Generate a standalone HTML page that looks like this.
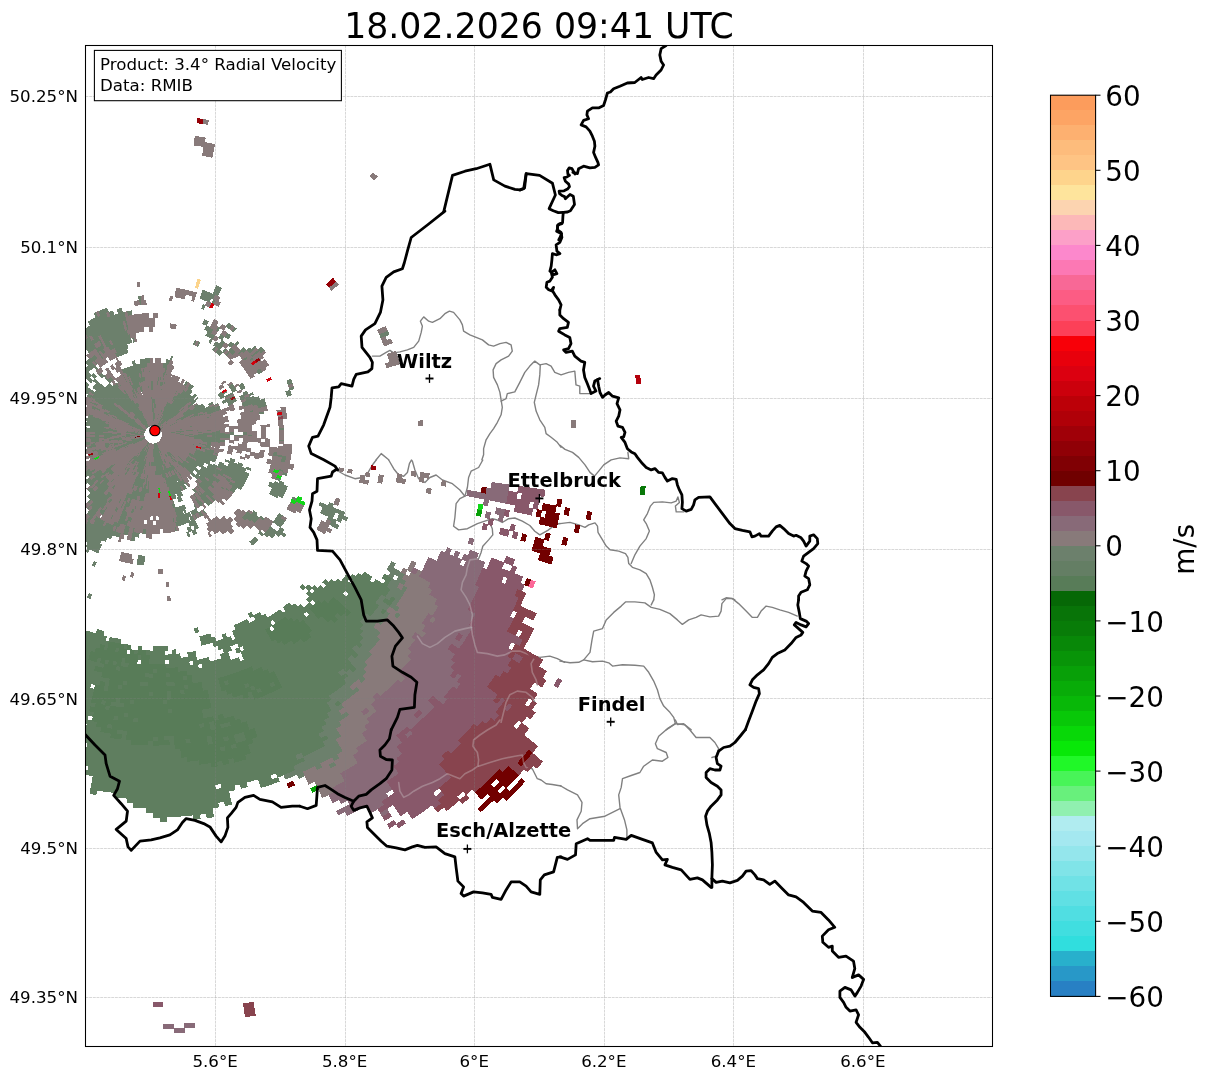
<!DOCTYPE html>
<html><head><meta charset="utf-8"><title>Radial Velocity</title>
<style>
html,body{margin:0;padding:0;background:#fff;}
svg{display:block;font-family:"DejaVu Sans","Liberation Sans",sans-serif;}
</style></head><body>
<svg width="1207" height="1081" viewBox="0 0 1207 1081">
<rect width="1207" height="1081" fill="#fff"/>
<defs><clipPath id="axclip"><rect x="85.5" y="45.5" width="907" height="1001"/></clipPath></defs>
<defs><clipPath id="blobclip"><path d="M81.5 632.7L81.5 772.2L86.2 772.4L92.5 777.9L91.6 788.7L97.5 789.6L105.2 788.4L113.1 791.0L133.1 804.8L153.0 811.0L160.7 814.9L161.4 819.3L174.6 815.9L184.7 814.7L194.8 815.9L202.1 813.4L209.3 813.4L214.2 808.6L221.9 804.8L228.8 803.6L230.7 797.6L226.0 790.5L226.8 788.5L252.0 781.0L262.4 783.4L282.0 777.2L299.9 773.4L305.7 778.7L313.1 782.4L328.3 793.8L331.0 798.5L341.4 799.4L345.7 801.5L346.2 803.2L344.1 806.1L348.3 809.7L353.7 811.2L358.8 807.0L365.4 804.0L370.6 805.2L373.3 809.3L377.9 808.8L384.6 815.6L387.6 813.2L387.1 808.3L391.2 805.1L392.7 805.1L399.9 817.0L399.6 818.4L395.8 822.2L399.8 827.6L404.0 825.1L399.7 815.7L403.4 809.7L404.8 809.7L408.6 812.6L411.8 816.4L414.8 814.6L417.3 809.6L422.3 807.7L427.8 808.5L433.4 805.8L437.0 807.3L441.1 804.0L446.7 808.1L448.8 811.6L451.0 810.0L453.3 806.1L452.9 799.7L457.4 796.6L462.5 798.1L468.0 790.3L476.4 789.2L490.2 774.5L496.3 775.2L503.8 771.6L512.8 773.3L522.1 767.0L526.7 769.2L528.8 766.4L533.4 763.6L536.2 759.4L531.1 753.9L534.2 748.6L530.6 746.4L522.0 735.7L524.4 729.6L521.8 724.0L524.9 717.7L529.0 712.7L526.6 706.8L532.8 701.8L536.2 696.7L537.2 689.3L543.2 681.6L540.7 677.8L543.2 673.3L537.1 666.4L538.5 661.1L530.2 656.8L525.1 651.6L525.5 649.9L528.2 648.5L523.2 642.3L529.3 632.6L519.5 620.5L520.2 619.2L526.1 616.3L530.2 617.6L531.1 614.8L525.5 612.4L521.3 606.5L526.4 596.2L523.2 593.7L526.1 587.4L527.4 586.6L532.7 587.3L533.1 584.3L525.6 583.7L516.1 576.1L515.8 570.5L513.6 569.4L508.5 571.9L507.0 571.7L503.1 566.7L502.9 565.3L509.9 563.6L511.3 561.2L504.6 559.2L499.1 562.7L489.9 560.1L485.6 562.8L478.5 559.8L471.7 553.9L470.7 555.2L464.3 557.2L459.5 553.6L453.9 554.4L450.8 551.5L446.7 550.1L443.6 555.7L438.5 561.6L433.8 563.7L429.8 560.2L428.8 560.4L429.8 563.8L424.3 569.2L419.5 567.6L414.5 571.1L409.4 569.5L405.2 572.9L394.2 565.0L392.3 566.4L393.6 571.3L387.9 573.6L382.6 584.0L374.1 578.3L367.3 575.8L345.2 581.4L337.6 582.0L330.3 583.9L318.0 588.8L311.4 592.7L305.1 589.4L311.2 595.5L313.8 602.2L313.0 603.8L306.5 604.0L300.1 607.7L293.7 607.0L286.7 608.8L280.5 612.6L273.1 615.0L266.4 620.2L254.9 616.5L250.8 617.5L246.8 623.8L240.5 622.8L233.3 634.9L219.1 640.1L212.2 636.5L206.9 637.6L201.6 634.9L197.0 631.0L193.5 631.7L193.9 635.8L196.0 641.1L217.8 644.7L225.2 649.6L232.5 648.4L240.4 649.8L243.8 657.0L242.7 658.9L234.6 658.9L227.2 655.2L220.6 656.3L215.2 661.4L209.7 659.0L202.2 660.9L179.6 655.1L165.8 652.6L159.8 649.1L152.6 651.4L144.7 651.4L137.1 647.7L129.4 647.6L116.7 641.2L111.8 637.5L104.7 635.2L97.0 634.4L91.1 631.1L85.8 632.7L81.5 632.7Z"/></clipPath></defs>
<g clip-path="url(#axclip)" fill="none" stroke-linejoin="round" stroke-linecap="round">
<g stroke="#808080" stroke-width="1.39">
<path d="M372.4 356.1 L379.9 356.1 L386.2 352.4 L389.9 350.4 L393.7 352.9 L399.9 351.9 L407.4 349.9 L413.7 347.4 L418.7 341.1 L421.2 332.4 L422.4 326.2 L420.4 321.2 L423.7 316.9 L428.7 321.2 L432.4 322.4 L439.9 318.7 L444.9 313.7 L449.4 311.2 L453.6 312.4 L459.9 319.9 L462.4 324.9 L463.6 331.2 L469.9 334.9 L474.9 336.9 L482.4 339.9 L488.6 344.9 L493.6 346.1 L499.9 343.6 L506.1 342.4 L511.1 344.9 L512.3 351.1 L508.6 356.1 L501.1 359.9 L496.1 363.6 L493.1 369.9 L493.6 377.4 L497.4 384.9 L499.9 392.4 L501.1 399.9 L502.3 407.3 L501.1 414.8 L497.4 422.3 L493.6 428.6 L489.9 433.6 L486.1 439.8 L483.6 448.6 L483.6 454.8 L481.9 459.8"/>
<path d="M501.1 401.1 L506.1 398.6 L507.3 393.6 L514.8 391.9 L519.8 382.4 L524.8 372.4 L529.8 366.1 L534.8 361.1 L539.8 364.9 L546.1 363.6 L551.1 366.1 L554.8 372.4 L561.1 374.9 L568.5 372.4 L574.8 371.1 L576.0 384.9 L579.8 386.1 L579.8 393.6 L589.8 393.6"/>
<path d="M540.3 364.9 L539.8 374.9 L538.6 384.9 L536.1 394.9 L534.3 402.3 L536.1 411.1 L539.8 419.8 L544.8 427.3 L546.1 433.6 L551.1 437.3 L557.3 442.3 L561.1 447.3"/>
<path d="M376.2 459.8 L381.2 453.6 L388.7 459.8"/>
<path d="M560.0 445.4 L565.0 449.4 L572.5 452.4 L578.7 457.4 L585.0 464.9 L590.0 472.4 L594.5 476.1 L598.7 471.1 L603.7 464.9 L611.2 459.9 L620.0 457.9 L628.7 458.7 L627.9 452.4"/>
<path d="M560.0 523.6 L570.0 522.4 L578.7 524.9 L585.0 527.4 L588.7 524.9 L595.0 522.9 L597.5 526.1 L598.0 532.3 L602.5 539.8 L606.2 546.1 L610.0 549.8 L618.7 551.1 L625.5 553.6 L627.9 557.3 L628.7 563.6 L632.4 567.3 L639.9 569.8 L646.2 573.6 L649.9 579.8 L652.4 587.3 L654.4 594.8 L653.7 599.8"/>
<path d="M631.2 563.6 L634.9 554.8 L639.9 546.1 L646.2 538.6 L649.4 531.1 L646.2 523.6 L643.7 519.9 L647.4 513.6 L650.4 506.1 L653.7 502.4 L662.4 501.9 L671.2 502.9 L676.2 501.1 L677.9 496.9 L679.4 502.4 L675.4 506.1 L676.2 511.9 L683.7 511.9"/>
<path d="M721.9 599.8 L726.1 597.8 L732.4 598.5 L734.9 599.8"/>
<path d="M336.2 470.0 L345.0 475.0 L354.9 478.7 L362.4 477.5 L367.4 473.7 L372.4 465.0 L376.2 460.0"/>
<path d="M388.7 460.0 L393.7 468.7 L398.7 475.0 L403.7 476.2 L407.4 472.5 L409.4 463.7 L411.4 460.0 L412.4 461.2 L414.9 470.0 L418.6 478.7 L424.9 482.5 L429.9 477.5 L436.1 475.0 L442.4 480.0 L452.4 483.7 L459.9 490.0 L464.9 496.2 L459.9 498.7 L456.1 503.7 L454.9 517.5 L453.6 526.2 L458.6 529.9 L467.4 528.7 L477.4 523.7 L484.8 521.2 L492.3 518.7 L497.3 520.0 L502.3 522.5 L508.6 518.7 L514.8 518.0 L522.3 521.2 L529.8 525.5 L534.8 531.2 L539.8 534.9 L547.8 530.4 L556.0 524.2 L560.0 523.5"/>
<path d="M464.9 496.2 L467.4 487.5 L468.6 477.5 L471.1 471.2 L478.6 467.5 L482.8 460.0"/>
<path d="M488.6 520.0 L492.3 528.7 L492.8 534.9 L488.6 539.9 L482.8 546.2 L481.1 552.4 L478.6 558.7 L469.9 559.9 L467.4 567.4 L466.1 574.9 L462.4 582.4 L461.1 589.9 L466.1 597.4 L469.9 604.9 L472.4 614.9 L471.1 624.9 L472.4 634.9 L474.9 644.9 L477.4 652.4 L487.3 653.6 L497.3 656.1 L504.8 654.9 L512.3 651.1 L519.8 651.1 L529.8 654.9 L539.8 657.4 L549.8 656.1 L557.3 658.6 L564.8 662.3"/>
<path d="M417.4 636.1 L422.4 643.6 L429.9 647.4 L437.4 643.6 L444.9 637.4 L454.9 631.1 L464.9 628.6 L471.1 627.4"/>
<path d="M501.1 722.3 L503.6 712.3 L506.1 702.3 L509.8 694.8 L517.3 691.1 L526.1 692.3 L532.3 697.3 L534.8 702.3"/>
<path d="M534.8 657.4 L531.1 663.6 L532.3 672.3 L536.1 679.8 L537.3 684.8"/>
<path d="M653.7 599.9 L651.2 604.9"/>
<path d="M560.0 661.1 L570.0 662.8 L578.7 662.3 L583.7 659.9 L590.0 652.4 L592.0 639.9 L593.7 631.1 L602.5 628.6 L606.2 619.9 L613.7 612.4 L621.2 606.1 L625.5 601.9 L634.9 601.9 L644.9 602.9 L651.2 607.4 L659.9 609.4 L669.9 613.6 L677.4 619.9 L682.4 624.4 L688.7 619.9 L696.1 617.4 L701.1 614.9 L709.9 616.9 L718.6 616.1 L721.1 611.1 L721.9 603.6 L726.1 598.6 L732.4 598.6 L738.6 603.6 L746.1 611.1 L752.4 617.4 L757.4 617.4 L761.1 611.1 L766.1 606.1 L772.3 607.4 L779.8 609.9 L788.6 612.4 L797.3 616.1"/>
<path d="M583.7 659.9 L592.5 661.8 L602.5 661.1 L608.7 662.8 L612.5 666.1 L622.5 664.8 L634.9 665.3 L643.7 666.1 L648.7 672.3 L653.7 681.1 L657.4 689.8 L659.9 698.6 L663.7 706.1 L669.9 712.3 L673.7 717.3 L675.4 723.6 L684.9 724.8 L691.2 729.8"/>
<path d="M675.4 723.6 L669.9 727.3 L666.2 729.8"/>
<path d="M675.4 720.0 L677.4 724.5 L683.7 723.7 L689.9 730.0 L696.1 737.5 L709.9 737.5 L714.9 742.5 L718.6 748.7 L716.1 756.2 L711.9 757.5"/>
<path d="M675.4 723.7 L667.4 728.7 L658.7 736.2 L655.4 743.7 L657.4 748.7 L666.2 752.5 L667.9 757.5 L662.4 761.2 L652.4 760.0 L643.7 766.2 L639.9 772.5 L631.2 775.5 L622.5 778.7 L621.2 787.4 L618.7 794.9 L620.0 807.4 L624.5 819.9 L626.9 829.9 L626.9 837.4"/>
<path d="M620.0 808.7 L605.0 816.2 L590.0 818.7 L582.5 823.7 L577.5 828.7 L577.0 819.9 L581.2 811.2 L582.0 802.4 L577.5 794.9 L567.5 789.9 L560.0 785.5"/>
<path d="M499.9 720.0 L496.1 725.0 L487.4 730.0 L479.9 735.0 L473.6 740.0 L472.9 746.2 L477.4 752.5 L478.6 760.0 L477.9 766.2 L472.4 770.0 L464.9 773.7 L459.9 778.7 L453.6 776.2 L447.4 773.7 L439.9 778.7 L432.4 782.5 L422.4 786.2 L413.7 791.2 L408.7 794.9 L403.7 797.4 L399.9 791.2 L398.7 782.5"/>
<path d="M478.6 766.2 L489.9 762.5 L502.3 758.7 L514.8 756.2 L522.3 755.0 L523.6 762.5 L526.1 767.5 L532.3 768.7 L534.8 773.7 L537.3 778.7 L541.1 780.0 L546.1 783.7 L552.3 784.5 L561.1 786.0"/>
</g></g>
<g clip-path="url(#axclip)" shape-rendering="crispEdges">
<path fill="#5F7E5F" d="M384.5 573.5L392.6 578.4L389.8 583.0L381.7 578.0ZM385.8 579.9L390.1 582.5L387.1 587.1L382.9 584.4ZM364.4 571.7L372.4 576.8L369.5 581.1L361.6 575.8ZM375.7 579.0L391.2 589.1L388.2 593.7L372.8 583.4ZM358.2 572.8L388.5 593.2L385.4 597.8L355.5 576.9ZM391.8 595.5L396.0 598.3L392.7 603.0L388.6 600.1ZM352.1 573.8L382.0 594.7L378.8 599.2L349.3 577.7ZM385.3 597.0L393.1 602.5L389.8 607.1L382.1 601.5ZM346.0 574.6L350.1 577.5L347.2 581.4L343.2 578.4ZM353.3 579.9L379.2 598.7L375.9 603.1L350.4 583.8ZM343.6 577.9L379.9 605.3L376.5 609.7L340.7 581.7ZM383.1 607.7L387.1 610.7L383.6 615.3L379.7 612.2ZM337.5 578.5L376.9 609.3L373.4 613.6L334.6 582.1ZM331.4 578.8L345.8 590.5L342.7 594.3L328.5 582.4ZM348.9 593.0L373.8 613.1L370.3 617.4L345.8 596.9ZM325.5 579.0L367.2 614.1L363.7 618.2L322.5 582.5ZM326.3 585.0L364.0 617.8L360.4 621.9L323.3 588.4ZM320.3 585.0L334.1 597.3L330.8 600.9L317.3 588.3ZM350.4 612.1L364.2 624.4L360.4 628.5L346.9 615.9ZM314.4 584.8L331.2 600.5L327.9 604.0L311.3 588.0ZM344.0 612.4L364.1 631.2L360.2 635.3L340.5 616.1ZM308.5 584.5L312.1 587.9L309.0 591.1L305.4 587.6ZM315.0 590.7L325.1 600.4L321.7 603.8L311.8 593.9ZM337.6 612.6L363.9 637.9L359.9 642.0L334.1 616.2ZM302.7 584.0L306.2 587.5L303.1 590.6L299.6 587.0ZM309.1 590.3L319.0 600.2L315.6 603.5L305.9 593.4ZM337.7 619.0L363.5 644.8L359.4 648.8L334.0 622.6ZM309.4 596.3L312.9 599.9L309.6 603.0L306.2 599.4ZM331.3 618.9L356.7 645.2L352.5 649.1L327.6 622.4ZM309.7 602.3L313.1 605.9L309.6 609.1L306.3 605.4ZM321.9 615.4L359.1 655.3L354.8 659.2L318.3 618.7ZM306.7 605.0L352.2 655.5L347.9 659.3L303.3 608.0ZM300.8 604.2L307.0 611.4L303.4 614.4L297.3 607.2ZM309.6 614.4L357.2 669.1L352.6 673.0L306.0 617.5ZM294.9 603.3L350.2 669.2L345.6 673.0L291.5 606.2ZM289.1 602.3L303.6 620.2L299.9 623.1L285.7 605.0ZM311.8 630.3L343.2 669.1L338.6 672.8L307.9 633.4ZM345.7 672.2L348.9 676.1L344.2 679.9L341.1 675.9ZM286.2 604.6L297.6 619.2L293.8 622.1L282.7 607.3ZM311.1 636.5L347.4 683.0L342.6 686.8L307.1 639.6ZM285.9 610.5L291.6 618.1L287.9 620.8L282.3 613.2ZM307.6 639.3L343.1 686.4L338.2 690.0L303.5 642.3ZM280.2 609.2L285.7 616.9L282.1 619.5L276.6 611.7ZM301.3 638.3L338.6 689.7L333.7 693.2L297.3 641.2ZM277.1 611.4L282.5 619.1L278.8 621.7L273.5 613.8ZM297.7 640.8L334.2 692.9L329.1 696.3L293.6 643.7ZM339.0 699.8L341.9 703.9L336.7 707.5L333.9 703.4ZM274.0 613.5L279.3 621.4L275.5 623.9L270.4 615.9ZM291.6 639.6L332.2 699.7L327.0 703.1L287.5 642.3ZM270.9 615.6L273.6 619.8L269.8 622.2L267.2 617.9ZM288.0 642.0L332.4 710.3L327.1 713.8L283.9 644.6ZM265.3 613.8L272.7 625.7L268.9 628.0L261.6 616.0ZM282.0 640.5L330.0 717.3L324.5 720.6L277.9 643.0ZM259.8 611.9L269.4 627.7L265.5 630.0L256.2 614.0ZM276.1 638.9L327.3 724.2L321.7 727.5L272.0 641.3ZM256.7 613.7L324.5 731.0L318.8 734.3L253.1 615.8ZM326.5 734.5L329.0 738.8L323.1 742.2L320.7 737.8ZM251.4 611.5L253.8 615.9L250.1 617.9L247.8 613.5ZM255.8 619.4L325.8 745.8L319.8 749.0L252.0 621.5ZM252.5 621.2L320.4 748.8L314.3 751.9L248.7 623.2ZM247.2 618.9L274.0 671.4L269.3 673.8L243.5 620.8ZM282.0 687.0L314.9 751.6L308.8 754.7L277.0 689.5ZM244.0 620.5L267.9 669.5L263.2 671.7L240.2 622.3ZM273.6 681.2L275.8 685.7L270.8 688.0L268.7 683.5ZM277.5 689.3L309.3 754.4L303.2 757.3L272.5 691.6ZM240.7 622.1L261.9 667.4L257.3 669.5L236.9 623.8ZM273.1 691.4L301.8 753.0L295.7 755.8L268.0 693.7ZM303.5 756.6L305.6 761.2L299.4 764.0L297.3 759.5ZM237.5 623.6L257.8 669.2L253.1 671.3L233.6 625.2ZM268.6 693.4L299.9 763.8L293.6 766.5L263.5 695.6ZM235.9 629.1L243.1 646.2L238.9 647.9L232.0 630.8ZM244.7 649.9L251.9 666.9L247.3 668.8L240.4 651.6ZM260.5 687.1L262.5 691.7L257.4 693.8L255.6 689.2ZM264.1 695.4L295.9 770.4L289.5 773.1L258.9 697.5ZM235.9 638.9L237.8 643.5L233.5 645.2L231.8 640.5ZM239.3 647.2L241.1 651.9L236.8 653.6L235.0 648.9ZM244.3 659.8L247.9 668.6L243.2 670.4L239.8 661.5ZM254.4 684.8L256.3 689.4L251.3 691.4L249.5 686.7ZM259.5 697.3L290.0 772.9L283.5 775.4L254.3 699.3ZM230.7 636.1L234.1 645.0L229.9 646.6L226.6 637.6ZM238.8 657.1L243.8 670.2L239.1 671.9L234.3 658.8ZM248.4 682.3L250.2 687.0L245.2 688.9L243.5 684.2ZM251.7 690.7L284.1 775.2L277.6 777.7L246.6 692.6ZM225.6 633.2L232.0 650.6L227.6 652.1L221.6 634.6ZM234.9 658.6L239.7 671.7L234.9 673.4L230.4 660.2ZM248.7 696.6L276.6 773.2L270.1 775.5L243.6 698.5ZM278.0 777.0L279.7 781.7L273.0 784.0L271.4 779.3ZM223.6 638.7L235.5 673.2L230.8 674.8L219.5 640.1ZM242.7 694.0L254.6 728.5L248.8 730.4L237.6 695.7ZM257.3 736.6L273.6 783.8L266.9 786.1L251.5 738.5ZM220.1 639.9L223.0 648.9L218.7 650.3L215.9 641.2ZM224.2 652.7L231.3 674.6L226.6 676.1L219.8 654.1ZM238.1 695.5L246.6 721.7L241.0 723.5L233.0 697.2ZM253.4 742.6L267.5 785.9L260.8 788.0L247.5 744.5ZM215.2 636.7L217.9 645.8L213.7 647.1L211.0 637.9ZM221.7 658.2L227.1 675.9L222.3 677.4L217.2 659.6ZM228.3 679.8L229.8 684.5L224.8 686.0L223.4 681.2ZM232.3 692.7L240.3 719.0L234.7 720.6L227.2 694.2ZM244.1 731.4L246.9 740.5L240.9 742.2L238.3 733.1ZM250.7 752.9L258.7 779.2L252.1 781.2L244.5 754.7ZM210.4 633.5L213.0 642.6L208.8 643.8L206.3 634.6ZM217.8 659.4L222.9 677.2L218.1 678.5L213.3 660.7ZM226.5 689.7L234.1 716.1L228.6 717.7L221.5 691.1ZM238.9 732.9L241.5 742.1L235.6 743.7L233.1 734.6ZM246.3 758.9L252.7 781.0L246.0 782.9L240.1 760.6ZM206.9 634.4L209.4 643.6L205.1 644.7L202.8 635.5ZM213.9 660.5L229.2 717.5L223.6 718.9L209.4 661.7ZM230.2 721.4L231.5 726.2L225.8 727.7L224.6 722.8ZM236.0 743.1L237.3 747.9L231.3 749.5L230.0 744.6ZM240.7 760.5L247.8 787.0L241.0 788.8L234.4 762.1ZM203.4 635.3L205.7 644.6L201.5 645.6L199.3 636.3ZM208.9 657.2L223.1 714.4L217.6 715.7L204.4 658.2ZM225.2 722.7L226.4 727.5L220.7 728.9L219.6 724.0ZM228.4 735.8L229.7 740.6L223.7 742.0L222.6 737.2ZM233.9 757.6L240.5 784.3L233.8 785.9L227.7 759.1ZM197.9 627.4L199.0 632.3L195.0 633.2L193.9 628.3ZM205.0 658.1L219.2 720.0L213.7 721.2L200.5 659.1ZM225.2 745.8L226.3 750.7L220.2 752.0L219.2 747.1ZM229.3 763.3L235.4 790.1L228.6 791.6L222.9 764.7ZM201.1 659.0L202.1 663.9L197.5 664.8L196.5 659.9ZM202.9 667.8L207.7 690.3L202.7 691.3L198.3 668.7ZM211.3 707.4L213.3 716.7L207.8 717.8L206.0 708.5ZM214.2 720.6L216.1 729.9L210.4 731.1L208.6 721.7ZM222.6 760.2L232.0 804.7L225.0 806.2L216.3 761.5ZM195.4 650.9L201.5 682.4L196.6 683.3L191.1 651.8ZM206.6 708.4L208.4 717.7L202.9 718.7L201.2 709.4ZM211.7 734.9L213.5 744.2L207.5 745.3L205.9 736.0ZM217.7 765.8L221.3 784.0L214.6 785.2L211.4 767.0ZM222.0 787.9L224.7 801.6L217.7 802.9L215.3 789.1ZM191.6 651.7L193.3 661.0L188.7 661.8L187.3 652.4ZM194.0 664.9L197.2 683.2L192.3 684.0L189.4 665.7ZM204.1 722.6L205.0 727.5L199.3 728.4L198.5 723.5ZM211.2 762.4L219.1 807.3L212.0 808.4L204.9 763.5ZM188.6 656.7L191.4 675.0L186.7 675.7L184.1 657.4ZM205.4 763.4L214.0 817.2L206.7 818.3L199.1 764.4ZM184.7 657.3L186.6 671.2L181.9 671.8L180.2 657.9ZM187.2 675.1L187.9 680.1L183.0 680.7L182.4 675.8ZM188.4 684.1L189.1 689.0L184.1 689.7L183.5 684.7ZM199.1 759.8L206.7 813.8L199.4 814.7L192.8 760.6ZM180.2 653.4L182.5 671.7L177.8 672.3L175.8 653.9ZM184.6 689.1L185.2 694.1L180.1 694.7L179.6 689.7ZM190.7 738.2L191.3 743.2L185.3 743.9L184.8 738.9ZM193.4 760.6L200.6 819.1L193.3 820.0L187.1 761.3ZM176.0 649.3L177.9 667.7L173.2 668.2L171.6 649.8ZM187.2 756.7L193.4 815.4L186.2 816.1L181.0 757.3ZM172.6 654.2L173.8 668.1L169.1 668.5L168.2 654.5ZM174.9 681.1L175.4 686.1L170.4 686.5L170.0 681.5ZM180.8 748.3L186.8 816.1L179.5 816.6L174.8 748.8ZM168.1 645.5L168.5 650.5L164.1 650.8L163.9 645.8ZM168.8 654.5L169.1 659.5L164.6 659.8L164.3 654.8ZM169.4 663.5L169.7 668.5L165.1 668.7L164.8 663.8ZM170.0 672.4L170.4 677.4L165.5 677.7L165.3 672.7ZM170.6 681.4L171.0 686.4L166.0 686.7L165.7 681.7ZM171.3 690.4L171.9 699.9L166.7 700.2L166.2 690.7ZM172.5 708.4L172.9 713.3L167.4 713.7L167.2 708.7ZM174.4 735.3L180.1 816.6L172.8 817.0L168.6 735.7ZM164.5 645.7L165.4 664.2L160.8 664.4L160.2 645.9ZM167.3 699.7L167.5 704.7L162.2 704.9L162.1 699.9ZM169.2 735.6L169.4 740.6L163.5 740.9L163.3 735.9ZM169.6 744.6L173.4 817.0L166.2 817.3L163.6 744.9ZM160.8 645.9L161.4 664.4L156.8 664.5L156.5 646.0ZM164.2 744.9L166.9 821.8L159.6 822.0L158.2 745.0ZM157.1 646.0L157.4 664.5L152.8 664.5L152.8 646.0ZM157.5 668.5L157.6 673.5L152.8 673.5L152.8 668.5ZM158.7 736.0L158.7 741.0L152.8 741.0L152.8 736.0ZM158.8 745.0L160.1 817.5L152.8 817.5L152.8 745.0ZM153.4 650.5L153.4 664.5L148.8 664.5L149.0 650.5ZM153.4 673.0L153.4 678.0L148.6 678.0L148.6 673.0ZM153.4 691.0L153.4 696.0L148.2 696.0L148.3 691.0ZM153.4 740.5L153.4 813.0L146.2 813.0L147.5 740.5ZM149.6 650.5L149.5 655.5L145.1 655.4L145.3 650.4ZM149.2 673.0L149.2 678.0L144.3 677.9L144.5 672.9ZM149.1 682.0L149.0 687.0L144.0 686.9L144.2 681.9ZM148.0 745.0L146.9 808.5L139.8 808.3L142.0 744.9ZM144.8 681.9L144.6 686.9L139.6 686.7L139.9 681.7ZM142.6 744.9L140.4 808.3L133.2 808.0L136.6 744.6ZM141.9 654.8L141.6 659.8L137.1 659.5L137.4 654.5ZM138.6 717.7L138.3 722.7L132.7 722.3L133.0 717.3ZM137.2 744.6L134.1 803.6L127.0 803.1L131.2 744.3ZM138.3 650.0L138.0 655.0L133.6 654.7L134.0 649.7ZM134.9 699.4L134.5 704.4L129.2 704.0L129.7 699.0ZM132.1 739.8L128.0 798.7L121.0 798.1L126.2 739.4ZM129.1 712.5L128.7 717.5L123.1 717.0L123.7 712.0ZM127.5 730.4L121.6 798.2L114.7 797.5L121.8 729.9ZM129.4 662.8L128.9 667.8L124.3 667.3L124.9 662.3ZM127.6 680.7L127.0 685.7L122.1 685.1L122.7 680.2ZM125.2 703.1L124.7 708.1L119.3 707.5L119.9 702.5ZM122.4 730.0L121.9 734.9L116.0 734.3L116.6 729.3ZM121.4 738.9L115.7 793.1L108.9 792.3L115.5 738.2ZM127.7 644.5L127.0 649.5L122.7 648.9L123.4 644.0ZM126.0 657.9L124.9 667.3L120.2 666.7L121.5 657.3ZM122.7 684.7L122.1 689.7L117.1 689.0L117.8 684.1ZM121.1 698.1L119.9 707.5L114.6 706.8L115.9 697.4ZM118.9 716.0L118.3 720.9L112.7 720.2L113.4 715.3ZM116.1 738.3L109.5 792.4L102.7 791.5L110.3 737.5ZM120.9 666.3L120.2 671.3L115.5 670.6L116.2 665.6ZM115.9 702.0L115.2 706.9L109.8 706.1L110.6 701.2ZM112.7 724.2L112.0 729.2L106.3 728.3L107.1 723.4ZM111.5 733.2L103.3 791.6L96.4 790.6L105.7 732.3ZM121.1 639.1L120.3 644.0L116.0 643.3L116.9 638.4ZM119.6 647.9L118.9 652.9L114.5 652.1L115.3 647.2ZM117.5 661.3L116.8 666.2L112.1 665.4L113.0 660.5ZM110.5 705.7L109.7 710.7L104.3 709.8L105.2 704.8ZM106.3 732.4L96.3 795.1L89.5 794.0L100.5 731.4ZM117.5 638.5L116.6 643.4L112.4 642.6L113.4 637.7ZM110.5 678.3L108.0 692.1L103.0 691.2L105.6 677.4ZM106.6 700.5L105.7 705.4L100.4 704.4L101.3 699.5ZM101.9 727.1L93.2 776.3L86.6 775.1L96.2 726.0ZM113.9 637.8L113.0 642.7L108.8 641.9L109.8 637.0ZM109.7 659.9L108.7 664.8L104.1 663.9L105.1 659.0ZM106.2 677.6L105.3 682.5L100.4 681.5L101.4 676.6ZM97.6 721.7L88.9 766.4L82.6 765.1L92.0 720.6ZM88.2 770.3L87.2 775.2L80.7 773.9L81.8 769.0ZM109.5 641.5L107.5 650.8L103.1 649.8L105.3 640.6ZM104.8 663.5L103.8 668.4L99.1 667.4L100.2 662.5ZM102.9 672.3L100.0 686.0L95.1 684.9L98.2 671.3ZM96.4 703.1L95.3 708.0L90.0 706.8L91.1 702.0ZM94.5 711.9L93.5 716.8L88.0 715.6L89.1 710.7ZM92.6 720.7L87.8 743.2L81.9 741.9L87.1 719.5ZM87.0 747.1L83.2 765.2L76.8 763.8L81.0 745.8ZM106.9 636.3L104.7 645.6L100.5 644.6L102.8 635.3ZM101.8 658.2L99.7 667.5L95.0 666.4L97.3 657.2ZM98.8 671.4L95.6 685.0L90.7 683.9L94.1 670.3ZM94.7 688.9L86.5 724.5L80.9 723.1L89.7 687.7ZM85.6 728.4L83.5 737.7L77.6 736.2L79.9 727.0ZM104.5 631.1L100.0 649.1L95.7 648.0L100.5 630.1ZM96.8 661.7L85.8 705.8L80.5 704.5L92.3 660.5ZM84.9 709.7L83.7 714.6L78.2 713.2L79.5 708.3ZM101.0 630.2L95.1 652.5L90.7 651.2L97.1 629.1ZM92.9 660.7L85.8 687.2L80.8 685.8L88.4 659.4ZM83.6 695.4L82.3 700.3L77.1 698.8L78.5 694.0ZM96.4 633.6L86.3 668.7L81.7 667.3L92.4 632.4ZM85.2 672.6L83.9 677.4L79.1 675.9L80.5 671.2ZM82.8 681.2L81.4 686.0L76.4 684.5L77.9 679.8ZM92.9 632.6L83.6 663.2L79.0 661.8L88.9 631.3ZM89.5 631.5L83.8 649.1L79.5 647.7L85.5 630.2ZM86.1 630.4L81.5 643.6L77.3 642.1L82.1 629.0Z"/>
<path fill="#587C58" d="M333.7 597.0L350.8 612.4L347.3 616.3L330.4 600.6ZM330.8 600.1L344.4 612.8L340.8 616.5L327.5 603.6ZM324.7 600.1L338.0 612.9L334.4 616.6L321.4 603.5ZM318.6 599.9L338.0 619.3L334.4 622.9L315.3 603.2ZM315.7 602.7L331.7 619.3L328.0 622.8L312.3 606.0ZM312.7 605.5L322.3 615.8L318.7 619.1L309.3 608.7ZM303.3 619.8L312.1 630.6L308.2 633.8L299.5 622.7ZM297.2 618.8L311.4 636.9L307.4 640.0L293.5 621.7ZM291.3 617.7L307.9 639.7L303.8 642.7L287.6 620.4ZM285.4 616.5L301.6 638.7L297.5 641.6L281.8 619.1ZM282.3 618.7L298.0 641.3L293.9 644.1L278.5 621.3ZM279.0 621.0L291.9 640.0L287.8 642.7L275.3 623.5ZM275.8 623.1L288.3 642.4L284.1 645.1L271.9 625.6ZM274.8 629.1L282.3 640.9L278.1 643.5L270.9 631.5ZM269.1 627.3L276.3 639.3L272.2 641.7L265.2 629.6ZM273.8 671.0L282.2 687.5L277.2 690.0L269.1 673.3ZM267.7 669.0L273.8 681.6L268.9 683.9L263.0 671.2ZM275.6 685.2L277.8 689.7L272.7 692.1L270.6 687.6ZM261.7 666.9L273.3 691.8L268.2 694.1L257.1 669.0ZM257.6 668.8L268.8 693.9L263.7 696.1L252.9 670.8ZM251.7 666.4L260.7 687.6L255.7 689.7L247.1 668.3ZM262.3 691.3L264.2 695.9L259.1 698.0L257.2 693.4ZM247.7 668.1L254.6 685.3L249.7 687.2L243.0 669.9ZM256.1 689.0L259.7 697.8L254.5 699.8L251.1 690.9ZM243.6 669.7L248.6 682.8L243.7 684.6L238.9 671.5ZM250.0 686.5L251.8 691.2L246.8 693.1L245.1 688.4ZM239.5 671.3L248.9 697.1L243.7 698.9L234.8 672.9ZM235.3 672.7L242.8 694.5L237.7 696.2L230.6 674.3ZM254.4 728.0L257.5 737.0L251.6 739.0L248.7 730.0ZM231.2 674.1L238.3 696.0L233.1 697.6L226.4 675.6ZM246.5 721.2L253.6 743.1L247.6 745.0L240.9 723.0ZM227.0 675.5L228.5 680.2L223.6 681.7L222.2 676.9ZM229.6 684.1L232.4 693.2L227.3 694.7L224.7 685.5ZM240.1 718.5L244.2 731.9L238.5 733.6L234.6 720.1ZM246.7 740.0L250.8 753.4L244.7 755.2L240.8 741.8ZM222.8 676.7L226.6 690.2L221.6 691.6L218.0 678.0ZM233.9 715.6L239.0 733.4L233.2 735.0L228.5 717.2ZM241.4 741.6L246.5 759.4L240.2 761.1L235.4 743.2ZM229.0 717.0L230.3 721.8L224.7 723.3L223.5 718.4ZM231.4 725.7L236.1 743.6L230.2 745.1L225.7 727.2ZM237.2 747.4L240.8 761.0L234.5 762.6L231.1 749.0ZM223.0 713.9L225.3 723.1L219.7 724.5L217.5 715.2ZM226.3 727.0L228.6 736.2L222.7 737.7L220.6 728.4ZM229.5 740.1L234.0 758.1L227.8 759.6L223.6 741.6ZM219.1 719.5L225.3 746.3L219.3 747.6L213.6 720.7ZM226.2 750.2L229.4 763.8L223.0 765.2L220.1 751.5ZM207.6 689.8L211.5 707.9L206.1 709.0L202.6 690.8ZM213.2 716.2L214.3 721.1L208.7 722.2L207.7 717.3ZM216.0 729.4L222.7 760.7L216.4 762.0L210.3 730.6ZM201.4 681.9L206.7 708.9L201.3 709.9L196.5 682.8ZM208.3 717.2L211.8 735.4L206.0 736.4L202.8 718.2ZM213.5 743.7L217.8 766.3L211.5 767.5L207.5 744.8ZM197.1 682.7L204.2 723.1L198.6 724.0L192.2 683.5ZM204.9 727.0L211.3 762.9L204.9 764.0L199.2 727.9ZM191.4 674.5L205.5 763.9L199.2 764.8L186.6 675.2ZM186.6 670.7L187.3 675.6L182.4 676.3L181.8 671.3ZM187.8 679.6L188.5 684.6L183.5 685.2L182.9 680.2ZM189.1 688.5L199.2 760.3L192.9 761.1L184.0 689.2ZM182.4 671.2L184.7 689.6L179.6 690.2L177.7 671.8ZM185.2 693.6L190.7 738.7L184.8 739.4L180.1 694.2ZM191.2 742.7L193.5 761.1L187.2 761.8L185.2 743.4ZM177.8 667.2L187.3 757.2L181.1 757.8L173.2 667.7ZM173.8 667.6L175.0 681.6L170.1 682.0L169.1 668.0ZM175.3 685.6L180.9 748.8L174.8 749.3L170.4 686.0ZM169.7 668.0L170.1 672.9L165.3 673.2L165.0 668.2ZM170.3 676.9L170.7 681.9L165.8 682.2L165.5 677.2ZM171.0 685.9L171.3 690.9L166.2 691.2L166.0 686.2ZM171.9 699.4L172.6 708.9L167.2 709.2L166.7 699.7ZM172.8 712.8L174.4 735.8L168.6 736.2L167.4 713.2ZM165.4 663.7L167.3 700.2L162.1 700.4L160.8 663.9ZM167.5 704.2L169.2 736.1L163.3 736.4L162.2 704.4ZM169.4 740.1L169.7 745.1L163.6 745.4L163.5 740.4ZM161.4 663.9L164.2 745.4L158.2 745.5L156.8 664.0ZM157.4 664.0L157.5 669.0L152.8 669.0L152.8 664.0ZM157.6 673.0L158.7 736.5L152.8 736.5L152.8 673.0ZM158.7 740.5L158.8 745.5L152.8 745.5L152.8 740.5ZM153.4 664.0L153.4 673.5L148.6 673.5L148.8 664.0ZM153.4 677.5L153.4 691.5L148.3 691.5L148.6 677.5ZM153.4 695.5L153.4 741.0L147.5 741.0L148.2 695.5ZM149.6 655.0L149.2 673.5L144.5 673.4L145.1 654.9ZM149.2 677.5L149.1 682.5L144.2 682.4L144.3 677.4ZM149.0 686.5L148.0 745.5L142.0 745.4L144.0 686.4ZM145.9 650.4L144.8 682.4L139.8 682.2L141.5 650.2ZM144.6 686.4L142.6 745.4L136.5 745.1L139.6 686.2ZM142.3 645.8L141.8 655.3L137.4 655.0L138.1 645.5ZM141.4 663.8L138.5 718.2L133.0 717.8L136.8 663.5ZM138.3 722.2L137.1 745.1L131.1 744.8L132.7 721.8ZM138.0 654.5L134.9 699.9L129.6 699.5L133.6 654.2ZM134.6 703.9L132.0 740.3L126.1 739.9L129.3 703.5ZM134.6 649.8L129.1 713.0L123.6 712.5L130.2 649.3ZM128.7 717.0L127.5 730.9L121.7 730.4L123.2 716.5ZM131.3 644.9L130.8 649.9L126.4 649.4L127.1 644.4ZM130.4 653.9L129.4 663.3L124.8 662.8L126.0 653.4ZM129.0 667.3L127.5 681.2L122.6 680.7L124.3 666.8ZM127.1 685.2L125.1 703.6L119.9 703.0L122.1 684.6ZM124.7 707.6L122.3 730.5L116.6 729.8L119.4 707.0ZM121.9 734.4L121.4 739.4L115.5 738.7L116.1 733.8ZM127.1 649.0L125.9 658.4L121.5 657.8L122.8 648.4ZM124.9 666.8L122.7 685.2L117.7 684.6L120.3 666.2ZM122.2 689.2L121.0 698.6L115.8 697.9L117.1 688.5ZM120.0 707.0L118.8 716.5L113.3 715.7L114.6 706.3ZM118.3 720.4L116.1 738.8L110.2 738.0L112.8 719.7ZM124.0 644.0L120.8 666.8L116.2 666.1L119.8 643.4ZM120.2 670.8L115.8 702.5L110.5 701.7L115.5 670.1ZM115.2 706.4L112.7 724.7L107.0 723.9L109.9 705.6ZM112.1 728.7L111.4 733.7L105.6 732.8L106.4 727.8ZM120.3 643.5L119.6 648.4L115.3 647.7L116.1 642.8ZM118.9 652.4L117.5 661.8L112.9 661.0L114.6 651.7ZM116.8 665.7L110.4 706.2L105.1 705.3L112.2 664.9ZM109.8 710.2L106.2 732.9L100.4 731.9L104.4 709.3ZM116.7 642.9L110.4 678.8L105.5 677.9L112.5 642.1ZM108.1 691.6L106.5 701.0L101.2 700.0L103.1 690.7ZM105.8 704.9L101.8 727.6L96.1 726.5L100.5 704.0ZM113.1 642.2L109.6 660.4L105.0 659.5L108.9 641.4ZM108.8 664.3L106.1 678.1L101.3 677.1L104.2 663.4ZM105.4 682.0L97.5 722.2L91.9 721.1L100.5 681.0ZM107.6 650.3L104.7 664.0L100.1 663.0L103.3 649.3ZM103.9 667.9L102.8 672.8L98.1 671.7L99.2 666.9ZM100.1 685.5L96.3 703.6L91.0 702.4L95.2 684.4ZM95.4 707.5L94.4 712.4L89.0 711.2L90.1 706.3ZM104.9 645.1L101.7 658.7L97.2 657.7L100.6 644.1ZM99.8 667.0L98.7 671.9L94.0 670.8L95.2 665.9ZM100.1 648.6L96.7 662.2L92.2 661.0L95.8 647.5ZM95.2 652.0L92.8 661.1L88.2 659.9L90.9 650.8Z"/>
<path fill="#6C806C" d="M152.8 421.6L152.8 398.6L154.0 398.6L153.6 421.6ZM153.0 426.1L153.3 407.6L154.4 407.6L153.7 426.1ZM153.3 403.6L153.4 398.6L154.7 398.6L154.5 403.6ZM153.1 426.1L153.6 412.1L154.6 412.1L153.8 426.1ZM153.7 408.1L154.1 398.6L155.3 398.6L154.8 408.1ZM154.4 390.1L154.5 385.1L156.0 385.1L155.7 390.1ZM153.3 426.1L154.0 412.1L155.0 412.1L154.0 426.1ZM154.2 408.1L154.7 398.6L155.9 398.7L155.3 408.1ZM153.7 421.6L154.4 412.1L155.4 412.2L154.5 421.6ZM154.7 408.1L155.0 403.1L156.2 403.2L155.7 408.2ZM156.2 385.7L156.6 380.7L158.1 380.8L157.7 385.8ZM154.0 421.6L154.8 412.1L155.8 412.2L154.8 421.7ZM155.1 408.1L155.6 403.1L156.7 403.3L156.2 408.2ZM157.1 385.7L158.3 371.8L160.0 371.9L158.5 385.9ZM153.7 426.1L154.2 421.1L155.1 421.2L154.5 426.2ZM157.0 394.7L157.5 389.8L158.9 389.9L158.3 394.9ZM153.9 426.1L154.5 421.1L155.3 421.2L154.6 426.2ZM155.5 412.7L156.1 407.7L157.2 407.9L156.5 412.8ZM158.8 385.9L160.5 372.0L162.2 372.2L160.2 386.1ZM154.0 426.1L154.7 421.1L155.6 421.3L154.8 426.2ZM159.7 386.0L160.4 381.0L161.9 381.3L161.1 386.2ZM162.2 368.2L162.9 363.2L164.7 363.5L163.9 368.4ZM160.5 386.1L161.3 381.2L162.8 381.4L161.9 386.4ZM161.9 377.2L162.7 372.3L164.4 372.6L163.5 377.5ZM163.3 368.3L164.1 363.4L165.9 363.7L165.1 368.6ZM160.6 390.7L166.1 359.2L168.0 359.5L161.9 390.9ZM164.8 373.1L167.4 359.4L169.4 359.8L166.4 373.5ZM154.6 426.2L157.5 412.5L158.5 412.7L155.4 426.3ZM163.0 386.6L164.1 381.7L165.6 382.0L164.5 386.9ZM164.9 377.8L166.0 372.9L167.6 373.2L166.5 378.1ZM167.7 364.6L168.8 359.7L170.7 360.1L169.5 365.0ZM170.0 360.4L171.1 355.6L173.0 356.0L171.8 360.9ZM156.0 421.9L158.3 412.7L159.3 412.9L156.8 422.1ZM155.1 426.3L158.7 412.7L159.7 413.0L155.8 426.5ZM160.9 404.5L162.2 399.7L163.4 400.0L162.0 404.8ZM156.5 422.0L157.8 417.2L158.7 417.4L157.3 422.2ZM155.5 426.4L157.1 421.6L157.9 421.9L156.2 426.6ZM158.3 417.8L161.2 408.8L162.3 409.1L159.2 418.1ZM160.1 413.7L161.7 408.9L162.7 409.3L161.0 414.0ZM199.6 298.8L202.7 289.8L205.8 290.9L202.5 299.8ZM155.8 426.5L163.7 404.9L164.8 405.3L156.5 426.7ZM202.0 299.6L205.2 290.7L208.3 291.8L204.9 300.7ZM156.0 426.5L157.7 421.9L158.5 422.2L156.6 426.8ZM201.1 308.9L202.9 304.2L205.7 305.3L203.9 310.0ZM204.3 300.5L207.7 291.6L210.8 292.8L207.2 301.6ZM159.5 418.2L161.3 413.6L162.3 414.0L160.3 418.6ZM162.8 409.9L164.7 405.2L165.8 405.7L163.8 410.3ZM206.7 301.4L210.2 292.6L213.3 293.9L209.5 302.6ZM159.8 418.3L168.7 397.2L169.9 397.7L160.6 418.7ZM210.8 298.2L216.2 285.3L219.4 286.7L213.7 299.5ZM156.4 426.7L167.6 401.6L168.7 402.1L157.1 427.0ZM193.0 344.5L195.0 339.9L197.2 340.9L195.1 345.4ZM202.1 323.9L204.2 319.3L206.7 320.5L204.6 325.0ZM211.3 303.4L213.3 298.8L216.2 300.1L214.1 304.6ZM215.0 295.1L218.8 286.5L221.9 287.9L217.9 296.5ZM156.5 426.8L160.5 418.1L161.4 418.5L157.2 427.1ZM162.2 414.5L168.1 401.8L169.3 402.4L163.1 414.9ZM204.1 324.8L206.2 320.3L208.7 321.5L206.5 326.0ZM156.7 426.8L170.7 398.0L171.9 398.6L157.3 427.1ZM196.1 345.9L198.3 341.4L200.5 342.5L198.2 346.9ZM204.0 329.7L206.2 325.2L208.6 326.5L206.4 330.9ZM156.8 426.9L169.3 402.4L170.4 402.9L157.5 427.2ZM205.8 330.6L208.1 326.2L210.5 327.4L208.2 331.9ZM156.9 426.9L169.9 402.7L170.9 403.2L157.6 427.3ZM171.7 399.1L176.2 390.7L177.5 391.4L172.9 399.7ZM205.5 335.5L210.0 327.2L212.4 328.5L207.8 336.8ZM157.1 427.0L174.8 395.1L176.0 395.8L157.7 427.4ZM207.3 336.5L211.9 328.2L214.2 329.5L209.5 337.7ZM157.2 427.1L159.7 422.7L160.4 423.2L157.9 427.5ZM161.7 419.3L171.0 403.3L172.0 403.9L162.5 419.7ZM173.0 399.8L175.5 395.5L176.7 396.2L174.1 400.5ZM209.0 337.4L211.5 333.1L213.7 334.5L211.2 338.7ZM157.4 427.2L178.5 392.0L179.7 392.8L158.0 427.5ZM208.3 342.3L213.2 334.1L215.5 335.5L210.5 343.6ZM215.3 330.7L217.9 326.4L220.3 327.9L217.6 332.1ZM157.5 427.2L179.2 392.5L180.4 393.2L158.1 427.6ZM183.7 385.2L186.4 381.0L187.8 381.9L185.1 386.1ZM157.6 427.3L179.9 392.9L181.2 393.7L158.2 427.7ZM184.6 385.8L187.3 381.6L188.7 382.5L185.9 386.7ZM157.7 427.4L185.7 385.9L187.0 386.8L158.4 427.8ZM213.1 345.3L215.9 341.2L218.0 342.6L215.1 346.7ZM218.1 337.8L220.9 333.7L223.2 335.2L220.3 339.3ZM225.7 326.7L228.5 322.5L230.9 324.2L228.1 328.3ZM157.9 427.5L184.0 390.2L185.2 391.1L158.5 427.9ZM212.1 350.1L217.5 342.3L219.6 343.8L214.0 351.4ZM219.8 339.0L222.7 334.9L224.9 336.5L222.0 340.5ZM227.6 327.9L230.4 323.8L232.8 325.6L229.9 329.6ZM158.0 427.6L184.7 390.7L186.0 391.7L158.6 428.0ZM187.1 387.5L190.0 383.5L191.4 384.5L188.4 388.5ZM216.2 347.5L221.8 339.8L223.9 341.3L218.2 348.9ZM224.1 336.5L227.1 332.5L229.3 334.2L226.3 338.1ZM158.1 427.6L190.9 384.1L192.3 385.1L158.7 428.1ZM215.0 352.2L223.4 341.0L225.5 342.6L216.9 353.6ZM225.8 337.8L228.8 333.8L231.1 335.5L228.0 339.4ZM231.2 330.6L234.3 326.6L236.6 328.4L233.5 332.3ZM158.3 427.7L191.8 384.8L193.1 385.8L158.8 428.2ZM216.4 353.3L219.5 349.3L221.5 350.9L218.3 354.7ZM158.4 427.8L192.7 385.5L194.0 386.5L158.9 428.3ZM217.8 354.4L221.0 350.5L222.9 352.1L219.7 355.9ZM161.4 424.5L176.2 406.8L177.1 407.6L162.0 425.0ZM178.7 403.8L190.6 389.6L191.9 390.7L179.7 404.6ZM222.1 352.1L225.3 348.2L227.3 349.9L224.0 353.7ZM227.9 345.2L231.1 341.3L233.2 343.1L229.9 346.9ZM161.6 424.6L191.4 390.3L192.6 391.3L162.2 425.2ZM229.5 346.5L232.7 342.7L234.8 344.5L231.4 348.2ZM158.7 428.1L189.2 394.3L190.3 395.3L159.3 428.6ZM225.0 354.5L231.3 347.5L233.3 349.3L226.8 356.2ZM234.0 344.5L237.4 340.8L239.4 342.7L236.0 346.3ZM165.0 421.6L189.9 394.9L191.0 396.0L165.6 422.2ZM229.4 352.5L232.8 348.8L234.8 350.7L231.3 354.3ZM159.0 428.3L190.6 395.6L191.7 396.7L159.5 428.8ZM230.9 353.8L234.3 350.2L236.2 352.1L232.7 355.6ZM159.1 428.4L162.6 424.9L163.2 425.5L159.6 428.9ZM165.4 422.0L191.2 396.2L192.3 397.3L166.1 422.7ZM159.2 428.5L195.2 393.8L196.3 395.0L159.7 429.0ZM236.9 353.5L243.7 346.9L245.6 348.9L238.7 355.4ZM169.2 419.4L179.4 409.9L180.2 410.8L169.8 420.1ZM182.3 407.1L195.9 394.5L197.0 395.7L183.2 408.1ZM241.6 351.9L245.2 348.5L247.1 350.5L243.4 353.9ZM159.4 428.7L166.5 422.4L167.1 423.1L159.9 429.3ZM169.4 419.7L183.2 407.3L184.1 408.3L170.1 420.4ZM189.5 401.6L193.2 398.3L194.2 399.4L190.5 402.7ZM246.3 350.4L250.1 347.1L252.0 349.2L248.2 352.5ZM162.9 425.9L166.7 422.6L167.3 423.3L163.4 426.5ZM173.1 417.0L183.7 407.8L184.5 408.8L173.8 417.8ZM190.1 402.3L193.8 399.0L194.9 400.2L191.0 403.4ZM247.8 352.1L255.0 345.8L256.9 348.1L249.6 354.2ZM159.6 429.0L173.8 417.1L174.5 417.9L160.1 429.5ZM187.2 405.8L197.9 396.8L198.9 398.1L188.1 406.9ZM242.3 359.5L246.2 356.3L247.9 358.4L244.0 361.6ZM159.7 429.1L163.6 425.9L164.1 426.6L160.2 429.6ZM170.2 420.6L174.1 417.4L174.8 418.3L170.8 421.3ZM187.7 406.4L195.1 400.4L196.0 401.6L188.5 407.5ZM250.6 355.4L261.5 346.6L263.4 349.0L252.4 357.6ZM159.8 429.2L163.7 426.1L164.3 426.8L160.3 429.8ZM166.9 423.6L170.8 420.6L171.4 421.4L167.5 424.4ZM177.5 415.3L192.1 403.9L193.0 405.1L178.2 416.2ZM248.5 359.9L252.4 356.8L254.1 359.1L250.1 362.1ZM259.1 351.6L263.0 348.5L264.9 350.9L260.9 353.9ZM159.9 429.3L163.9 426.3L164.4 427.0L160.3 429.9ZM160.0 429.4L167.7 423.8L168.2 424.6L160.4 430.0ZM181.8 413.5L189.5 408.0L190.3 409.1L182.6 414.5ZM160.1 429.5L164.2 426.7L164.7 427.4L160.5 430.2ZM174.8 419.2L178.9 416.3L179.6 417.3L175.4 420.1ZM182.2 414.1L197.4 403.4L198.2 404.7L182.9 415.1ZM182.6 414.6L190.4 409.2L191.2 410.4L183.2 415.6ZM193.8 407.0L197.9 404.2L198.8 405.5L194.6 408.2ZM175.4 420.0L179.6 417.3L180.2 418.2L175.9 420.9ZM182.9 415.1L198.4 405.0L199.3 406.3L183.6 416.1ZM228.2 385.7L232.4 382.9L233.6 384.8L229.4 387.5ZM160.4 429.9L202.8 403.4L203.6 404.8L160.7 430.5ZM217.6 394.1L221.8 391.5L222.9 393.2L218.6 395.8ZM229.1 387.0L233.3 384.3L234.5 386.3L230.2 388.8ZM255.8 370.3L260.0 367.6L261.5 370.0L257.2 372.6ZM164.3 427.7L168.6 425.1L169.1 425.9L164.7 428.4ZM175.9 420.8L203.3 404.3L204.1 405.7L176.4 421.7ZM218.3 395.3L226.4 390.4L227.5 392.2L219.3 396.9ZM229.9 388.3L234.2 385.7L235.3 387.7L231.0 390.2ZM256.9 372.1L261.2 369.5L262.6 371.9L258.3 374.4ZM180.0 418.9L203.8 405.2L204.6 406.6L180.6 419.9ZM219.0 396.4L223.3 393.9L224.3 395.7L219.9 398.1ZM230.7 389.7L235.0 387.2L236.1 389.1L231.7 391.6ZM238.5 385.2L242.8 382.7L244.0 384.8L239.6 387.2ZM168.5 425.9L204.3 406.1L205.1 407.5L168.9 426.7ZM207.8 404.1L212.2 401.7L213.1 403.3L208.6 405.6ZM219.6 397.6L224.0 395.1L225.0 396.9L220.6 399.3ZM231.5 391.0L235.8 388.6L236.9 390.6L232.5 392.9ZM239.3 386.7L243.7 384.2L244.8 386.4L240.4 388.7ZM160.7 430.4L165.1 428.1L165.5 428.8L161.0 431.1ZM168.6 426.2L177.0 421.7L177.5 422.7L169.0 427.0ZM180.6 419.9L204.8 407.0L205.6 408.4L181.1 420.9ZM208.4 405.1L212.8 402.7L213.6 404.3L209.1 406.6ZM224.3 396.6L232.6 392.2L233.6 394.1L225.2 398.4ZM240.2 388.2L244.6 385.8L245.7 388.0L241.2 390.2ZM192.8 414.2L209.3 405.8L210.1 407.3L193.5 415.5ZM181.1 420.8L185.5 418.6L186.1 419.8L181.5 421.9ZM189.1 416.9L217.9 402.9L218.7 404.5L189.7 418.1ZM221.5 401.1L234.1 395.0L235.0 396.9L222.3 402.8ZM189.5 417.5L198.1 413.5L198.7 414.8L190.0 418.7ZM201.7 411.8L214.4 405.9L215.1 407.5L202.3 413.2ZM222.1 402.3L230.7 398.3L231.6 400.2L222.9 404.1ZM242.5 392.8L247.0 390.7L248.0 392.9L243.4 394.9ZM169.2 427.3L173.8 425.3L174.2 426.2L169.6 428.1ZM185.6 420.0L190.2 418.0L190.7 419.2L186.1 421.1ZM193.9 416.3L219.0 405.1L219.7 406.8L194.4 417.6ZM226.7 401.7L235.4 397.8L236.3 399.8L227.5 403.5ZM239.1 396.2L247.8 392.3L248.7 394.5L240.0 398.2ZM378.9 334.0L387.5 330.1L389.6 334.8L380.8 338.5ZM198.3 415.3L202.9 413.3L203.5 414.8L198.9 416.6ZM206.6 411.8L219.5 406.3L220.2 408.0L207.2 413.3ZM227.3 403.0L236.1 399.3L236.9 401.3L228.1 404.8ZM239.7 397.7L244.3 395.7L245.2 397.9L240.6 399.8ZM248.0 394.2L252.6 392.2L253.6 394.5L248.9 396.4ZM202.8 414.4L220.0 407.5L220.7 409.2L203.4 415.8ZM227.9 404.3L232.5 402.4L233.3 404.4L228.6 406.1ZM240.4 399.2L249.2 395.7L250.1 397.9L241.2 401.3ZM286.3 380.7L290.9 378.8L292.1 381.8L287.4 383.6ZM207.4 413.6L220.4 408.6L221.1 410.4L207.9 415.2ZM245.2 399.1L254.1 395.7L254.9 398.1L246.0 401.3ZM287.2 383.0L291.9 381.2L293.0 384.2L288.3 385.9ZM241.6 402.3L258.9 396.0L259.8 398.4L242.3 404.4ZM208.1 415.6L212.8 413.9L213.3 415.5L208.6 417.1ZM242.1 403.8L259.6 397.8L260.4 400.2L242.8 406.0ZM288.9 387.7L293.6 386.1L294.7 389.1L289.9 390.7ZM204.1 417.9L208.9 416.4L209.4 417.9L204.6 419.4ZM242.6 405.4L264.5 398.3L265.3 400.8L243.3 407.5ZM285.4 391.5L290.2 389.9L291.1 392.9L286.4 394.4ZM251.8 404.3L265.1 400.2L265.9 402.8L252.4 406.6ZM286.2 393.8L291.0 392.3L291.8 395.3L287.0 396.7ZM256.6 404.8L265.7 402.2L266.4 404.7L257.3 407.2ZM257.1 406.6L266.3 404.2L266.9 406.7L257.7 409.0ZM248.8 410.6L253.7 409.4L254.3 411.8L249.4 412.9ZM187.9 426.5L192.7 425.3L193.0 426.6L188.1 427.7ZM179.2 428.9L184.1 427.9L184.3 429.0L179.4 430.0ZM188.0 427.1L192.9 426.0L193.2 427.3L188.2 428.3ZM258.4 412.1L263.3 411.1L263.8 413.6L258.9 414.5ZM179.3 429.4L184.2 428.4L184.4 429.6L179.5 430.4ZM175.0 431.0L180.0 430.2L180.1 431.3L175.2 432.0ZM170.6 432.0L193.4 428.8L193.6 430.1L170.8 432.9ZM170.7 432.3L193.5 429.5L193.7 430.8L170.8 433.2ZM161.8 433.6L166.7 433.1L166.8 433.9L161.8 434.3ZM170.7 432.7L175.7 432.1L175.8 433.1L170.8 433.5ZM179.7 431.7L184.6 431.2L184.8 432.3L179.8 432.8ZM188.6 430.8L198.1 429.8L198.2 431.2L188.7 432.0ZM175.2 432.6L184.7 431.7L184.8 432.9L175.3 433.5ZM206.6 429.8L211.6 429.4L211.7 431.0L206.7 431.3ZM170.8 433.3L180.3 432.6L180.3 433.7L170.8 434.2ZM184.3 432.3L189.2 432.0L189.3 433.2L184.3 433.5ZM197.7 431.4L202.7 431.0L202.8 432.5L197.8 432.8ZM215.7 430.1L220.7 429.8L220.8 431.6L215.8 431.8ZM170.8 433.6L180.3 433.1L180.3 434.2L170.8 434.5ZM184.3 432.9L189.3 432.6L189.3 433.8L184.3 434.0ZM193.3 432.4L202.8 431.9L202.8 433.4L193.3 433.7ZM211.3 431.5L220.7 431.0L220.8 432.7L211.3 433.1ZM278.7 427.9L283.7 427.7L283.8 430.5L278.8 430.7ZM175.3 433.7L184.8 433.4L184.8 434.5L175.3 434.7ZM188.8 433.3L193.8 433.1L193.8 434.4L188.8 434.5ZM202.3 432.8L225.3 432.0L225.3 433.8L202.3 434.2ZM229.3 431.8L234.3 431.7L234.3 433.7L229.3 433.8ZM242.8 431.4L247.8 431.2L247.8 433.4L242.8 433.5ZM179.8 434.0L184.8 433.9L184.8 435.1L179.8 435.1ZM188.8 433.9L193.8 433.8L193.8 435.1L188.8 435.1ZM197.8 433.7L234.3 433.1L234.3 435.1L197.8 435.1ZM242.8 432.9L247.8 432.8L247.8 435.1L242.8 435.1ZM161.8 434.5L166.8 434.5L166.8 435.3L161.8 435.2ZM175.3 434.5L180.3 434.5L180.3 435.6L175.3 435.5ZM184.3 434.5L229.8 434.5L229.8 436.4L184.3 435.6ZM233.8 434.5L243.3 434.5L243.3 436.7L233.8 436.5ZM247.3 434.5L252.3 434.5L252.3 436.8L247.3 436.7ZM175.3 434.9L180.3 435.0L180.3 436.1L175.3 435.9ZM184.3 435.0L189.3 435.1L189.3 436.4L184.3 436.2ZM193.3 435.2L207.3 435.4L207.3 437.0L193.3 436.5ZM211.3 435.5L229.8 435.8L229.8 437.8L211.3 437.1ZM161.8 434.8L175.8 435.3L175.8 436.3L161.8 435.5ZM188.8 435.7L229.8 437.2L229.7 439.1L188.8 437.0ZM278.8 438.9L283.8 439.1L283.7 441.9L278.7 441.7ZM166.3 435.2L180.3 435.9L180.3 437.0L166.3 436.0ZM188.8 436.4L220.8 438.0L220.7 439.8L188.7 437.6ZM161.8 435.1L171.3 435.8L171.3 436.7L161.8 435.9ZM193.3 437.3L225.2 439.5L225.0 441.4L193.2 438.6ZM161.8 435.3L171.3 436.1L171.2 437.0L161.8 436.0ZM193.2 438.0L225.1 440.8L224.9 442.7L193.1 439.3ZM202.1 439.7L220.5 441.6L220.3 443.4L201.9 441.1ZM202.0 440.5L211.4 441.7L211.2 443.3L201.8 441.9ZM166.3 436.4L171.2 437.0L171.1 438.0L166.1 437.2ZM206.4 442.0L211.3 442.7L211.1 444.3L206.1 443.5ZM273.2 451.4L278.2 452.1L277.7 454.8L272.8 454.1ZM206.2 442.9L211.2 443.7L210.9 445.3L206.0 444.4ZM272.9 453.5L286.7 455.7L286.2 458.6L272.5 456.1ZM166.2 436.8L171.1 437.7L171.0 438.6L166.0 437.6ZM197.2 442.3L211.0 444.7L210.7 446.3L197.0 443.6ZM281.4 457.1L286.3 458.0L285.8 460.9L280.9 459.9ZM201.5 443.9L210.8 445.7L210.5 447.3L201.2 445.3ZM281.0 459.4L285.9 460.3L285.3 463.2L280.4 462.2ZM205.7 445.7L210.6 446.7L210.3 448.3L205.4 447.2ZM192.4 443.6L197.3 444.7L196.9 446.0L192.1 444.8ZM201.2 445.6L210.4 447.7L210.0 449.3L200.8 447.0ZM201.0 446.4L205.8 447.6L205.4 449.1L200.6 447.8ZM209.7 448.6L214.5 449.8L214.1 451.5L209.3 450.2ZM200.7 447.3L214.3 450.9L213.8 452.5L200.4 448.7ZM279.0 468.2L283.8 469.5L283.0 472.4L278.2 471.0ZM196.2 446.8L201.0 448.2L200.6 449.6L195.8 448.2ZM204.8 449.3L218.3 453.2L217.8 454.9L204.4 450.8ZM282.7 471.7L287.5 473.0L286.7 475.9L281.9 474.5ZM204.6 450.2L213.7 453.0L213.2 454.6L204.1 451.7ZM230.4 458.1L235.2 459.6L234.6 461.6L229.8 460.0ZM195.8 448.3L217.6 455.4L217.1 457.1L195.3 449.7ZM230.0 459.5L234.7 461.0L234.1 463.0L229.4 461.4ZM238.5 462.2L243.3 463.8L242.6 465.9L237.9 464.3ZM195.5 449.1L217.3 456.6L216.7 458.3L195.0 450.4ZM225.3 459.3L242.8 465.4L242.0 467.5L224.6 461.2ZM246.6 466.7L251.3 468.3L250.5 470.6L245.8 468.9ZM276.4 476.9L281.1 478.5L280.1 481.3L275.4 479.6ZM195.3 449.8L216.9 457.7L216.2 459.4L194.8 451.1ZM229.1 462.1L246.5 468.5L245.6 470.6L228.4 464.0ZM279.8 480.6L284.5 482.3L283.5 485.2L278.8 483.4ZM195.0 450.6L216.5 458.8L215.8 460.5L194.5 451.8ZM228.6 463.5L245.9 470.1L245.0 472.3L227.9 465.3ZM274.8 481.2L287.9 486.2L286.7 489.1L273.8 483.9ZM329.4 502.2L334.1 504.0L332.6 507.7L328.0 505.8ZM194.7 451.3L216.0 459.9L215.3 461.5L194.2 452.6ZM219.7 461.4L224.4 463.3L223.6 465.1L219.0 463.1ZM228.1 464.8L249.4 473.4L248.5 475.6L227.3 466.6ZM269.8 481.6L287.0 488.6L285.8 491.4L268.7 484.2ZM319.9 501.9L345.4 512.2L343.8 516.1L318.4 505.3ZM194.4 452.0L215.6 461.0L214.9 462.6L193.9 453.3ZM219.3 462.6L248.7 475.1L247.8 477.3L218.5 464.3ZM269.0 483.7L286.0 490.9L284.8 493.7L267.9 486.2ZM322.8 506.5L335.7 512.0L334.1 515.7L321.3 510.0ZM339.4 513.5L348.1 517.3L346.4 521.2L337.7 517.3ZM194.1 452.7L211.0 460.3L210.3 461.8L193.5 454.0ZM218.8 463.7L248.0 476.7L247.0 478.9L218.0 465.4ZM272.2 487.5L285.0 493.2L283.7 496.0L271.0 490.1ZM292.8 496.7L297.3 498.7L295.9 501.7L291.4 499.6ZM321.5 509.5L334.3 515.2L332.6 518.9L320.0 512.9ZM338.0 516.8L342.6 518.8L340.8 522.7L336.3 520.5ZM193.8 453.4L210.6 461.3L209.8 462.8L193.2 454.7ZM218.3 464.9L247.3 478.4L246.2 480.6L217.5 466.5ZM271.3 489.6L284.0 495.5L282.6 498.3L270.0 492.2ZM328.4 516.2L337.0 520.2L335.2 523.9L326.7 519.8ZM189.4 452.2L210.1 462.3L209.3 463.8L188.8 453.3ZM213.7 464.0L246.5 480.0L245.4 482.2L212.9 465.6ZM270.3 491.6L278.8 495.8L277.5 498.5L269.0 494.2ZM331.0 521.2L339.5 525.4L337.6 529.2L329.2 524.8ZM189.1 452.8L217.6 467.3L216.8 469.0L188.5 454.0ZM221.2 469.2L245.7 481.6L244.6 483.8L220.3 470.9ZM188.8 453.4L205.1 462.1L204.3 463.5L188.2 454.6ZM208.6 464.0L244.8 483.2L243.7 485.4L207.8 465.5ZM391.4 561.2L395.8 563.5L393.3 568.3L388.9 565.8ZM188.4 454.1L204.6 463.0L203.8 464.4L187.8 455.2ZM208.1 465.0L224.3 473.9L223.3 475.7L207.3 466.4ZM231.7 478.0L244.0 484.8L242.8 486.9L230.7 479.9ZM389.2 565.3L405.4 574.3L402.6 579.2L386.6 569.9ZM195.9 459.2L204.1 463.9L203.3 465.3L195.2 460.4ZM207.6 465.9L231.4 479.7L230.3 481.5L206.7 467.4ZM234.9 481.7L243.1 486.4L241.9 488.5L233.7 483.6ZM390.8 571.7L395.1 574.2L392.3 578.9L388.0 576.3ZM398.6 576.2L406.8 580.9L403.9 585.8L395.7 580.9ZM187.8 455.3L203.6 464.8L202.8 466.2L187.1 456.4ZM207.0 466.9L219.0 474.1L218.0 475.7L206.2 468.3ZM226.3 478.5L242.2 488.0L240.9 490.0L225.2 480.2ZM392.2 578.1L400.3 583.0L397.4 587.8L389.3 582.8ZM403.8 585.1L408.0 587.6L405.0 592.6L400.8 589.9ZM187.4 455.9L218.3 475.2L217.3 476.9L186.7 457.0ZM229.4 482.1L237.4 487.1L236.2 489.1L228.2 483.9ZM279.0 513.1L283.2 515.8L281.5 518.5L277.3 515.8ZM389.7 582.3L405.3 592.1L402.2 596.9L386.7 586.9ZM187.0 456.5L213.9 473.9L212.8 475.5L186.3 457.6ZM232.3 485.9L236.5 488.6L235.2 490.5L231.1 487.8ZM277.6 515.3L285.6 520.5L283.7 523.3L275.8 517.9ZM390.8 588.8L402.6 596.4L399.4 601.3L387.8 593.4ZM186.6 457.1L198.2 464.9L197.4 466.2L185.9 458.1ZM201.6 467.1L220.6 480.0L219.5 481.6L200.6 468.5ZM231.4 487.3L235.5 490.1L234.2 492.0L230.1 489.1ZM276.2 517.5L284.0 522.8L282.1 525.5L274.4 520.1ZM388.1 592.9L392.2 595.7L389.0 600.4L385.0 597.5ZM395.6 598.0L399.7 600.8L396.4 605.5L392.3 602.7ZM186.2 457.6L197.7 465.7L196.8 466.9L185.5 458.7ZM201.0 468.0L219.8 481.2L218.7 482.8L200.0 469.3ZM230.5 488.6L234.6 491.5L233.2 493.4L229.2 490.4ZM274.7 519.6L282.5 525.0L280.5 527.8L272.9 522.2ZM381.6 594.4L385.7 597.3L382.5 601.8L378.4 598.9ZM392.7 602.2L400.5 607.6L397.0 612.4L389.4 606.8ZM185.8 458.2L197.2 466.4L196.2 467.7L185.1 459.3ZM200.4 468.8L219.0 482.3L217.8 483.9L199.4 470.1ZM225.9 487.3L229.9 490.2L228.6 492.1L224.6 489.1ZM280.5 527.0L284.5 529.9L282.5 532.7L278.5 529.7ZM378.8 598.4L390.1 606.6L386.7 611.2L375.5 602.8ZM397.0 611.6L401.0 614.6L397.5 619.3L393.5 616.3ZM178.2 453.4L182.2 456.4L181.5 457.4L177.5 454.3ZM185.4 458.8L196.6 467.2L195.7 468.4L184.6 459.8ZM199.8 469.6L214.6 480.7L213.4 482.3L198.8 470.9ZM221.4 485.9L225.4 488.9L224.0 490.6L220.1 487.5ZM253.7 510.2L257.7 513.2L255.9 515.5L252.0 512.5ZM260.9 515.7L264.9 518.7L263.0 521.1L259.1 518.0ZM278.9 529.2L286.5 534.9L284.3 537.7L276.8 531.8ZM379.5 605.0L383.5 608.0L380.1 612.5L376.1 609.4ZM386.7 610.4L390.7 613.4L387.2 618.0L383.2 615.0ZM188.5 462.1L213.8 481.8L212.6 483.3L187.7 463.2ZM252.4 512.0L259.9 517.8L258.0 520.1L250.6 514.2ZM270.1 525.8L281.1 534.5L279.0 537.1L268.1 528.3ZM376.5 608.9L387.5 617.6L383.9 622.1L373.0 613.3ZM184.6 459.9L205.9 477.2L204.8 478.6L183.7 460.9ZM209.0 479.7L212.9 482.9L211.7 484.4L207.9 481.1ZM247.5 510.9L258.4 519.7L256.5 522.0L245.8 513.0ZM268.5 527.9L275.9 533.8L273.8 536.4L266.5 530.3ZM373.4 612.8L384.3 621.6L380.6 626.1L369.9 617.1ZM177.2 454.7L194.9 469.4L193.8 470.6L176.5 455.5ZM197.9 472.0L215.5 486.8L214.2 488.3L196.9 473.2ZM246.2 512.5L256.9 521.5L255.0 523.8L244.4 514.6ZM266.9 529.9L274.1 536.0L272.0 538.5L264.8 532.3ZM366.8 613.7L377.6 622.7L373.8 627.1L363.3 617.9ZM176.9 455.1L194.2 470.2L193.2 471.3L176.1 455.9ZM200.7 475.7L214.6 487.9L213.3 489.4L199.5 477.0ZM244.8 514.1L252.0 520.4L250.1 522.5L243.0 516.2ZM265.2 531.8L269.0 535.1L266.8 537.6L263.1 534.2ZM363.7 617.5L381.0 632.5L377.1 636.9L360.1 621.5ZM183.2 461.5L193.6 470.9L192.6 472.0L182.3 462.5ZM196.6 473.6L210.3 485.9L209.0 487.4L195.5 474.7ZM243.4 515.7L247.1 519.1L245.2 521.1L241.6 517.7ZM260.1 530.8L263.8 534.1L261.7 536.5L258.0 533.1ZM363.8 624.1L380.9 639.5L376.9 643.9L360.1 628.2ZM182.7 462.0L193.0 471.6L191.9 472.7L181.8 463.0ZM195.9 474.3L209.4 486.9L208.1 488.3L194.8 475.5ZM363.8 630.8L377.3 643.4L373.2 647.8L359.9 634.9ZM179.0 459.4L198.8 478.5L197.6 479.7L178.2 460.3ZM201.7 481.3L215.0 494.2L213.5 495.6L200.4 482.6ZM363.5 637.6L373.6 647.3L369.4 651.6L359.5 641.7ZM162.7 444.0L169.4 450.7L168.7 451.4L162.1 444.5ZM175.4 456.7L194.9 476.1L193.7 477.3L174.6 457.5ZM200.9 482.1L213.9 495.2L212.5 496.7L199.6 483.4ZM255.0 536.2L258.5 539.8L256.2 542.0L252.7 538.4ZM363.1 644.4L373.0 654.3L368.7 658.5L359.0 648.5ZM168.8 450.6L175.4 457.4L174.5 458.2L168.1 451.3ZM178.1 460.3L184.7 467.1L183.7 468.1L177.3 461.1ZM196.9 479.7L216.0 499.5L214.4 501.0L195.7 480.9ZM253.2 538.0L256.6 541.6L254.3 543.8L250.9 540.1ZM356.3 644.8L369.2 658.1L364.8 662.3L352.2 648.7ZM168.5 450.9L175.0 457.8L174.1 458.6L167.8 451.5ZM177.7 460.7L184.2 467.7L183.2 468.6L176.8 461.6ZM199.2 483.8L214.9 500.6L213.3 502.1L197.9 485.0ZM251.4 539.7L254.8 543.4L252.4 545.5L249.1 541.8ZM358.8 654.9L368.3 665.2L363.8 669.3L354.5 658.9ZM168.2 451.1L171.6 454.8L170.7 455.6L167.5 451.8ZM174.2 457.8L180.6 464.9L179.6 465.8L173.4 458.6ZM204.3 491.3L207.7 495.0L206.2 496.3L202.9 492.5ZM351.9 655.1L367.3 672.2L362.6 676.3L347.6 659.0ZM159.1 441.2L165.3 448.4L164.6 449.0L158.5 441.7ZM167.9 451.4L177.1 462.0L176.2 462.8L167.2 452.0ZM197.4 485.4L200.7 489.1L199.3 490.3L196.1 486.5ZM203.3 492.1L212.5 502.7L210.9 504.1L201.9 493.4ZM356.9 668.8L366.1 679.3L361.3 683.4L352.3 672.7ZM158.9 441.3L162.2 445.1L161.5 445.7L158.4 441.8ZM167.6 451.7L179.5 465.8L178.5 466.7L166.9 452.3ZM199.4 489.6L211.3 503.7L209.7 505.1L198.0 490.7ZM349.9 668.8L358.9 679.5L354.1 683.5L345.3 672.6ZM158.8 441.4L162.0 445.3L161.3 445.8L158.3 441.9ZM167.3 451.9L173.3 459.3L172.4 460.0L166.6 452.5ZM201.3 493.9L210.1 504.7L208.4 506.1L199.8 495.1ZM342.9 668.7L346.1 672.6L341.4 676.3L338.3 672.4ZM348.6 675.7L354.6 683.1L349.7 687.0L343.9 679.5ZM357.1 686.2L360.2 690.1L355.3 694.0L352.2 690.1ZM161.5 445.1L164.6 449.0L163.8 449.6L160.8 445.6ZM167.0 452.1L178.4 466.7L177.4 467.5L166.3 452.7ZM194.7 487.6L206.1 502.2L204.5 503.5L193.3 488.7ZM347.1 682.6L355.7 693.7L350.7 697.5L342.3 686.4ZM166.7 452.4L169.7 456.4L168.9 457.0L165.9 453.0ZM172.1 459.6L175.2 463.6L174.2 464.3L171.2 460.3ZM193.8 488.3L196.8 492.3L195.3 493.4L192.4 489.4ZM342.8 686.0L351.2 697.2L346.1 700.9L337.9 689.6ZM158.5 441.7L161.4 445.7L160.7 446.2L157.9 442.1ZM200.8 500.0L203.7 504.0L202.0 505.2L199.2 501.1ZM338.3 689.3L346.6 700.6L341.4 704.3L333.4 692.8ZM158.4 441.8L161.2 445.9L160.5 446.4L157.7 442.2ZM163.5 449.2L166.4 453.3L165.6 453.8L162.8 449.7ZM168.7 456.5L171.6 460.6L170.6 461.3L167.8 457.1ZM179.0 471.3L181.9 475.4L180.7 476.2L177.9 472.1ZM186.8 482.3L189.6 486.4L188.2 487.4L185.4 483.3ZM194.5 493.4L202.5 504.9L200.8 506.1L193.0 494.5ZM333.9 692.5L339.3 700.2L334.2 703.8L328.9 695.9ZM341.6 703.5L344.5 707.6L339.2 711.2L336.4 707.1ZM346.8 710.9L349.7 715.0L344.2 718.7L341.4 714.6ZM160.8 445.6L163.6 449.8L162.8 450.3L160.1 446.1ZM165.8 453.1L168.6 457.2L167.7 457.8L165.0 453.6ZM170.8 460.5L186.2 483.3L184.8 484.2L169.9 461.2ZM196.0 497.8L201.3 505.7L199.6 506.9L194.4 498.9ZM203.5 509.0L206.3 513.2L204.5 514.4L201.7 510.2ZM331.9 699.3L344.7 718.4L339.3 722.0L326.7 702.7ZM165.5 453.3L168.2 457.5L167.3 458.1L164.6 453.8ZM172.8 464.6L178.0 472.6L176.8 473.3L171.8 465.3ZM182.6 479.7L185.3 483.9L184.0 484.8L181.3 480.5ZM332.1 709.9L342.2 725.4L336.6 729.0L326.8 713.3ZM165.1 453.5L167.8 457.7L166.9 458.3L164.3 454.0ZM169.9 461.1L174.9 469.2L173.8 469.9L168.9 461.7ZM181.8 480.2L186.9 488.3L185.4 489.2L180.5 481.0ZM200.9 510.8L203.6 515.0L201.6 516.2L199.1 511.9ZM329.7 716.8L341.9 736.3L336.1 739.9L324.2 720.2ZM160.2 446.0L167.4 458.0L166.5 458.5L159.5 446.4ZM169.4 461.4L185.9 488.9L184.5 489.7L168.5 462.0ZM194.9 503.9L197.5 508.1L195.7 509.2L193.2 504.9ZM199.6 511.6L202.2 515.9L200.2 517.0L197.7 512.7ZM327.1 723.7L343.5 751.2L337.5 754.7L321.5 727.0ZM169.0 461.7L185.0 489.4L183.5 490.3L168.0 462.3ZM196.0 508.5L198.5 512.8L196.6 513.9L194.2 509.5ZM324.2 730.6L326.7 734.9L320.9 738.2L318.5 733.8ZM328.7 738.4L340.2 758.3L334.0 761.8L322.9 741.7ZM170.7 465.9L173.1 470.3L172.0 470.9L169.6 466.5ZM175.1 473.8L181.8 486.0L180.4 486.8L173.8 474.5ZM194.7 509.2L197.1 513.6L195.2 514.6L192.9 510.2ZM325.6 745.4L332.4 757.6L326.2 761.0L319.6 748.6ZM334.3 761.1L336.7 765.5L330.4 768.9L328.1 764.5ZM157.5 442.4L159.8 446.8L159.1 447.2L156.8 442.7ZM170.1 466.2L172.5 470.6L171.3 471.2L169.1 466.8ZM174.4 474.2L176.7 478.6L175.4 479.3L173.1 474.8ZM178.6 482.1L183.1 490.5L181.5 491.3L177.2 482.8ZM193.4 509.9L197.8 518.3L195.8 519.4L191.5 510.9ZM320.1 748.3L326.7 760.7L320.5 763.9L314.1 751.5ZM157.3 442.5L159.6 446.9L158.9 447.3L156.7 442.8ZM161.4 450.5L163.7 454.9L162.8 455.4L160.6 450.9ZM169.6 466.5L171.9 471.0L170.7 471.6L168.5 467.1ZM173.7 474.5L182.1 491.0L180.6 491.8L172.4 475.2ZM192.1 510.6L194.3 515.1L192.4 516.0L190.2 511.6ZM314.6 751.2L323.0 767.7L316.7 770.9L308.6 754.2ZM163.1 454.7L167.3 463.2L166.2 463.7L162.2 455.1ZM169.0 466.8L183.1 495.6L181.5 496.3L167.9 467.3ZM192.7 515.3L198.9 527.9L196.7 529.0L190.8 516.3ZM309.1 754.0L315.2 766.5L308.9 769.6L303.0 756.9ZM157.1 442.6L159.2 447.1L158.4 447.5L156.4 442.9ZM160.9 450.8L182.0 496.1L180.4 496.8L160.0 451.1ZM189.4 511.9L197.2 528.7L195.0 529.7L187.5 512.8ZM301.6 752.6L303.7 757.1L297.5 759.9L295.5 755.3ZM305.4 760.7L309.4 769.3L303.0 772.2L299.1 763.6ZM156.9 442.7L162.6 455.5L161.7 455.9L156.2 443.0ZM164.3 459.1L166.3 463.7L165.2 464.1L163.3 459.5ZM167.9 467.3L169.9 471.9L168.7 472.4L166.8 467.8ZM171.6 475.6L182.8 500.7L181.1 501.4L170.3 476.1ZM184.4 504.3L186.4 508.9L184.6 509.7L182.6 505.1ZM188.0 512.6L190.1 517.1L188.1 518.0L186.1 513.4ZM191.7 520.8L193.7 525.3L191.6 526.3L189.7 521.7ZM195.4 529.0L197.4 533.6L195.1 534.6L193.2 530.0ZM299.7 763.3L305.4 776.1L298.9 779.0L293.4 766.1ZM156.8 442.7L162.3 455.6L161.3 456.0L156.1 443.0ZM163.8 459.3L165.8 463.9L164.7 464.4L162.8 459.7ZM167.3 467.6L169.3 472.2L168.1 472.7L166.2 468.1ZM170.9 475.9L181.6 501.2L179.9 501.9L169.6 476.4ZM183.2 504.9L192.2 526.0L190.0 526.9L181.4 505.6ZM193.7 529.7L195.7 534.3L193.4 535.3L191.5 530.6ZM295.7 770.0L297.7 774.6L291.1 777.3L289.3 772.6ZM156.6 442.8L161.9 455.8L161.0 456.1L156.0 443.1ZM165.1 463.7L177.1 493.3L175.5 494.0L164.0 464.1ZM178.6 497.0L180.4 501.7L178.7 502.4L176.9 497.7ZM181.9 505.4L183.8 510.0L181.9 510.8L180.1 506.1ZM185.3 513.7L188.9 522.5L186.8 523.4L183.4 514.5ZM190.4 526.2L192.2 530.9L190.0 531.8L188.2 527.1ZM289.8 772.4L291.7 777.1L285.1 779.6L283.4 775.0ZM156.5 442.9L159.9 451.7L159.1 452.1L155.8 443.1ZM164.6 463.9L176.0 493.7L174.4 494.3L163.5 464.3ZM180.7 505.9L187.3 523.1L185.2 523.9L178.9 506.6ZM188.8 526.9L190.6 531.6L188.3 532.4L186.6 527.7ZM156.4 442.9L167.3 473.0L166.1 473.4L155.7 443.2ZM168.7 476.7L176.6 498.4L174.9 499.0L167.4 477.2ZM179.5 506.3L185.8 523.7L183.7 524.5L177.6 507.0ZM188.7 531.7L190.4 536.4L188.1 537.2L186.4 532.5ZM156.2 443.0L166.7 473.2L165.4 473.6L155.5 443.2ZM168.0 477.0L175.4 498.8L173.7 499.3L166.6 477.5ZM178.2 506.8L184.2 524.3L182.1 525.0L176.4 507.4ZM156.1 443.0L163.2 464.9L162.1 465.2L155.4 443.2ZM164.4 468.7L174.3 499.1L172.6 499.7L163.3 469.1ZM176.9 507.2L182.7 524.8L180.5 525.5L175.1 507.8ZM155.9 443.1L181.1 525.3L178.9 526.0L155.2 443.3ZM155.8 443.1L164.6 473.9L163.4 474.2L155.1 443.3ZM165.7 477.7L168.3 486.9L166.8 487.3L164.4 478.1ZM173.2 503.7L174.5 508.5L172.7 509.0L171.4 504.2ZM176.9 516.7L179.5 525.8L177.3 526.4L174.9 517.2ZM155.6 443.2L165.1 478.4L163.8 478.8L154.9 443.4ZM176.6 521.4L177.9 526.2L175.7 526.8L174.5 522.0ZM155.5 443.2L165.4 483.0L164.0 483.3L154.8 443.4ZM174.0 517.4L175.2 522.3L173.1 522.8L172.0 517.9ZM176.2 526.2L177.4 531.0L175.1 531.6L174.0 526.7ZM155.4 443.3L163.6 478.8L162.2 479.1L154.6 443.4ZM155.2 443.3L161.9 474.6L160.6 474.9L154.5 443.4ZM155.1 443.3L162.0 479.2L160.7 479.4L154.3 443.5ZM154.9 443.4L160.5 474.9L159.2 475.1L154.2 443.5ZM154.8 443.4L159.8 475.0L158.5 475.2L154.0 443.5ZM154.6 443.4L159.1 475.1L157.8 475.3L153.9 443.5ZM154.5 443.4L158.4 475.2L157.1 475.4L153.7 443.5ZM154.3 443.5L157.7 475.3L156.4 475.4L153.6 443.5ZM154.2 443.5L157.0 475.4L155.6 475.5L153.4 443.5ZM154.0 443.5L155.6 466.5L154.5 466.5L153.3 443.5ZM155.9 470.4L156.2 475.4L154.9 475.5L154.7 470.5ZM153.8 443.5L155.5 475.5L154.2 475.5L153.1 443.5ZM153.7 443.5L154.5 466.5L153.4 466.5L153.0 443.5ZM153.6 448.0L153.8 457.5L152.8 457.5L152.8 448.0ZM153.9 461.5L154.0 471.0L152.8 471.0L152.8 461.5ZM153.4 461.5L153.4 466.5L152.2 466.5L152.3 461.5ZM153.2 443.5L153.2 448.5L152.3 448.5L152.5 443.5ZM153.1 452.5L153.0 457.5L152.0 457.5L152.2 452.5ZM152.9 461.5L152.8 466.5L151.7 466.5L151.9 461.5ZM153.1 443.5L152.9 448.5L152.1 448.5L152.4 443.5ZM152.8 452.5L152.6 457.5L151.6 457.5L151.9 452.5ZM152.5 461.5L151.8 480.0L150.4 480.0L151.4 461.5ZM151.8 457.0L151.5 462.0L150.4 461.9L150.9 456.9ZM150.0 483.9L149.3 493.4L147.7 493.3L148.5 483.8ZM146.8 528.8L146.5 533.8L144.2 533.6L144.6 528.7ZM144.9 555.8L144.3 565.3L141.4 565.0L142.2 555.6ZM151.5 457.0L151.0 462.0L150.0 461.9L150.5 456.9ZM149.5 479.4L148.3 493.4L146.7 493.2L148.1 479.3ZM145.2 528.7L144.7 533.7L142.4 533.5L143.0 528.5ZM142.8 555.6L142.0 565.1L139.1 564.8L140.1 555.4ZM150.6 461.4L150.1 466.4L148.9 466.3L149.5 461.3ZM147.8 488.3L147.3 493.3L145.6 493.1L146.3 488.1ZM140.7 555.4L139.7 564.9L136.9 564.5L138.0 555.1ZM150.1 461.4L149.5 466.3L148.4 466.2L149.1 461.2ZM148.5 474.8L145.7 497.6L144.0 497.4L147.2 474.6ZM147.8 474.7L144.0 501.9L142.2 501.7L146.5 474.5ZM143.4 505.9L142.7 510.8L140.8 510.6L141.6 505.6ZM139.7 532.6L139.0 537.6L136.6 537.2L137.4 532.3ZM145.7 483.5L142.8 501.8L141.0 501.5L144.3 483.2ZM142.2 505.7L141.4 510.7L139.5 510.3L140.3 505.4ZM137.9 532.4L137.2 537.3L134.8 536.9L135.7 532.0ZM145.6 478.9L144.8 483.8L143.3 483.6L144.3 478.7ZM144.1 487.8L141.6 501.6L139.9 501.2L142.6 487.5ZM136.2 532.1L134.6 541.5L132.1 541.0L134.0 531.7ZM145.7 474.4L140.5 501.4L138.7 501.0L144.4 474.1ZM135.4 527.4L132.7 541.1L130.3 540.6L133.2 526.9ZM146.0 469.8L144.9 474.7L143.6 474.4L144.8 469.6ZM144.1 478.6L142.1 487.9L140.6 487.6L142.7 478.3ZM141.3 491.8L140.2 496.7L138.6 496.4L139.7 491.5ZM148.4 456.5L147.3 461.4L146.2 461.2L147.4 456.3ZM146.4 465.3L144.2 474.6L142.9 474.3L145.3 465.0ZM143.3 478.5L141.2 487.7L139.7 487.4L142.0 478.1ZM140.3 491.6L139.2 496.5L137.5 496.1L138.7 491.2ZM137.3 504.8L136.1 509.7L134.2 509.2L135.5 504.3ZM146.9 460.8L145.7 465.7L144.6 465.4L145.9 460.6ZM142.6 478.3L137.0 500.6L135.3 500.2L141.2 477.9ZM134.9 508.9L133.7 513.7L131.8 513.2L133.1 508.4ZM132.8 517.6L131.6 522.4L129.5 521.9L130.7 517.1ZM130.6 526.3L128.3 535.5L126.0 534.9L128.4 525.8ZM151.1 443.3L149.8 448.2L149.0 447.9L150.4 443.1ZM148.8 452.0L142.8 474.2L141.6 473.9L147.9 451.8ZM141.8 478.1L135.9 500.3L134.1 499.8L140.5 477.7ZM133.7 508.5L132.4 513.4L130.4 512.8L131.8 508.0ZM131.3 517.2L130.0 522.1L127.9 521.5L129.3 516.7ZM129.0 525.9L126.5 535.1L124.2 534.4L126.8 525.3ZM147.3 456.3L134.7 500.0L133.0 499.5L146.3 456.0ZM129.9 516.8L124.8 534.6L122.5 533.9L127.9 516.2ZM149.5 447.6L137.5 486.8L136.0 486.3L148.7 447.3ZM136.4 490.6L133.6 499.7L131.9 499.1L134.8 490.1ZM127.1 520.7L125.7 525.5L123.5 524.8L125.1 520.1ZM150.7 443.2L146.4 456.5L145.4 456.2L150.0 443.0ZM145.1 460.3L136.6 486.5L135.2 486.0L144.1 460.0ZM135.4 490.3L129.7 507.9L127.8 507.3L133.9 489.8ZM128.4 511.7L124.1 525.0L122.0 524.3L126.5 511.1ZM121.5 533.1L119.9 537.8L117.6 537.1L119.2 532.3ZM150.5 443.2L135.7 486.2L134.3 485.7L149.8 442.9ZM134.4 490.0L128.4 507.5L126.6 506.8L132.9 489.4ZM127.1 511.2L122.5 524.5L120.4 523.7L125.2 510.6ZM119.8 532.5L118.1 537.2L115.8 536.4L117.5 531.7ZM150.4 443.1L133.3 490.1L131.8 489.5L149.7 442.9ZM131.9 493.9L130.2 498.6L128.5 497.9L130.3 493.3ZM128.8 502.3L119.4 528.2L117.3 527.3L127.1 501.7ZM118.1 531.9L116.4 536.6L114.0 535.8L115.8 531.1ZM150.2 443.1L138.8 473.0L137.6 472.5L149.6 442.8ZM137.3 476.7L132.3 489.8L130.8 489.2L136.1 476.2ZM130.9 493.5L114.6 536.0L112.3 535.1L129.3 492.9ZM92.2 594.3L90.4 599.0L87.0 597.6L88.9 593.0ZM146.7 451.4L138.1 472.7L136.9 472.2L145.9 451.0ZM129.9 493.1L126.3 501.9L124.6 501.2L128.3 492.4ZM118.1 522.3L116.2 526.9L114.0 526.0L116.0 521.4ZM114.7 530.6L111.1 539.5L108.8 538.5L112.5 529.7ZM148.2 447.1L137.5 472.4L136.3 471.9L147.4 446.8ZM128.9 492.7L121.6 509.7L119.8 508.9L127.3 492.0ZM116.5 521.7L109.3 538.7L107.0 537.7L114.5 520.8ZM149.8 442.9L135.0 476.3L133.7 475.7L149.1 442.6ZM113.2 525.1L105.7 542.0L103.3 540.9L111.1 524.2ZM96.7 562.1L94.7 566.7L91.9 565.4L94.0 560.9ZM149.7 442.8L138.1 467.8L136.9 467.2L149.0 442.5ZM136.4 471.4L134.3 475.9L133.0 475.3L135.2 470.8ZM119.2 508.1L117.1 512.6L115.2 511.7L117.4 507.2ZM111.6 524.4L103.8 541.2L101.4 540.1L109.5 523.4ZM102.1 544.8L98.1 553.4L95.5 552.2L99.7 543.6ZM149.5 442.8L133.5 475.6L132.3 475.0L148.9 442.5ZM131.8 479.2L129.6 483.7L128.2 483.0L130.5 478.5ZM121.9 499.4L119.7 503.9L118.0 503.0L120.3 498.6ZM118.0 507.5L115.8 512.0L113.9 511.1L116.2 506.6ZM114.0 515.6L111.8 520.1L109.8 519.1L112.1 514.6ZM110.1 523.7L96.1 552.4L93.5 551.2L108.0 522.7ZM149.4 442.7L136.9 467.2L135.8 466.7L148.7 442.4ZM108.5 522.9L94.0 551.4L91.5 550.1L106.5 521.9ZM149.3 442.7L146.9 447.1L146.2 446.7L148.6 442.3ZM145.0 450.6L138.5 463.0L137.4 462.4L144.2 450.2ZM136.6 466.5L132.1 474.9L130.9 474.2L135.5 465.9ZM104.9 526.1L92.0 550.4L89.4 549.0L102.8 525.0ZM149.1 442.6L133.6 470.6L132.5 469.9L148.5 442.2ZM105.5 521.3L87.8 553.2L85.2 551.8L103.5 520.2ZM149.0 442.5L133.0 470.2L131.9 469.6L148.3 442.1ZM104.0 520.5L88.0 548.2L85.5 546.7L102.0 519.3ZM148.8 442.4L137.0 462.2L136.0 461.6L148.2 442.1ZM102.5 519.6L88.3 543.2L85.9 541.7L100.5 518.4ZM148.7 442.4L136.5 461.9L135.6 461.3L148.1 442.0ZM112.9 499.6L110.3 503.9L108.6 502.8L111.3 498.6ZM108.2 507.3L103.1 515.3L101.2 514.1L106.4 506.1ZM101.0 518.7L86.5 542.0L84.1 540.5L99.1 517.5ZM148.6 442.3L133.6 465.4L132.6 464.7L148.0 441.9ZM111.8 498.9L109.1 503.1L107.4 502.0L110.2 497.8ZM104.5 510.2L101.7 514.4L99.9 513.2L102.7 509.0ZM99.6 517.8L87.0 537.1L84.8 535.6L97.6 516.5ZM148.5 442.2L133.1 465.0L132.1 464.3L147.8 441.8ZM130.8 468.3L125.5 476.2L124.3 475.4L129.8 467.6ZM113.2 494.5L110.4 498.6L108.8 497.5L111.7 493.4ZM108.2 501.9L100.4 513.5L98.5 512.2L106.5 500.8ZM98.1 516.8L95.3 521.0L93.3 519.6L96.2 515.5ZM93.1 524.3L85.3 535.9L83.0 534.4L91.1 522.9ZM145.7 445.8L140.3 453.6L139.5 453.0L145.1 445.3ZM138.0 456.9L132.6 464.7L131.5 463.9L137.1 456.3ZM130.3 467.9L124.8 475.7L123.6 474.9L129.2 467.2ZM112.2 493.7L101.6 508.9L99.8 507.6L110.7 492.7ZM91.5 523.2L86.1 531.0L83.9 529.5L89.5 521.8ZM148.2 442.0L126.7 471.6L125.6 470.8L147.6 441.6ZM116.5 485.7L113.5 489.8L112.1 488.7L115.1 484.7ZM111.2 493.0L87.1 526.2L85.0 524.7L109.7 491.9ZM148.1 442.0L145.1 446.0L144.4 445.4L147.5 441.5ZM139.9 452.7L131.5 463.9L130.5 463.2L139.2 452.1ZM115.6 485.1L112.6 489.1L111.2 488.0L114.2 484.1ZM110.2 492.3L88.2 521.4L86.2 519.9L108.7 491.2ZM145.2 445.4L125.5 470.6L124.4 469.8L144.5 444.9ZM106.4 495.1L89.5 516.7L87.6 515.2L104.9 493.9ZM136.5 455.8L133.4 459.7L132.5 458.9L135.7 455.1ZM128.0 466.3L124.9 470.2L123.8 469.3L127.0 465.4ZM105.3 494.2L88.0 515.6L86.2 514.1L103.9 493.0ZM144.8 445.1L141.6 449.0L140.9 448.4L144.2 444.6ZM139.0 452.0L127.1 466.2L126.1 465.4L138.3 451.4ZM121.7 472.7L118.5 476.6L117.3 475.5L120.6 471.8ZM110.1 486.5L92.4 507.6L90.7 506.1L108.8 485.4ZM135.8 455.2L123.6 469.1L122.6 468.2L135.0 454.5ZM115.1 479.0L111.8 482.7L110.6 481.6L113.9 477.9ZM109.2 485.7L88.2 509.9L86.5 508.4L107.9 484.6ZM108.3 485.0L92.9 502.1L91.3 500.6L107.0 483.8ZM110.5 480.9L88.7 504.3L87.1 502.7L109.3 479.7ZM128.5 460.7L125.0 464.3L124.1 463.4L127.6 459.9ZM122.2 467.2L118.8 470.8L117.7 469.8L121.2 466.2ZM109.7 480.1L90.6 499.9L89.1 498.4L108.5 479.0ZM108.9 479.4L89.5 498.8L88.0 497.3L107.8 478.2ZM114.6 472.4L111.0 475.8L109.9 474.6L113.6 471.2ZM108.2 478.6L98.1 488.3L96.8 486.9L107.0 477.4ZM95.2 491.1L88.4 497.7L86.9 496.1L93.8 489.7ZM114.0 471.7L110.3 475.1L109.2 473.9L113.0 470.5ZM107.4 477.8L103.8 481.2L102.6 479.9L106.3 476.6ZM100.8 484.0L97.2 487.4L95.9 485.9L99.6 482.6ZM94.2 490.1L90.6 493.5L89.2 492.0L92.9 488.6ZM113.4 471.0L89.6 492.4L88.2 490.8L112.3 469.8ZM112.7 470.3L109.0 473.6L107.9 472.3L111.7 469.1ZM105.9 476.2L95.4 485.4L94.1 483.9L104.8 474.9ZM92.4 488.0L88.6 491.3L87.2 489.7L91.1 486.5ZM112.1 469.6L104.8 475.7L103.8 474.4L111.1 468.4ZM101.8 478.3L97.9 481.5L96.8 480.0L100.6 476.9ZM94.9 484.0L91.1 487.3L89.8 485.7L93.7 482.6ZM115.0 466.0L90.1 486.2L88.9 484.6L114.1 464.9ZM146.4 440.4L142.5 443.5L141.9 442.8L145.9 439.8ZM118.0 462.6L89.3 485.1L88.0 483.5L117.2 461.5ZM113.9 464.7L106.4 470.4L105.4 469.1L113.1 463.5ZM103.2 472.8L88.4 483.9L87.2 482.3L102.2 471.4ZM102.5 471.9L94.8 477.5L93.7 476.0L101.5 470.5ZM91.6 479.9L83.9 485.4L82.7 483.7L90.5 478.3ZM101.9 471.0L94.1 476.5L93.0 475.0L100.9 469.6ZM90.8 478.8L86.7 481.6L85.6 480.0L89.7 477.2ZM146.0 439.9L141.9 442.7L141.4 442.0L145.6 439.3ZM101.2 470.1L89.6 478.0L88.6 476.3L100.3 468.7ZM145.9 439.8L141.7 442.5L141.3 441.8L145.5 439.2ZM138.4 444.7L134.2 447.4L133.6 446.6L137.9 444.0ZM93.1 474.1L88.9 476.9L87.9 475.2L92.1 472.6ZM96.2 470.7L84.4 478.1L83.3 476.4L95.3 469.2ZM141.9 441.9L137.6 444.5L137.1 443.7L141.5 441.2ZM95.6 469.7L83.6 476.9L82.6 475.2L94.7 468.2ZM91.1 470.9L86.8 473.4L85.8 471.7L90.2 469.3ZM90.5 469.8L86.1 472.3L85.2 470.6L89.6 468.2ZM145.5 439.2L141.1 441.5L140.7 440.8L145.2 438.5ZM137.6 443.4L133.2 445.7L132.7 444.9L137.2 442.6ZM145.4 439.0L141.0 441.3L140.6 440.6L145.1 438.4ZM145.4 438.9L132.8 445.0L132.4 444.1L145.1 438.2ZM129.2 446.8L124.7 449.0L124.2 447.9L128.7 445.8ZM88.7 466.5L84.3 468.7L83.4 467.0L87.9 464.9ZM145.3 438.8L132.6 444.7L132.2 443.8L145.0 438.1ZM129.0 446.4L124.5 448.5L124.0 447.4L128.5 445.4ZM145.2 438.6L132.4 444.3L132.0 443.4L144.9 437.9ZM120.6 449.6L116.0 451.6L115.5 450.4L120.1 448.5ZM145.2 438.5L115.7 451.0L115.2 449.8L144.9 437.8ZM145.1 438.3L111.3 452.0L110.7 450.7L144.8 437.7ZM103.4 455.2L98.7 457.1L98.1 455.6L102.8 453.8ZM95.0 458.6L90.4 460.5L89.7 458.8L94.4 457.0ZM145.0 438.2L115.2 449.7L114.7 448.5L144.8 437.5ZM103.0 454.3L98.4 456.1L97.8 454.6L102.5 452.9ZM145.0 438.1L98.0 455.2L97.5 453.6L144.7 437.4ZM94.2 456.5L89.5 458.3L88.9 456.6L93.7 454.9ZM144.9 437.9L114.7 448.4L114.3 447.1L144.7 437.2ZM106.6 451.1L97.6 454.2L97.1 452.7L106.2 449.7ZM93.9 455.5L89.1 457.1L88.6 455.4L93.3 453.9ZM144.9 437.8L123.0 444.9L122.7 443.8L144.7 437.1ZM114.9 447.5L110.2 449.1L109.7 447.7L114.5 446.3ZM106.4 450.3L97.3 453.2L96.8 451.7L105.9 448.9ZM144.8 437.6L127.1 443.1L126.8 442.0L144.6 436.9ZM101.8 450.8L97.0 452.3L96.5 450.7L101.4 449.3ZM144.8 437.5L140.0 438.9L139.7 438.1L144.6 436.8ZM136.1 440.0L114.0 446.3L113.7 445.1L135.9 439.1ZM110.2 447.4L105.4 448.8L105.0 447.4L109.8 446.1ZM101.5 449.9L92.4 452.5L91.9 450.9L101.1 448.4ZM144.7 437.3L105.1 448.0L104.8 446.5L144.5 436.6ZM96.9 450.2L92.1 451.5L91.7 449.8L96.5 448.6ZM136.0 439.4L131.1 440.6L130.9 439.6L135.7 438.5ZM127.2 441.6L122.4 442.8L122.1 441.6L127.0 440.5ZM118.5 443.7L113.6 445.0L113.3 443.7L118.2 442.6ZM109.8 445.9L104.9 447.1L104.6 445.7L109.4 444.6ZM87.9 451.4L83.1 452.6L82.6 450.8L87.5 449.6ZM135.9 439.1L131.0 440.2L130.8 439.2L135.7 438.2ZM127.1 441.1L122.2 442.2L122.0 441.1L126.9 440.1ZM118.3 443.1L104.7 446.3L104.4 444.8L118.1 441.9ZM87.6 450.2L82.8 451.3L82.4 449.5L87.3 448.5ZM135.8 438.8L130.9 439.8L130.7 438.8L135.6 437.9ZM127.0 440.7L122.1 441.7L121.9 440.6L126.8 439.6ZM113.8 443.5L104.5 445.4L104.2 444.0L113.5 442.2ZM96.2 447.2L86.9 449.2L86.5 447.4L95.9 445.6ZM135.7 438.5L130.8 439.4L130.6 438.5L135.6 437.6ZM126.9 440.2L122.0 441.2L121.8 440.0L126.7 439.2ZM109.2 443.6L104.3 444.6L104.1 443.1L109.0 442.3ZM100.4 445.3L86.7 448.0L86.3 446.3L100.1 443.8ZM122.4 440.5L117.5 441.4L117.3 440.2L122.2 439.4ZM95.8 445.2L90.9 446.1L90.6 444.4L95.5 443.6ZM126.7 439.3L117.3 440.8L117.2 439.5L126.6 438.2ZM95.6 444.2L86.2 445.7L86.0 443.9L95.4 442.6ZM144.5 436.3L139.5 437.0L139.4 436.2L144.4 435.6ZM131.1 438.2L126.2 438.9L126.0 437.8L131.0 437.2ZM122.2 439.4L108.3 441.4L108.2 440.0L122.0 438.3ZM99.9 442.6L95.0 443.3L94.8 441.7L99.7 441.1ZM91.0 443.8L86.1 444.5L85.8 442.8L90.8 442.2ZM144.5 436.2L85.9 443.4L85.7 441.6L144.4 435.4ZM126.5 437.9L108.1 439.8L108.0 438.4L126.4 436.8ZM99.7 440.7L90.2 441.7L90.1 440.0L99.5 439.2ZM131.0 437.0L126.0 437.5L125.9 436.4L130.9 436.1ZM122.0 437.8L117.0 438.3L116.9 437.0L121.9 436.7ZM108.5 439.0L103.6 439.4L103.5 438.0L108.4 437.6ZM99.6 439.8L90.1 440.6L90.0 438.9L99.5 438.3ZM139.9 436.0L121.4 437.3L121.4 436.2L139.9 435.2ZM113.0 437.9L90.0 439.5L89.9 437.8L112.9 436.6ZM144.4 435.5L116.9 437.0L116.9 435.8L144.4 434.8ZM112.9 437.2L85.5 438.6L85.4 436.9L112.9 435.9ZM135.4 435.7L121.4 436.2L121.4 435.1L135.4 434.8ZM117.4 436.3L103.4 436.8L103.4 435.4L117.4 435.1ZM99.4 437.0L94.4 437.2L94.4 435.5L99.4 435.4ZM139.9 435.3L125.9 435.6L125.9 434.5L139.9 434.5ZM117.4 435.7L103.4 436.0L103.4 434.5L117.4 434.5ZM99.4 436.0L94.4 436.1L94.4 434.5L99.4 434.5ZM144.4 435.1L89.9 435.1L89.9 433.4L144.4 434.4ZM144.4 434.9L134.9 434.8L134.9 433.9L144.4 434.2ZM130.9 434.7L125.9 434.6L125.9 433.5L130.9 433.7ZM121.9 434.6L94.4 434.1L94.4 432.4L121.9 433.4ZM144.4 434.8L125.9 434.2L125.9 433.1L144.4 434.1ZM121.9 434.0L116.9 433.8L116.9 432.6L121.9 432.9ZM112.9 433.7L107.9 433.5L107.9 432.1L112.9 432.4ZM103.9 433.4L85.4 432.7L85.5 431.0L103.9 431.9ZM144.4 434.6L130.4 433.9L130.4 432.9L144.4 433.9ZM108.4 432.8L85.4 431.6L85.5 429.8L108.5 431.4ZM144.4 434.5L125.9 433.2L126.0 432.1L144.4 433.7ZM117.4 432.6L112.4 432.3L112.5 430.9L117.5 431.4ZM108.4 432.0L85.5 430.4L85.6 428.6L108.5 430.6ZM144.4 434.3L125.9 432.7L126.0 431.7L144.4 433.6ZM117.5 432.0L85.6 429.2L85.8 427.4L117.6 430.8ZM144.4 434.2L139.4 433.7L139.5 432.8L144.5 433.4ZM135.4 433.2L126.0 432.3L126.1 431.2L135.5 432.3ZM117.5 431.4L90.2 428.5L90.4 426.8L117.7 430.1ZM144.4 434.0L126.0 431.8L126.2 430.7L144.5 433.3ZM117.6 430.7L90.3 427.4L90.5 425.7L117.7 429.5ZM139.9 433.2L135.0 432.6L135.1 431.6L140.1 432.4ZM113.2 429.5L108.2 428.8L108.5 427.4L113.4 428.2ZM104.3 428.2L86.0 425.7L86.2 423.9L104.5 426.8ZM144.4 433.7L126.1 430.8L126.3 429.8L144.5 433.0ZM117.7 429.5L112.8 428.7L113.0 427.4L117.9 428.3ZM108.9 428.1L86.1 424.5L86.4 422.7L109.1 426.7ZM144.4 433.6L139.5 432.7L139.7 431.9L144.6 432.8ZM135.6 432.0L130.6 431.1L130.8 430.2L135.7 431.1ZM109.0 427.3L86.3 423.3L86.7 421.6L109.2 426.0ZM144.5 433.4L130.7 430.8L130.9 429.8L144.6 432.7ZM109.1 426.6L86.5 422.2L86.9 420.4L109.4 425.2ZM144.5 433.3L135.2 431.3L135.4 430.4L144.6 432.5ZM109.3 425.8L82.4 420.1L82.8 418.3L109.6 424.4ZM144.5 433.1L135.3 431.0L135.5 430.1L144.7 432.4ZM109.4 425.0L82.6 418.8L83.1 417.0L109.8 423.7ZM144.5 433.0L139.7 431.8L139.9 430.9L144.7 432.3ZM105.2 423.2L87.3 418.7L87.7 417.0L105.6 421.8ZM144.6 432.8L139.7 431.5L140.0 430.7L144.8 432.1ZM109.8 423.5L87.6 417.6L88.1 415.8L110.2 422.2ZM144.6 432.7L131.1 428.8L131.4 427.9L144.8 432.0ZM101.4 420.3L87.9 416.4L88.4 414.7L101.8 418.8ZM144.7 432.5L131.3 428.4L131.6 427.5L144.9 431.8ZM93.0 416.7L88.2 415.3L88.8 413.6L93.5 415.1ZM144.7 432.4L139.9 430.8L140.2 430.0L144.9 431.7ZM144.7 432.2L140.0 430.6L140.3 429.8L145.0 431.5ZM144.8 431.9L127.6 425.3L127.9 424.3L145.1 431.3ZM144.9 431.8L127.7 424.9L128.1 423.9L145.2 431.1ZM144.9 431.7L127.9 424.4L128.3 423.4L145.2 431.0ZM115.9 419.3L103.0 413.9L103.7 412.5L116.5 418.2ZM95.2 410.6L90.6 408.6L91.3 407.0L95.9 409.0ZM145.0 431.5L111.6 416.7L112.2 415.4L145.3 430.8ZM108.0 415.0L103.4 413.0L104.1 411.6L108.6 413.7ZM99.8 411.4L91.1 407.5L91.8 405.9L100.4 409.9ZM145.1 431.4L116.0 417.9L116.6 416.7L145.4 430.7ZM112.4 416.2L103.8 412.1L104.5 410.7L113.0 414.9ZM100.2 410.5L91.6 406.4L92.3 404.8L100.9 409.0ZM145.1 431.2L108.3 413.3L108.9 411.9L145.4 430.6ZM145.2 431.1L108.6 412.5L109.3 411.2L145.5 430.4ZM105.1 410.7L100.6 408.4L101.4 407.0L105.8 409.3ZM97.1 406.6L88.6 402.3L89.4 400.6L97.8 405.1ZM145.2 431.0L101.1 407.5L101.9 406.1L145.6 430.3ZM97.6 405.6L93.1 403.3L94.0 401.7L98.4 404.1ZM145.3 430.8L101.6 406.6L102.4 405.2L145.7 430.2ZM94.1 402.5L89.8 400.0L90.7 398.4L95.0 400.9ZM145.4 430.7L94.3 401.2L95.2 399.6L145.8 430.0ZM90.8 399.2L86.5 396.7L87.5 395.0L91.8 397.6ZM145.5 430.5L87.2 395.5L88.2 393.9L145.8 429.9ZM145.5 430.4L84.0 392.0L85.1 390.3L145.9 429.8ZM145.6 430.3L92.3 395.7L93.4 394.1L146.0 429.7ZM89.0 393.5L84.8 390.8L85.9 389.1L90.1 391.9ZM142.0 427.6L126.6 417.3L127.3 416.3L142.4 427.0ZM123.3 415.1L85.6 389.6L86.7 388.0L124.0 414.1ZM142.1 427.4L82.7 385.9L83.9 384.2L142.6 426.8ZM134.9 422.0L94.5 392.6L95.6 391.1L135.5 421.2ZM87.6 387.6L83.6 384.6L84.8 383.0L88.8 386.0ZM135.2 421.6L131.2 418.6L131.8 417.8L135.8 420.9ZM128.0 416.2L95.2 391.6L96.4 390.1L128.7 415.3ZM88.4 386.4L84.4 383.4L85.7 381.8L89.7 384.9ZM146.0 429.6L142.1 426.6L142.6 425.9L146.5 429.1ZM135.4 421.3L127.9 415.5L128.6 414.6L136.0 420.6ZM114.1 404.7L92.4 387.8L93.6 386.3L115.0 403.6ZM114.6 404.0L93.3 386.7L94.5 385.2L115.6 402.9ZM146.2 429.4L142.4 426.2L142.9 425.6L146.7 428.8ZM118.6 406.3L94.1 385.7L95.4 384.2L119.5 405.2ZM91.1 383.1L83.8 377.0L85.2 375.4L92.4 381.6ZM146.3 429.3L142.5 426.0L143.1 425.4L146.8 428.7ZM129.3 414.5L95.0 384.7L96.3 383.2L130.1 413.7ZM92.0 382.0L84.8 375.8L86.2 374.2L93.3 380.5ZM146.4 429.2L142.7 425.8L143.3 425.2L146.9 428.6ZM139.7 423.1L132.6 416.8L133.4 416.0L140.3 422.5ZM129.7 414.1L92.5 380.7L93.9 379.2L130.4 413.3ZM89.5 378.0L82.5 371.6L84.0 370.0L91.0 376.4ZM146.5 429.0L142.8 425.6L143.4 425.0L147.0 428.5ZM136.6 419.8L93.5 379.6L94.9 378.1L137.3 419.1ZM90.5 376.9L83.6 370.4L85.2 368.8L92.0 375.4ZM146.6 428.9L133.3 416.1L134.0 415.3L147.1 428.4ZM130.4 413.3L104.2 388.0L105.4 386.7L131.2 412.5ZM94.8 378.9L91.2 375.4L92.7 374.0L96.2 377.5ZM88.3 372.7L84.7 369.2L86.3 367.6L89.8 371.1ZM143.5 425.6L133.6 415.7L134.4 415.0L144.1 425.1ZM130.8 412.9L105.0 387.1L106.3 385.9L131.6 412.1ZM95.8 377.9L92.3 374.4L93.7 372.9L97.2 376.5ZM89.4 371.5L85.9 368.0L87.5 366.4L91.0 370.0ZM146.8 428.7L140.2 421.9L140.9 421.2L147.3 428.2ZM137.4 419.0L134.0 415.4L134.7 414.7L138.1 418.3ZM131.2 412.5L105.8 386.3L107.1 385.0L132.0 411.7ZM90.5 370.4L87.1 366.9L88.7 365.3L92.1 369.0ZM146.9 428.6L106.7 385.5L108.0 384.3L147.5 428.1ZM91.7 369.4L85.2 362.4L86.9 360.8L93.3 367.9ZM147.0 428.5L107.5 384.7L108.9 383.5L147.6 428.0ZM101.9 378.3L98.5 374.6L100.0 373.3L103.3 377.1ZM92.8 368.3L86.5 361.2L88.2 359.7L94.4 366.9ZM147.1 428.4L108.4 383.9L109.8 382.7L147.7 427.9ZM102.9 377.5L99.6 373.7L101.1 372.4L104.3 376.2ZM96.9 370.7L87.8 360.1L89.5 358.6L98.5 369.3ZM147.3 428.3L112.2 386.5L113.5 385.5L147.8 427.8ZM109.6 383.5L103.5 376.2L105.0 375.0L111.0 382.3ZM92.3 362.8L89.1 359.0L90.9 357.5L94.0 361.4ZM147.4 428.2L113.1 385.8L114.4 384.8L147.9 427.7ZM110.5 382.7L107.4 378.8L108.9 377.7L111.9 381.6ZM96.4 365.2L90.4 357.9L92.2 356.4L98.1 363.9ZM147.5 428.1L113.9 385.1L115.3 384.1L148.1 427.6ZM111.5 382.0L108.4 378.1L109.9 376.9L112.9 380.9ZM94.8 360.7L91.8 356.8L93.6 355.4L96.6 359.3ZM89.3 353.6L83.4 346.1L85.5 344.6L91.2 352.2ZM147.6 428.0L114.8 384.5L116.2 383.5L148.2 427.6ZM112.4 381.3L109.4 377.3L110.9 376.2L113.8 380.2ZM96.1 359.7L93.1 355.7L95.0 354.3L97.9 358.4ZM90.7 352.5L85.0 344.9L87.1 343.4L92.7 351.1ZM147.7 427.9L121.0 391.1L122.2 390.2L148.3 427.5ZM118.6 387.9L115.7 383.8L117.1 382.8L119.9 386.9ZM92.2 351.4L83.9 340.1L86.1 338.6L94.1 350.1ZM147.8 427.8L124.3 394.2L125.5 393.4L148.5 427.4ZM93.6 350.4L85.6 338.9L87.8 337.4L95.6 349.0ZM148.0 427.7L122.5 390.0L123.8 389.1L148.6 427.3ZM120.3 386.7L117.5 382.5L118.9 381.6L121.6 385.8ZM102.7 360.6L84.8 334.0L87.0 332.5L104.5 359.4ZM148.1 427.6L123.3 389.5L124.6 388.6L148.7 427.2ZM99.1 352.1L96.3 348.0L98.4 346.7L101.0 350.9ZM94.2 344.6L91.4 340.4L93.6 339.0L96.3 343.3ZM89.3 337.0L84.1 329.1L86.5 327.6L91.5 335.6ZM148.2 427.5L131.3 400.4L132.4 399.7L148.8 427.2ZM102.9 355.0L97.9 347.0L99.9 345.7L104.8 353.9ZM95.7 343.6L85.9 327.9L88.3 326.4L97.9 342.3ZM148.3 427.5L141.1 415.5L142.0 414.9L149.0 427.1ZM139.1 412.0L131.9 400.0L133.0 399.4L140.0 411.5ZM104.3 354.2L99.4 346.0L101.5 344.8L106.2 353.0ZM97.3 342.6L87.8 326.7L90.2 325.3L99.5 341.3ZM148.5 427.4L134.7 403.6L135.8 402.9L149.1 427.0ZM103.5 349.4L87.5 321.7L90.0 320.3L105.5 348.3ZM148.6 427.3L135.3 403.2L136.3 402.7L149.3 426.9ZM98.4 336.8L89.4 320.6L92.0 319.2L100.7 335.5ZM148.7 427.2L140.0 410.9L141.0 410.4L149.4 426.9ZM138.2 407.3L131.6 395.0L132.8 394.3L139.2 406.8ZM106.5 347.7L91.5 319.5L94.0 318.2L108.5 346.7ZM148.9 427.1L140.5 410.7L141.4 410.2L149.5 426.8ZM138.6 407.1L136.4 402.6L137.5 402.1L139.7 406.6ZM134.6 399.1L132.3 394.6L133.5 394.0L135.7 398.5ZM126.4 383.0L122.1 374.6L123.7 373.8L127.8 382.3ZM110.0 351.0L93.5 318.4L96.1 317.2L112.1 350.0ZM149.0 427.1L144.8 418.5L145.7 418.1L149.7 426.8ZM143.1 414.9L140.9 410.4L141.9 410.0L144.0 414.5ZM139.1 406.8L136.9 402.4L138.1 401.8L140.2 406.4ZM133.2 394.7L131.0 390.2L132.3 389.6L134.5 394.1ZM123.4 374.5L121.2 370.0L122.8 369.2L125.0 373.7ZM111.5 350.2L93.5 313.4L96.2 312.1L113.5 349.3ZM135.8 398.4L131.8 389.8L133.1 389.2L137.0 397.9ZM130.1 386.2L128.0 381.7L129.5 381.0L131.5 385.6ZM124.4 374.0L122.3 369.4L124.0 368.7L126.0 373.2ZM116.8 357.7L114.7 353.1L116.7 352.2L118.7 356.8ZM113.0 349.5L110.9 345.0L113.0 344.0L115.0 348.6ZM109.2 341.4L97.6 316.4L100.2 315.2L111.4 340.4ZM149.3 426.9L143.6 414.1L144.5 413.7L150.0 426.6ZM140.1 406.4L138.1 401.8L139.2 401.3L141.2 405.9ZM136.5 398.2L123.4 368.9L125.1 368.2L137.6 397.6ZM118.2 357.0L97.8 311.4L100.5 310.2L120.1 356.2ZM147.7 422.7L145.7 418.1L146.5 417.8L148.4 422.4ZM133.6 389.6L131.6 385.0L133.1 384.4L134.9 389.0ZM128.3 377.2L124.6 368.4L126.3 367.7L129.9 376.5ZM119.5 356.4L100.0 310.4L102.7 309.3L121.4 355.6ZM136.1 393.4L125.8 367.9L127.5 367.2L137.3 392.9ZM120.9 355.9L102.2 309.5L104.9 308.4L122.8 355.1ZM136.8 393.1L126.9 367.5L128.7 366.8L138.1 392.6ZM122.3 355.3L107.6 317.0L110.2 316.1L124.2 354.6ZM106.1 313.3L104.4 308.6L107.1 307.6L108.8 312.3ZM149.8 426.7L148.1 422.0L148.9 421.7L150.5 426.4ZM139.1 397.1L128.1 367.0L129.9 366.4L140.3 396.6ZM123.7 354.8L108.1 312.0L110.8 311.1L125.6 354.1ZM136.8 388.3L129.3 366.6L131.1 366.0L138.2 387.9ZM125.1 354.3L110.2 311.3L113.0 310.4L127.0 353.6ZM148.7 422.3L147.2 417.5L148.1 417.3L149.5 422.0ZM137.6 388.1L130.5 366.2L132.3 365.6L139.0 387.6ZM126.5 353.8L113.8 314.8L116.5 314.0L128.5 353.2ZM138.4 387.8L131.7 365.8L133.5 365.3L139.8 387.4ZM126.6 349.1L115.9 314.2L118.6 313.4L128.6 348.4ZM140.5 391.9L131.7 361.1L133.5 360.6L141.8 391.5ZM126.8 344.3L116.8 309.2L119.5 308.4L129.0 343.7ZM141.2 391.7L139.9 386.8L141.4 386.5L142.6 391.3ZM138.9 383.0L132.9 360.7L134.8 360.3L140.4 382.6ZM128.4 343.8L124.8 330.3L127.2 329.7L130.6 343.3ZM122.6 322.1L119.0 308.6L121.8 307.9L125.1 321.4ZM142.0 391.5L135.3 364.8L137.1 364.3L143.3 391.1ZM130.0 343.4L127.7 334.2L130.1 333.6L132.2 342.9ZM126.7 330.3L122.3 312.4L125.0 311.7L129.2 329.7ZM140.7 382.5L139.6 377.6L141.2 377.3L142.2 382.2ZM138.7 373.7L136.6 364.5L138.4 364.1L140.3 373.4ZM151.0 426.3L149.9 421.4L150.8 421.2L151.7 426.2ZM141.6 382.3L137.8 364.2L139.6 363.8L143.1 382.0ZM133.2 342.7L132.2 337.8L134.5 337.3L135.4 342.2ZM127.6 316.3L126.6 311.4L129.3 310.8L130.3 315.7ZM142.6 382.1L139.0 363.9L140.9 363.6L144.1 381.8ZM129.7 315.8L128.7 310.9L131.5 310.4L132.3 315.3ZM151.3 426.2L150.4 421.3L151.3 421.2L152.0 426.1ZM143.5 381.9L142.6 377.0L144.2 376.7L145.0 381.7ZM141.1 368.6L139.5 359.3L141.4 358.9L142.9 368.3ZM144.4 381.8L143.6 376.8L145.2 376.6L145.9 381.5ZM143.0 372.9L140.8 359.0L142.7 358.8L144.7 372.6ZM143.4 368.2L142.1 358.8L144.0 358.6L145.2 368.0ZM144.6 368.1L143.4 358.7L145.4 358.4L146.4 367.9ZM151.9 426.1L150.9 416.7L151.8 416.6L152.6 426.1ZM148.1 390.3L147.6 385.4L149.1 385.2L149.5 390.2ZM145.8 368.0L144.8 358.5L146.7 358.3L147.5 367.8ZM139.2 305.3L138.2 295.8L141.2 295.6L142.0 305.0ZM151.7 421.6L151.2 416.6L152.1 416.6L152.5 421.6ZM146.5 363.3L146.1 358.4L148.0 358.2L148.4 363.2ZM152.2 426.1L151.8 421.1L152.7 421.1L152.9 426.1ZM148.4 372.2L148.1 367.2L149.9 367.1L150.1 372.1ZM147.8 363.2L147.4 358.3L149.4 358.1L149.6 363.1ZM152.4 426.1L152.1 421.1L152.9 421.1L153.1 426.1ZM151.6 412.6L151.4 407.6L152.5 407.6L152.6 412.6ZM151.2 403.6L150.0 380.6L151.5 380.6L152.3 403.6ZM149.3 367.7L148.8 358.2L150.7 358.1L151.1 367.6ZM152.5 426.1L152.3 421.1L153.2 421.1L153.2 426.1ZM152.2 417.1L151.8 407.6L152.9 407.6L153.1 417.1ZM151.7 403.6L151.5 398.6L152.8 398.6L152.9 403.6ZM151.2 390.1L150.9 380.6L152.5 380.6L152.6 390.1ZM152.7 426.1L152.6 421.1L153.4 421.1L153.4 426.1ZM152.5 417.1L151.9 380.6L153.4 380.6L153.4 417.1Z"/>
<path fill="#887A7A" d="M152.8 426.1L152.8 421.1L153.6 421.1L153.5 426.1ZM152.8 399.1L152.8 362.6L154.7 362.6L154.0 399.1ZM152.8 327.1L152.8 313.1L155.5 313.1L155.3 327.1ZM153.3 408.1L153.4 403.1L154.5 403.1L154.3 408.1ZM153.4 399.1L154.1 362.6L155.9 362.6L154.6 399.1ZM154.8 318.1L154.9 313.1L157.6 313.1L157.5 318.1ZM153.6 412.6L153.7 407.6L154.8 407.6L154.6 412.6ZM154.0 399.1L154.4 389.6L155.8 389.6L155.3 399.1ZM154.5 385.6L155.5 358.1L157.4 358.2L156.0 385.6ZM154.0 412.6L154.2 407.6L155.3 407.6L154.9 412.6ZM154.7 399.1L156.8 358.1L158.8 358.3L155.9 399.2ZM153.4 426.1L153.8 421.1L154.6 421.1L154.2 426.1ZM154.4 412.6L154.7 407.6L155.8 407.7L155.3 412.7ZM155.0 403.6L156.3 385.2L157.7 385.3L156.1 403.7ZM156.6 381.2L158.2 358.2L160.1 358.4L158.1 381.3ZM153.6 426.1L154.0 421.1L154.8 421.2L154.3 426.1ZM154.7 412.6L155.2 407.6L156.2 407.7L155.7 412.7ZM155.5 403.6L157.1 385.2L158.6 385.4L156.7 403.8ZM158.3 372.3L159.5 358.3L161.4 358.5L160.0 372.4ZM154.2 421.6L157.1 394.2L158.4 394.4L155.0 421.7ZM157.5 390.3L160.4 362.9L162.2 363.1L158.8 390.4ZM154.4 421.6L155.6 412.2L156.6 412.3L155.2 421.7ZM156.1 408.2L158.9 385.4L160.3 385.6L157.1 408.4ZM160.5 372.5L161.6 363.1L163.5 363.3L162.1 372.7ZM169.2 301.0L169.8 296.1L172.8 296.5L172.2 301.4ZM154.7 421.6L159.7 385.5L161.2 385.7L155.5 421.8ZM160.3 381.5L162.2 367.7L164.0 367.9L161.8 381.8ZM193.5 145.4L194.8 135.9L200.6 136.8L199.1 146.2ZM154.2 426.1L160.6 385.6L162.0 385.9L154.9 426.2ZM161.2 381.7L162.0 376.7L163.6 377.0L162.7 381.9ZM162.6 372.8L163.4 367.8L165.2 368.1L164.3 373.1ZM169.7 328.3L170.4 323.4L173.0 323.8L172.1 328.7ZM174.6 297.2L176.1 287.8L179.2 288.4L177.6 297.7ZM198.5 146.1L200.0 136.7L205.8 137.7L204.1 147.0ZM202.0 123.9L202.8 118.9L208.9 120.0L208.1 124.9ZM154.3 426.1L160.7 390.2L162.0 390.4L155.1 426.3ZM171.5 328.6L172.4 323.7L174.9 324.2L174.0 329.1ZM177.0 297.6L178.6 288.3L181.8 288.8L180.0 298.2ZM202.0 155.8L204.4 142.0L210.1 143.1L207.4 156.8ZM154.5 426.2L164.9 372.7L166.5 373.0L155.2 426.3ZM173.4 329.0L174.3 324.1L176.8 324.6L175.8 329.5ZM179.4 298.1L181.2 288.7L184.3 289.4L182.3 298.7ZM206.9 156.7L209.5 143.0L215.2 144.1L212.3 157.8ZM157.4 413.0L163.1 386.1L164.6 386.4L158.4 413.2ZM164.0 382.2L165.0 377.3L166.6 377.6L165.5 382.5ZM165.9 373.4L167.8 364.1L169.6 364.5L167.5 373.7ZM181.8 298.5L183.7 289.2L186.9 289.9L184.7 299.2ZM154.8 426.2L170.1 359.9L172.0 360.4L155.5 426.4ZM185.1 294.7L186.3 289.8L189.4 290.5L188.2 295.4ZM154.9 426.2L156.1 421.4L157.0 421.6L155.6 426.4ZM158.2 413.1L171.4 360.3L173.3 360.7L159.1 413.4ZM187.6 295.2L188.8 290.4L191.9 291.2L190.6 296.0ZM158.6 413.2L161.0 404.1L162.1 404.4L159.5 413.5ZM162.1 400.2L171.5 364.9L173.3 365.4L163.2 400.5ZM190.0 295.9L191.3 291.0L194.4 291.9L193.0 296.7ZM155.2 426.3L156.6 421.5L157.4 421.7L155.9 426.5ZM157.7 417.7L170.2 373.9L171.9 374.4L158.6 417.9ZM171.3 370.1L172.7 365.3L174.5 365.8L173.0 370.6ZM191.2 300.9L193.8 291.7L196.9 292.6L194.1 301.7ZM155.4 426.4L170.0 378.5L171.5 379.0L156.1 426.6ZM156.9 422.1L158.4 417.4L159.3 417.6L157.7 422.4ZM161.1 409.3L172.4 374.6L174.0 375.1L162.1 409.6ZM155.7 426.4L160.2 413.2L161.2 413.5L156.4 426.7ZM161.5 409.4L173.4 374.9L175.0 375.5L162.5 409.8ZM163.5 405.3L174.4 375.3L176.0 375.9L164.6 405.7ZM157.6 422.3L175.5 375.6L177.1 376.3L158.3 422.6ZM156.1 426.6L159.7 417.8L160.5 418.1L156.8 426.9ZM161.2 414.1L163.0 409.4L164.0 409.8L162.1 414.4ZM164.5 405.7L176.5 376.0L178.1 376.7L165.6 406.2ZM205.0 305.6L206.9 300.9L209.7 302.1L207.8 306.7ZM156.2 426.6L159.9 417.9L160.8 418.3L156.9 426.9ZM168.6 397.6L177.5 376.5L179.1 377.1L169.7 398.2ZM207.2 306.5L209.2 301.9L212.0 303.1L210.0 307.7ZM167.4 402.0L178.6 376.9L180.1 377.6L168.5 402.5ZM213.1 299.2L215.2 294.7L218.1 296.0L216.0 300.6ZM160.3 418.6L162.4 414.1L163.3 414.5L161.1 419.0ZM167.9 402.3L177.7 381.4L179.1 382.1L169.0 402.8ZM194.6 345.2L196.7 340.6L198.9 341.7L196.7 346.2ZM213.6 304.4L217.6 295.8L220.6 297.2L216.4 305.7ZM170.5 398.5L178.6 381.9L180.0 382.6L171.6 399.1ZM215.8 305.5L218.0 301.0L220.9 302.4L218.6 306.9ZM169.1 402.8L179.5 382.3L180.9 383.1L170.1 403.4ZM169.6 403.1L172.0 398.7L173.1 399.3L170.7 403.7ZM176.0 391.2L182.5 378.8L184.0 379.6L177.2 391.9ZM209.8 327.6L214.2 319.2L216.8 320.6L212.1 328.9ZM174.5 395.5L183.5 379.3L185.0 380.2L175.7 396.2ZM211.6 328.6L216.2 320.3L218.7 321.7L214.0 329.9ZM159.5 423.2L162.0 418.8L162.8 419.3L160.2 423.6ZM170.7 403.7L173.2 399.4L174.3 400.0L171.8 404.3ZM175.2 395.9L182.2 383.8L183.6 384.6L176.4 396.6ZM211.2 333.5L216.0 325.3L218.4 326.7L213.5 334.9ZM178.2 392.4L183.1 384.3L184.5 385.1L179.5 393.2ZM213.0 334.6L215.5 330.3L217.9 331.7L215.2 335.9ZM178.9 392.9L184.0 384.8L185.3 385.7L180.2 393.7ZM212.3 339.4L215.0 335.2L217.2 336.6L214.5 340.8ZM219.5 328.0L222.1 323.8L224.6 325.3L221.8 329.5ZM179.7 393.3L184.8 385.4L186.2 386.3L180.9 394.1ZM214.0 340.5L216.7 336.3L218.9 337.8L216.1 341.9ZM221.3 329.2L224.1 325.0L226.5 326.6L223.7 330.7ZM185.4 386.3L188.2 382.2L189.6 383.2L186.8 387.3ZM220.7 334.1L223.4 330.0L225.8 331.6L222.9 335.6ZM183.7 390.6L189.1 382.8L190.5 383.8L184.9 391.5ZM222.4 335.3L225.3 331.2L227.6 332.8L224.6 336.9ZM184.5 391.1L187.4 387.1L188.7 388.1L185.7 392.1ZM213.5 351.1L216.5 347.0L218.5 348.5L215.5 352.5ZM229.4 329.2L232.4 325.2L234.7 327.0L231.7 331.0ZM222.0 346.2L225.0 342.2L227.1 343.9L224.0 347.8ZM223.5 347.4L226.7 343.5L228.7 345.2L225.5 349.0ZM158.5 427.9L161.7 424.1L162.3 424.6L159.1 428.4ZM369.7 176.3L372.9 172.4L377.9 176.7L374.6 180.5ZM158.6 428.0L161.9 424.2L162.5 424.8L159.2 428.5ZM223.6 353.3L226.8 349.5L228.8 351.2L225.4 354.9ZM231.0 347.8L234.3 344.1L236.4 346.0L232.9 349.6ZM158.9 428.2L165.3 421.2L166.0 421.9L159.4 428.7ZM226.4 355.8L229.8 352.1L231.6 353.9L228.2 357.5ZM232.5 349.2L235.9 345.6L237.9 347.4L234.4 351.0ZM227.7 357.1L231.2 353.5L233.0 355.3L229.5 358.8ZM234.0 350.6L237.5 347.0L239.4 348.9L235.9 352.5ZM162.3 425.2L165.8 421.7L166.4 422.3L162.8 425.8ZM229.1 358.4L239.0 348.5L240.9 350.4L230.8 360.2ZM227.2 362.9L230.8 359.4L232.5 361.2L228.8 364.6ZM233.6 356.6L237.2 353.1L239.1 355.1L235.4 358.5ZM162.6 425.6L169.5 419.1L170.2 419.8L163.1 426.2ZM179.0 410.2L182.7 406.8L183.6 407.8L179.9 411.1ZM228.4 364.2L232.1 360.8L233.7 362.6L230.0 365.9ZM238.3 355.0L241.9 351.5L243.8 353.6L240.1 356.9ZM166.1 422.7L169.8 419.4L170.5 420.1L166.7 423.4ZM182.8 407.6L189.9 401.3L190.8 402.4L183.7 408.6ZM239.7 356.5L246.7 350.1L248.6 352.2L241.4 358.4ZM159.5 428.8L163.3 425.6L163.8 426.2L160.0 429.4ZM166.3 422.9L173.5 416.7L174.2 417.5L166.9 423.6ZM183.3 408.2L190.4 401.9L191.4 403.1L184.1 409.2ZM241.0 358.0L248.2 351.7L250.0 353.9L242.7 360.0ZM173.4 417.4L187.6 405.5L188.5 406.6L174.1 418.2ZM238.9 362.4L242.7 359.2L244.4 361.2L240.5 364.4ZM245.8 356.6L256.5 347.6L258.4 349.9L247.5 358.7ZM328.5 287.2L335.8 281.1L338.8 284.8L331.4 290.8ZM163.2 426.2L170.6 420.2L171.2 421.0L163.7 426.9ZM173.7 417.7L188.1 406.1L188.9 407.2L174.4 418.6ZM240.1 363.9L251.0 355.1L252.8 357.3L241.7 365.9ZM163.4 426.4L167.3 423.3L167.9 424.1L163.9 427.1ZM170.4 420.9L177.9 415.0L178.6 415.9L171.0 421.6ZM241.4 365.5L248.9 359.6L250.5 361.8L242.9 367.5ZM252.0 357.1L259.5 351.3L261.3 353.6L253.7 359.4ZM163.5 426.6L192.6 404.6L193.5 405.8L164.0 427.3ZM221.0 383.3L225.0 380.2L226.3 382.0L222.2 384.9ZM242.6 367.0L264.5 350.5L266.3 352.9L244.1 369.1ZM167.3 424.1L182.2 413.2L183.0 414.3L167.8 424.9ZM189.1 408.3L196.8 402.7L197.7 403.9L189.9 409.4ZM218.3 387.1L222.3 384.2L223.5 385.9L219.4 388.7ZM243.7 368.6L251.4 363.0L253.0 365.2L245.2 370.7ZM258.3 358.0L262.3 355.1L264.1 357.5L260.0 360.3ZM163.8 427.0L175.2 418.9L175.9 419.8L164.2 427.6ZM178.5 416.6L182.6 413.8L183.3 414.8L179.2 417.6ZM219.1 388.2L223.2 385.4L224.4 387.1L220.2 389.9ZM244.9 370.2L260.0 359.6L261.7 361.9L246.3 372.3ZM160.2 429.7L183.0 414.3L183.7 415.3L160.6 430.3ZM190.0 409.5L194.2 406.7L195.0 408.0L190.8 410.7ZM227.3 384.4L231.5 381.6L232.7 383.4L228.5 386.2ZM246.0 371.8L265.1 358.9L266.7 361.4L247.4 373.9ZM160.3 429.8L175.8 419.7L176.4 420.6L160.7 430.4ZM179.1 417.5L183.3 414.8L184.0 415.8L179.8 418.5ZM247.1 373.4L266.4 360.9L268.0 363.4L248.5 375.6ZM248.1 375.1L256.2 370.0L257.6 372.4L249.5 377.2ZM259.6 367.9L267.6 362.9L269.2 365.4L261.0 370.3ZM160.4 430.0L164.7 427.5L165.2 428.2L160.8 430.7ZM168.2 425.4L176.3 420.5L176.8 421.4L168.6 426.2ZM233.7 386.0L238.0 383.4L239.2 385.4L234.9 387.9ZM249.2 376.7L253.4 374.2L254.8 376.4L250.5 378.9ZM260.7 369.8L265.0 367.2L266.5 369.7L262.2 372.2ZM160.5 430.2L180.4 418.7L181.0 419.7L160.9 430.8ZM164.5 428.1L168.9 425.7L169.4 426.5L164.9 428.8ZM164.7 428.3L169.1 426.0L169.5 426.8L165.0 429.0ZM176.6 422.0L181.0 419.6L181.5 420.7L177.1 422.9ZM160.8 430.6L193.3 414.0L193.9 415.2L161.1 431.2ZM208.9 406.0L213.3 403.8L214.1 405.4L209.6 407.6ZM224.9 397.9L233.4 393.6L234.3 395.5L225.8 399.7ZM236.9 391.7L241.4 389.5L242.4 391.6L237.9 393.8ZM160.8 430.7L181.5 420.6L182.0 421.7L161.1 431.4ZM185.1 418.9L189.6 416.7L190.2 417.9L185.6 420.0ZM160.9 430.8L189.9 417.3L190.4 418.5L161.2 431.5ZM197.6 413.7L202.1 411.6L202.8 413.0L198.2 415.0ZM213.9 406.1L218.5 404.0L219.2 405.7L214.7 407.7ZM377.1 330.0L385.7 326.0L387.8 330.6L379.1 334.5ZM161.0 431.0L169.6 427.1L170.0 428.0L161.3 431.7ZM173.3 425.5L186.1 419.8L186.6 420.9L173.7 426.4ZM189.7 418.2L194.3 416.1L194.9 417.4L190.3 419.3ZM161.0 431.1L198.8 415.1L199.3 416.4L161.3 431.8ZM202.5 413.5L207.1 411.6L207.7 413.1L203.0 414.9ZM243.9 395.9L248.5 394.0L249.4 396.2L244.8 398.1ZM380.6 337.9L385.2 336.0L387.1 340.6L382.5 342.5ZM161.1 431.3L203.3 414.2L203.9 415.6L161.4 431.9ZM382.2 341.9L391.0 338.3L392.9 343.1L384.0 346.5ZM161.2 431.4L207.8 413.5L208.4 415.0L161.4 432.1ZM228.4 405.6L233.0 403.8L233.8 405.8L229.1 407.5ZM241.0 400.7L245.6 399.0L246.5 401.1L241.8 402.8ZM161.2 431.5L233.6 405.2L234.3 407.2L161.5 432.2ZM288.1 385.4L292.8 383.6L293.8 386.7L289.1 388.3ZM161.3 431.7L208.6 415.4L209.1 416.9L161.5 432.4ZM212.3 414.1L234.1 406.6L234.7 408.6L212.9 415.7ZM386.8 354.0L395.8 350.9L397.4 355.7L388.3 358.7ZM161.3 431.8L204.6 417.7L205.1 419.2L161.5 432.5ZM208.4 416.5L226.0 410.8L226.6 412.6L208.9 418.1ZM229.8 409.6L234.6 408.0L235.2 410.0L230.4 411.5ZM238.4 406.8L243.1 405.2L243.8 407.4L239.0 408.8ZM388.2 358.1L397.2 355.2L398.7 360.0L389.6 362.8ZM161.4 432.0L226.4 412.1L227.0 413.9L161.6 432.7ZM238.8 408.3L252.2 404.2L252.9 406.5L239.5 410.3ZM385.2 363.5L398.5 359.4L400.0 364.3L386.5 368.2ZM161.4 432.1L222.5 414.6L223.0 416.4L161.6 432.8ZM243.6 408.5L257.1 404.7L257.7 407.1L244.2 410.7ZM161.5 432.3L222.8 415.8L223.3 417.6L161.7 433.0ZM244.1 410.1L257.6 406.5L258.2 408.9L244.6 412.3ZM161.5 432.4L227.5 415.9L228.0 417.8L161.7 433.1ZM240.1 412.8L249.3 410.5L249.9 412.8L240.6 414.9ZM253.2 409.5L266.8 406.1L267.4 408.7L253.8 411.9ZM161.6 432.5L188.4 426.4L188.6 427.6L161.7 433.3ZM192.3 425.5L227.8 417.2L228.2 419.1L192.5 426.7ZM240.5 414.3L267.3 408.1L267.8 410.7L241.0 416.4ZM161.6 432.7L179.7 428.8L179.9 429.9L161.7 433.4ZM183.6 428.0L188.5 427.0L188.7 428.2L183.8 429.1ZM192.4 426.1L228.1 418.5L228.5 420.5L192.7 427.4ZM240.8 415.8L258.9 412.0L259.4 414.4L241.3 418.0ZM280.4 407.4L285.3 406.4L285.9 409.3L281.0 410.2ZM161.6 432.8L179.8 429.3L180.0 430.4L161.8 433.6ZM183.7 428.5L228.4 419.9L228.7 421.8L183.9 429.7ZM241.1 417.4L259.3 413.8L259.8 416.3L241.5 419.5ZM276.5 410.5L285.8 408.7L286.3 411.6L277.0 413.3ZM161.7 433.0L224.2 422.0L224.5 423.8L161.8 433.7ZM237.0 419.7L259.7 415.7L260.1 418.2L237.3 421.8ZM281.3 411.9L286.2 411.0L286.7 413.9L281.8 414.7ZM161.7 433.1L175.5 430.9L175.7 431.9L161.8 433.9ZM179.5 430.3L224.4 423.2L224.7 425.0L179.6 431.4ZM237.3 421.2L260.0 417.6L260.3 420.0L237.6 423.2ZM277.3 414.8L286.6 413.3L287.1 416.3L277.7 417.6ZM161.7 433.3L171.1 432.0L171.2 432.9L161.8 434.0ZM192.9 428.9L229.1 423.8L229.3 425.7L193.1 430.2ZM237.5 422.6L255.8 420.1L256.1 422.5L237.8 424.7ZM282.0 416.4L287.0 415.7L287.4 418.6L282.4 419.2ZM161.7 433.4L171.2 432.3L171.3 433.2L161.8 434.2ZM193.0 429.6L229.2 425.1L229.5 427.1L193.2 430.9ZM237.7 424.1L256.0 421.9L256.3 424.3L237.9 426.2ZM277.9 419.2L282.8 418.6L283.2 421.4L278.2 422.0ZM166.2 433.1L171.2 432.6L171.3 433.5L166.3 433.9ZM175.2 432.2L180.2 431.7L180.3 432.7L175.3 433.2ZM184.1 431.2L189.1 430.7L189.2 431.9L184.3 432.4ZM197.6 429.8L224.9 426.9L225.1 428.8L197.7 431.2ZM228.9 426.5L251.8 424.1L252.0 426.4L229.1 428.5ZM278.1 421.4L283.1 420.8L283.4 423.7L278.4 424.1ZM161.8 433.7L175.7 432.5L175.8 433.5L161.8 434.5ZM184.2 431.8L207.1 429.8L207.2 431.3L184.3 432.9ZM211.1 429.4L225.0 428.2L225.2 430.1L211.2 431.0ZM229.0 427.9L251.9 425.9L252.1 428.2L229.2 429.8ZM260.4 425.1L269.9 424.3L270.1 426.9L260.6 427.6ZM278.3 423.5L283.3 423.1L283.6 426.0L278.6 426.3ZM161.8 433.9L171.3 433.2L171.3 434.1L161.8 434.6ZM179.8 432.6L184.8 432.3L184.8 433.4L179.8 433.7ZM188.7 432.0L198.2 431.3L198.3 432.7L188.8 433.2ZM202.2 431.1L216.2 430.1L216.3 431.8L202.3 432.5ZM220.2 429.8L225.2 429.5L225.3 431.3L220.3 431.6ZM229.1 429.2L234.1 428.8L234.3 430.8L229.3 431.1ZM238.1 428.6L252.1 427.6L252.2 429.9L238.2 430.6ZM260.6 427.0L265.6 426.6L265.7 429.2L260.7 429.5ZM278.5 425.7L283.5 425.4L283.7 428.3L278.7 428.5ZM161.8 434.1L171.3 433.5L171.3 434.5L161.8 434.8ZM179.8 433.1L184.8 432.8L184.8 434.0L179.8 434.2ZM188.8 432.6L193.8 432.4L193.8 433.7L188.8 433.9ZM202.3 431.9L211.8 431.4L211.8 433.1L202.3 433.4ZM220.2 431.0L225.2 430.7L225.3 432.6L220.3 432.8ZM229.2 430.5L234.2 430.2L234.3 432.3L229.3 432.4ZM238.2 430.0L252.2 429.3L252.3 431.6L238.3 432.1ZM260.7 428.9L265.7 428.6L265.8 431.2L260.8 431.3ZM418.0 420.6L423.0 420.4L423.2 425.7L418.2 425.8ZM161.8 434.2L175.8 433.7L175.8 434.7L161.8 434.9ZM184.3 433.4L189.3 433.2L189.3 434.5L184.3 434.6ZM193.3 433.1L202.8 432.8L202.8 434.2L193.3 434.4ZM224.8 432.0L229.8 431.8L229.8 433.8L224.8 433.8ZM247.3 431.2L256.8 430.9L256.8 433.3L247.3 433.5ZM260.8 430.7L265.8 430.6L265.8 433.1L260.8 433.2ZM278.8 430.1L283.8 429.9L283.8 432.8L278.8 432.9ZM571.1 419.9L576.1 419.7L576.3 427.7L571.3 427.8ZM161.8 434.4L180.3 434.0L180.3 435.1L161.8 435.1ZM184.3 434.0L189.3 433.9L189.3 435.1L184.3 435.1ZM193.3 433.8L198.3 433.7L198.3 435.1L193.3 435.1ZM247.3 432.9L256.8 432.7L256.8 435.1L247.3 435.1ZM260.8 432.6L265.8 432.5L265.8 435.1L260.8 435.1ZM278.8 432.3L283.8 432.2L283.8 435.1L278.8 435.1ZM166.3 434.5L175.8 434.5L175.8 435.5L166.3 435.3ZM179.8 434.5L184.8 434.5L184.8 435.7L179.8 435.6ZM242.8 434.5L247.8 434.5L247.8 436.8L242.8 436.7ZM251.8 434.5L256.8 434.5L256.8 436.9L251.8 436.8ZM260.8 434.5L265.8 434.5L265.8 437.1L260.8 437.0ZM278.8 434.5L283.8 434.5L283.8 437.4L278.8 437.3ZM161.8 434.7L175.8 434.9L175.8 435.9L161.8 435.4ZM179.8 435.0L184.8 435.1L184.8 436.2L179.8 436.0ZM188.8 435.1L193.8 435.2L193.8 436.5L188.8 436.3ZM206.8 435.4L211.8 435.5L211.8 437.2L206.8 437.0ZM233.8 435.9L256.8 436.3L256.8 438.7L233.8 437.9ZM260.8 436.4L265.8 436.5L265.8 439.0L260.8 438.9ZM278.8 436.7L283.8 436.8L283.8 439.7L278.8 439.5ZM175.3 435.3L189.3 435.8L189.3 437.0L175.3 436.3ZM233.8 437.3L238.8 437.5L238.7 439.6L233.7 439.3ZM242.8 437.6L261.3 438.3L261.2 440.8L242.7 439.8ZM265.3 438.4L270.3 438.6L270.2 441.2L265.2 441.0ZM161.8 435.0L166.8 435.2L166.8 436.1L161.8 435.7ZM179.8 435.9L189.3 436.4L189.2 437.6L179.8 437.0ZM220.3 438.0L229.8 438.5L229.6 440.5L220.2 439.8ZM233.8 438.7L238.7 439.0L238.6 441.1L233.6 440.7ZM242.7 439.2L261.2 440.2L261.1 442.7L242.6 441.4ZM265.2 440.4L270.2 440.6L270.0 443.3L265.1 442.9ZM278.7 441.1L283.7 441.3L283.5 444.2L278.5 443.9ZM170.8 435.7L193.8 437.3L193.7 438.7L170.8 436.6ZM229.2 439.8L234.2 440.2L234.0 442.2L229.0 441.7ZM242.7 440.8L247.6 441.1L247.5 443.4L242.5 442.9ZM260.6 442.0L270.1 442.7L269.9 445.3L260.4 444.5ZM283.1 443.6L292.5 444.2L292.3 447.3L282.8 446.5ZM170.8 436.1L193.7 438.1L193.6 439.4L170.7 436.9ZM229.1 441.1L234.1 441.6L233.9 443.6L228.9 443.1ZM242.5 442.3L247.5 442.8L247.3 445.0L242.3 444.5ZM260.5 443.9L269.9 444.7L269.7 447.4L260.2 446.4ZM278.4 445.5L292.3 446.7L292.1 449.7L278.1 448.2ZM161.8 435.4L202.6 439.7L202.4 441.2L161.7 436.2ZM220.0 441.5L225.0 442.1L224.8 443.9L219.8 443.3ZM237.9 443.4L247.4 444.4L247.1 446.6L237.7 445.5ZM269.2 446.7L292.1 449.1L291.8 452.1L268.9 449.3ZM161.8 435.6L202.5 440.6L202.3 442.0L161.7 436.3ZM211.0 441.6L224.8 443.3L224.6 445.2L210.7 443.2ZM237.8 444.9L247.2 446.0L246.9 448.3L237.5 447.0ZM269.0 448.7L291.8 451.5L291.4 454.5L268.7 451.3ZM161.8 435.7L166.8 436.4L166.6 437.3L161.7 436.5ZM170.7 437.0L206.9 442.1L206.6 443.6L170.6 437.9ZM210.8 442.6L224.7 444.6L224.4 446.4L210.6 444.2ZM228.6 445.1L251.4 448.3L251.1 450.6L228.4 447.0ZM259.8 449.5L264.8 450.2L264.4 452.7L259.5 452.0ZM268.8 450.8L273.7 451.4L273.3 454.1L268.4 453.4ZM277.7 452.0L291.5 454.0L291.1 457.0L277.3 454.8ZM411.4 470.8L416.3 471.5L415.5 476.7L410.6 475.9ZM420.3 472.0L429.7 473.4L428.9 478.8L419.5 477.3ZM161.8 435.9L206.7 443.0L206.5 444.5L161.7 436.6ZM210.7 443.6L220.1 445.1L219.8 446.9L210.4 445.2ZM228.5 446.4L251.2 450.0L250.8 452.3L228.1 448.3ZM259.6 451.4L264.5 452.1L264.1 454.7L259.2 453.8ZM268.5 452.8L273.4 453.5L272.9 456.2L268.0 455.4ZM286.2 455.6L291.2 456.4L290.7 459.4L285.8 458.5ZM397.4 473.2L402.3 474.0L401.5 478.9L396.5 478.0ZM419.6 476.7L424.5 477.5L423.6 482.8L418.7 481.9ZM441.8 480.2L446.7 481.0L445.8 486.7L440.9 485.8ZM161.8 436.0L166.7 436.9L166.5 437.7L161.6 436.8ZM170.6 437.6L197.7 442.4L197.5 443.7L170.5 438.5ZM210.5 444.6L219.9 446.3L219.5 448.0L210.2 446.2ZM228.2 447.7L233.2 448.6L232.8 450.6L227.9 449.6ZM237.1 449.3L242.0 450.2L241.6 452.3L236.7 451.4ZM250.4 451.7L264.2 454.1L263.7 456.6L250.0 453.9ZM272.6 455.6L281.9 457.2L281.4 460.0L272.1 458.2ZM285.9 457.9L290.8 458.8L290.2 461.8L285.3 460.8ZM339.0 467.3L344.0 468.1L343.2 472.1L338.3 471.1ZM347.9 468.8L352.8 469.7L352.1 473.8L347.2 472.8ZM365.6 472.0L370.5 472.8L369.7 477.2L364.8 476.3ZM378.9 474.3L383.8 475.2L383.0 479.8L378.1 478.8ZM396.6 477.4L406.0 479.1L405.1 484.1L395.7 482.3ZM161.7 436.2L202.0 444.0L201.7 445.4L161.6 436.9ZM214.8 446.5L219.7 447.4L219.3 449.2L214.4 448.1ZM228.0 449.1L232.9 450.0L232.5 452.0L227.6 450.9ZM236.8 450.8L241.7 451.7L241.3 453.9L236.4 452.8ZM250.1 453.3L263.8 456.0L263.3 458.5L249.6 455.6ZM272.2 457.6L281.5 459.5L280.9 462.3L271.6 460.3ZM285.4 460.2L290.3 461.2L289.7 464.1L284.8 463.1ZM360.5 474.8L365.4 475.8L364.6 480.1L359.7 479.0ZM378.2 478.2L383.1 479.2L382.2 483.8L377.3 482.8ZM426.8 487.7L431.7 488.6L430.6 494.1L425.7 493.0ZM161.7 436.3L206.2 445.8L205.9 447.3L161.6 437.1ZM210.1 446.6L223.8 449.5L223.4 451.3L209.8 448.2ZM227.7 450.4L232.6 451.4L232.2 453.4L227.3 452.2ZM245.4 454.1L250.2 455.1L249.7 457.4L244.9 456.3ZM254.2 456.0L259.0 457.0L258.5 459.4L253.6 458.3ZM267.4 458.8L294.3 464.5L293.6 467.5L266.8 461.4ZM359.8 478.4L369.1 480.4L368.1 484.8L358.9 482.6ZM161.7 436.5L192.9 443.7L192.6 445.0L161.5 437.2ZM196.8 444.6L201.6 445.7L201.3 447.1L196.4 445.9ZM209.9 447.6L223.6 450.8L223.1 452.6L209.5 449.2ZM227.5 451.7L232.3 452.8L231.9 454.7L227.0 453.5ZM245.0 455.7L249.9 456.8L249.3 459.1L244.5 457.9ZM266.9 460.8L293.7 467.0L293.0 470.0L266.3 463.3ZM161.7 436.6L201.4 446.5L201.1 448.0L161.5 437.3ZM205.3 447.5L210.2 448.7L209.8 450.3L204.9 449.0ZM214.1 449.7L218.9 450.9L218.5 452.6L213.6 451.3ZM240.3 456.2L245.1 457.4L244.5 459.6L239.7 458.3ZM270.8 463.8L288.8 468.3L288.0 471.3L270.1 466.5ZM161.6 436.8L196.9 446.2L196.5 447.6L161.4 437.5ZM213.8 450.8L218.6 452.0L218.1 453.8L213.3 452.4ZM270.3 465.9L279.5 468.4L278.7 471.1L269.6 468.5ZM283.3 469.4L288.2 470.7L287.4 473.6L282.5 472.2ZM161.6 436.9L196.7 447.0L196.3 448.3L161.4 437.6ZM200.5 448.1L205.3 449.5L204.9 450.9L200.1 449.5ZM269.7 467.9L274.5 469.3L273.7 472.0L269.0 470.5ZM278.4 470.4L283.2 471.8L282.4 474.6L277.6 473.2ZM161.5 437.1L205.1 450.4L204.6 451.9L161.3 437.8ZM213.2 452.9L218.0 454.3L217.4 456.0L212.7 454.5ZM269.1 470.0L282.5 474.1L281.6 476.9L268.3 472.6ZM161.5 437.2L196.2 448.5L195.8 449.8L161.3 437.9ZM272.8 473.4L277.5 474.9L276.6 477.7L271.9 476.0ZM161.5 437.4L196.0 449.2L195.5 450.6L161.2 438.1ZM272.1 475.5L276.8 477.1L275.9 479.8L271.2 478.1ZM335.9 497.4L340.6 499.1L339.3 502.9L334.6 501.2ZM161.4 437.5L195.7 450.0L195.2 451.3L161.2 438.2ZM334.8 500.6L339.5 502.3L338.1 506.1L333.4 504.3ZM161.4 437.7L195.5 450.7L194.9 452.0L161.1 438.3ZM161.3 437.8L195.2 451.5L194.6 452.8L161.0 438.5ZM161.3 437.9L194.9 452.2L194.3 453.5L161.0 438.6ZM161.2 438.1L194.6 452.9L194.0 454.2L160.9 438.8ZM161.1 438.2L194.2 453.6L193.6 454.9L160.8 438.9ZM295.7 501.0L304.4 505.0L302.8 508.2L294.3 504.0ZM161.1 438.4L189.9 452.4L189.3 453.6L160.8 439.0ZM290.5 501.5L303.1 507.6L301.5 510.8L289.1 504.4ZM326.9 519.2L331.4 521.4L329.6 525.1L325.2 522.8ZM411.9 560.7L416.4 562.9L413.8 568.0L409.4 565.7ZM161.0 438.5L189.5 453.0L188.9 454.2L160.7 439.2ZM217.2 467.1L221.6 469.4L220.7 471.1L216.3 468.7ZM289.3 503.9L301.8 510.2L300.2 513.3L287.8 506.8ZM321.4 520.2L329.9 524.5L328.0 528.1L319.6 523.7ZM409.6 565.2L414.1 567.4L411.4 572.5L407.0 570.2ZM417.6 569.3L422.1 571.5L419.4 576.7L415.0 574.4ZM161.0 438.6L189.2 453.7L188.6 454.8L160.6 439.3ZM288.1 506.2L296.5 510.7L294.9 513.7L286.6 509.1ZM319.9 523.1L332.3 529.7L330.3 533.4L318.0 526.6ZM403.3 567.5L407.8 569.9L405.1 574.8L400.7 572.4ZM411.3 571.7L431.6 582.5L428.7 587.9L408.6 576.7ZM160.9 438.8L188.9 454.3L188.2 455.4L160.5 439.4ZM223.9 473.7L232.2 478.3L231.1 480.2L222.9 475.4ZM318.3 526.0L326.6 530.7L324.6 534.2L316.4 529.4ZM404.9 574.0L432.9 589.6L429.9 594.9L402.1 578.9ZM160.8 438.9L196.3 459.4L195.6 460.7L160.4 439.6ZM231.0 479.4L235.3 481.9L234.2 483.9L229.9 481.3ZM406.3 580.7L438.0 598.9L434.7 604.4L403.5 585.6ZM164.6 441.4L188.2 455.5L187.5 456.6L164.2 442.1ZM218.6 473.8L226.8 478.7L225.7 480.5L217.6 475.5ZM399.9 582.7L404.2 585.3L401.2 590.2L397.0 587.5ZM407.6 587.4L438.9 606.2L435.6 611.7L404.6 592.3ZM160.7 439.2L187.8 456.1L187.1 457.2L160.3 439.8ZM217.9 475.0L229.8 482.4L228.6 484.2L216.9 476.6ZM282.8 515.5L287.0 518.1L285.2 521.0L281.0 518.2ZM404.9 591.8L435.9 611.1L432.4 616.6L401.8 596.7ZM160.6 439.3L187.4 456.7L186.7 457.8L160.2 439.9ZM213.4 473.6L232.7 486.2L231.5 488.0L212.4 475.2ZM402.1 596.2L429.0 613.6L425.5 618.9L398.9 601.0ZM432.3 615.8L436.5 618.5L432.9 623.9L428.8 621.1ZM160.5 439.4L187.1 457.3L186.3 458.4L160.1 440.1ZM220.2 479.7L231.8 487.5L230.5 489.4L219.1 481.4ZM399.3 600.5L425.8 618.4L422.2 623.6L396.0 605.3ZM160.4 439.6L186.7 457.9L185.9 459.0L160.0 440.2ZM219.4 480.9L230.9 488.9L229.6 490.7L218.3 482.5ZM400.0 607.3L426.3 625.7L422.5 630.9L396.6 612.1ZM160.3 439.7L186.2 458.5L185.5 459.6L159.9 440.3ZM218.6 482.0L226.3 487.6L225.0 489.4L217.4 483.6ZM229.5 490.0L233.6 492.9L232.2 494.8L228.2 491.8ZM265.9 516.4L273.6 522.0L271.7 524.6L264.1 518.8ZM389.7 606.3L397.4 611.9L393.9 616.6L386.3 610.9ZM400.6 614.3L426.5 633.1L422.7 638.3L397.1 619.0ZM160.3 439.8L178.6 453.7L177.9 454.6L159.8 440.4ZM181.8 456.1L185.8 459.1L185.0 460.1L181.1 457.0ZM214.2 480.4L221.8 486.2L220.5 487.8L213.0 482.0ZM225.0 488.6L232.5 494.3L231.1 496.1L223.6 490.3ZM264.5 518.4L272.1 524.1L270.1 526.6L262.6 520.8ZM390.3 613.1L415.8 632.4L412.0 637.4L386.8 617.7ZM160.2 440.0L188.9 462.4L188.1 463.5L159.7 440.5ZM213.4 481.5L231.5 495.7L230.0 497.5L212.2 483.0ZM248.8 509.2L252.8 512.3L251.0 514.5L247.1 511.3ZM259.5 517.5L270.5 526.1L268.5 528.6L257.6 519.8ZM387.1 617.3L415.9 639.7L411.9 644.8L383.5 621.8ZM160.1 440.1L185.0 460.2L184.1 461.2L159.6 440.6ZM205.6 476.9L209.4 480.0L208.3 481.5L204.4 478.3ZM212.5 482.6L230.4 497.0L228.9 498.8L211.3 484.0ZM258.0 519.4L268.9 528.2L266.9 530.6L256.1 521.6ZM383.9 621.3L412.3 644.3L408.2 649.2L380.2 625.8ZM160.0 440.2L177.6 455.0L176.9 455.9L159.5 440.8ZM215.1 486.5L229.3 498.4L227.8 500.1L213.8 488.0ZM242.7 509.6L246.6 512.8L244.8 514.9L241.0 511.6ZM256.5 521.2L267.2 530.2L265.2 532.6L254.6 523.4ZM377.2 622.4L412.0 651.7L407.8 656.6L373.5 626.8ZM159.9 440.3L177.3 455.4L176.5 456.3L159.4 440.9ZM214.2 487.6L228.2 499.7L226.7 501.4L212.9 489.1ZM238.0 508.2L245.2 514.4L243.4 516.5L236.3 510.1ZM251.6 520.0L262.2 529.2L260.1 531.5L249.7 522.2ZM380.7 632.2L411.6 659.1L407.2 664.0L376.8 636.6ZM159.8 440.4L183.6 461.8L182.7 462.8L159.3 441.0ZM210.0 485.6L223.7 498.0L222.2 499.6L208.7 487.0ZM236.7 509.7L243.8 516.0L241.9 518.1L235.0 511.6ZM246.8 518.7L253.8 525.1L251.8 527.3L244.9 520.8ZM380.5 639.2L407.6 663.6L403.2 668.4L376.5 643.5ZM159.7 440.6L183.1 462.4L182.2 463.3L159.2 441.1ZM209.1 486.6L222.6 499.2L221.0 500.8L207.7 488.0ZM235.4 511.1L252.2 526.8L250.2 529.0L233.6 513.0ZM376.9 643.1L403.6 668.0L399.1 672.8L372.8 647.4ZM159.6 440.7L179.4 459.8L178.5 460.6L159.1 441.2ZM198.4 478.2L202.0 481.6L200.8 482.9L197.3 479.4ZM214.6 493.8L224.7 503.5L223.1 505.2L213.2 495.3ZM237.3 515.7L247.4 525.4L245.3 527.5L235.4 517.6ZM373.2 647.0L406.0 678.6L401.3 683.4L369.1 651.2ZM159.5 440.8L163.0 444.3L162.4 444.9L159.0 441.3ZM169.0 450.3L175.8 457.0L174.9 457.8L168.3 451.0ZM197.7 479.0L201.2 482.5L199.9 483.7L196.5 480.1ZM213.6 494.9L220.3 501.6L218.7 503.2L212.1 496.3ZM235.9 517.1L245.8 527.0L243.7 529.1L234.0 519.0ZM372.7 654.0L398.5 679.8L393.8 684.4L368.4 658.2ZM159.4 440.9L169.1 451.0L168.4 451.6L158.9 441.4ZM175.0 457.1L178.5 460.7L177.6 461.5L174.2 457.9ZM184.4 466.8L191.0 473.6L189.9 474.7L183.4 467.7ZM237.5 521.8L241.0 525.4L239.0 527.3L235.6 523.7ZM368.8 657.8L394.2 684.0L389.4 688.6L364.5 661.9ZM159.3 441.0L168.8 451.2L168.1 451.9L158.7 441.5ZM174.6 457.5L178.0 461.1L177.1 461.9L173.8 458.2ZM183.8 467.3L190.3 474.3L189.2 475.3L182.8 468.3ZM196.1 480.5L199.5 484.1L198.2 485.3L194.9 481.6ZM229.9 516.7L233.3 520.3L231.3 522.1L228.0 518.4ZM368.0 664.8L389.8 688.2L384.9 692.7L363.5 668.9ZM159.2 441.1L168.5 451.5L167.8 452.2L158.6 441.6ZM171.2 454.5L174.6 458.2L173.7 459.0L170.4 455.2ZM180.3 464.5L192.6 478.3L191.4 479.3L179.3 465.4ZM198.3 484.6L204.7 491.6L203.2 492.9L197.0 485.7ZM207.4 494.6L213.7 501.7L212.1 503.1L205.9 495.9ZM228.4 518.0L231.8 521.7L229.8 523.5L226.5 519.7ZM366.9 671.8L385.3 692.3L380.4 696.7L362.3 675.9ZM165.0 448.0L168.3 451.8L167.5 452.4L164.3 448.6ZM176.8 461.6L191.9 478.9L190.6 480.0L175.9 462.4ZM200.4 488.8L203.7 492.5L202.2 493.8L199.0 490.0ZM224.0 515.9L233.2 526.5L231.1 528.3L222.1 517.5ZM365.7 678.9L377.9 692.9L372.9 697.2L361.0 683.0ZM161.8 444.8L168.0 452.0L167.2 452.7L161.2 445.3ZM179.2 465.4L188.2 476.2L187.0 477.1L178.2 466.3ZM196.6 486.1L199.8 490.0L198.3 491.1L195.2 487.3ZM222.6 517.1L234.5 531.3L232.3 533.1L220.7 518.7ZM358.5 679.2L376.2 700.2L371.1 704.5L353.8 683.1ZM161.7 444.9L167.7 452.3L166.9 452.9L161.0 445.4ZM173.0 458.9L187.5 476.8L186.3 477.7L172.1 459.6ZM195.7 486.9L201.6 494.3L200.1 495.5L194.3 488.0ZM221.1 518.3L232.8 532.7L230.6 534.5L219.2 519.9ZM354.2 682.7L357.4 686.6L352.5 690.5L349.4 686.6ZM359.9 689.7L377.2 711.1L371.9 715.3L355.0 693.6ZM158.7 441.5L161.8 445.4L161.1 446.0L158.1 442.0ZM164.3 448.6L167.3 452.5L166.5 453.1L163.5 449.2ZM178.1 466.3L189.5 480.9L188.2 481.9L177.1 467.1ZM216.9 516.0L228.3 530.6L226.1 532.2L215.0 517.4ZM355.4 693.3L366.8 707.9L361.5 711.9L350.4 697.1ZM369.3 711.0L372.4 714.9L367.0 719.1L363.9 715.1ZM158.6 441.6L167.0 452.8L166.2 453.4L158.0 442.0ZM169.4 456.0L172.4 460.0L171.5 460.7L168.6 456.6ZM174.9 463.2L188.7 481.5L187.4 482.5L173.9 463.9ZM196.5 491.9L204.9 503.1L203.3 504.3L195.0 493.0ZM215.5 517.1L226.6 531.9L224.4 533.5L213.5 518.5ZM350.9 696.8L370.1 722.3L364.6 726.4L345.8 700.5ZM161.1 445.3L190.5 485.8L189.1 486.8L160.5 445.8ZM195.5 492.7L201.1 500.4L199.5 501.5L194.0 493.7ZM203.5 503.6L206.4 507.6L204.6 508.9L201.8 504.8ZM214.0 518.2L224.9 533.1L222.7 534.7L212.1 519.5ZM346.3 700.2L367.7 729.7L362.1 733.8L341.1 703.9ZM160.9 445.5L163.8 449.6L163.1 450.1L160.3 445.9ZM166.1 452.9L169.0 456.9L168.1 457.6L165.3 453.4ZM171.3 460.2L179.3 471.7L178.2 472.5L170.3 460.9ZM181.6 475.0L187.0 482.8L185.7 483.7L180.4 475.8ZM212.6 519.2L220.6 530.7L218.4 532.2L210.6 520.6ZM344.2 707.2L347.1 711.3L341.7 715.0L338.9 710.8ZM349.4 714.6L367.7 740.8L361.8 744.8L344.0 718.3ZM158.2 441.9L161.0 446.0L160.3 446.5L157.6 442.3ZM163.3 449.3L166.1 453.5L165.2 454.0L162.5 449.8ZM168.3 456.8L171.1 461.0L170.1 461.6L167.4 457.4ZM193.5 494.1L196.3 498.3L194.6 499.3L191.9 495.1ZM206.1 512.8L218.9 531.8L216.7 533.3L204.2 514.0ZM344.5 718.0L362.3 744.5L356.4 748.4L339.0 721.6ZM158.1 442.0L165.7 453.7L164.9 454.3L157.5 442.4ZM167.9 457.1L173.1 465.0L172.1 465.7L167.0 457.6ZM177.7 472.2L182.9 480.1L181.6 481.0L176.6 472.9ZM192.4 494.8L200.1 506.6L198.3 507.7L190.9 495.8ZM202.2 509.9L207.4 517.9L205.4 519.1L200.4 511.1ZM209.6 521.2L217.2 533.0L215.0 534.4L207.6 522.5ZM341.9 725.0L359.4 751.9L353.3 755.7L336.3 728.6ZM158.0 442.1L165.4 453.9L164.6 454.5L157.4 442.4ZM167.5 457.3L170.2 461.6L169.2 462.2L166.6 457.9ZM174.7 468.8L182.1 480.6L180.8 481.5L173.6 469.5ZM191.4 495.5L198.8 507.4L197.0 508.5L189.8 496.5ZM208.1 522.2L213.1 530.3L210.9 531.6L206.0 523.5ZM341.6 735.9L358.6 763.0L352.3 766.9L335.8 739.5ZM157.9 442.1L160.4 446.4L159.7 446.9L157.2 442.5ZM167.1 457.6L169.7 461.9L168.7 462.4L166.2 458.1ZM208.9 527.0L211.4 531.3L209.2 532.6L206.7 528.3ZM343.3 750.7L352.8 766.6L346.5 770.3L337.2 754.3ZM157.7 442.2L169.2 462.1L168.2 462.7L157.1 442.6ZM198.2 512.4L200.7 516.7L198.8 517.8L196.3 513.4ZM209.5 531.9L212.0 536.2L209.7 537.5L207.3 533.1ZM340.0 757.9L347.0 770.0L340.6 773.6L333.8 761.4ZM157.6 442.3L170.9 466.4L169.9 466.9L156.9 442.7ZM172.9 469.9L175.3 474.2L174.1 474.9L171.7 470.5ZM181.6 485.6L184.0 490.0L182.5 490.8L180.2 486.4ZM196.9 513.2L199.3 517.5L197.3 518.6L195.0 514.2ZM332.1 757.2L334.6 761.5L328.3 764.9L326.0 760.5ZM336.5 765.0L345.5 781.2L338.9 784.8L330.2 768.5ZM159.6 446.4L170.4 466.7L169.3 467.2L158.9 446.7ZM172.3 470.2L174.6 474.6L173.4 475.3L171.1 470.8ZM326.5 760.2L339.4 784.5L332.7 788.0L320.2 763.5ZM159.4 446.5L161.7 450.9L160.8 451.3L158.6 446.8ZM163.5 454.5L169.8 467.0L168.7 467.5L162.6 454.9ZM171.6 470.5L173.9 475.0L172.7 475.6L170.5 471.1ZM194.1 514.6L196.4 519.1L194.4 520.1L192.2 515.6ZM322.8 767.2L335.3 791.7L328.5 795.1L316.5 770.4ZM157.2 442.5L163.3 455.1L162.4 455.5L156.5 442.8ZM167.1 462.8L169.3 467.2L168.1 467.8L166.0 463.2ZM315.0 766.1L329.0 794.9L322.2 798.1L308.7 769.1ZM159.0 446.7L161.1 451.2L160.2 451.6L158.2 447.0ZM309.2 768.9L315.1 781.6L308.5 784.6L302.8 771.8ZM162.4 455.0L164.5 459.6L163.5 460.0L161.5 455.4ZM166.1 463.2L168.1 467.8L167.0 468.3L165.0 463.7ZM169.7 471.4L171.8 476.0L170.5 476.6L168.6 472.0ZM162.1 455.2L164.0 459.8L163.0 460.2L161.2 455.5ZM165.6 463.4L167.5 468.0L166.4 468.5L164.5 463.9ZM169.1 471.7L171.1 476.3L169.8 476.9L167.9 472.2ZM161.7 455.3L165.3 464.1L164.2 464.5L160.8 455.7ZM159.7 451.3L164.8 464.3L163.7 464.7L158.9 451.6ZM167.1 472.5L168.9 477.2L167.5 477.7L165.9 473.0ZM166.5 472.8L168.1 477.5L166.8 477.9L165.3 473.2ZM163.0 464.4L164.6 469.2L163.4 469.6L162.0 464.8ZM168.2 486.4L169.6 491.2L168.0 491.6L166.7 486.8ZM171.9 499.4L173.3 504.2L171.5 504.7L170.2 499.8ZM174.4 508.0L177.0 517.1L175.0 517.7L172.5 508.5ZM165.0 477.9L176.7 521.9L174.6 522.4L163.6 478.3ZM177.8 525.8L179.1 530.6L176.8 531.2L175.6 526.3ZM165.3 482.5L174.1 517.9L172.1 518.4L163.9 482.9ZM175.1 521.8L176.3 526.7L174.1 527.2L173.0 522.3ZM163.5 478.3L175.7 531.4L173.4 531.9L162.1 478.6ZM161.8 474.1L174.0 531.8L171.7 532.3L160.5 474.4ZM161.9 478.7L172.3 532.2L170.0 532.6L160.6 478.9ZM160.4 474.4L170.6 532.5L168.3 532.9L159.1 474.6ZM159.7 474.5L168.9 532.8L166.6 533.1L158.4 474.7ZM159.0 474.6L167.2 533.0L164.9 533.3L157.7 474.8ZM158.3 474.7L160.0 488.6L158.5 488.8L157.0 474.9ZM160.5 492.6L165.5 533.3L163.2 533.5L158.9 492.8ZM157.6 474.8L159.5 493.2L157.9 493.4L156.3 474.9ZM160.0 497.2L163.3 529.0L161.1 529.2L158.3 497.3ZM168.9 582.2L169.4 587.2L166.2 587.5L165.7 582.5ZM170.3 595.6L170.8 600.6L167.3 600.9L166.9 596.0ZM156.9 474.9L161.7 529.2L159.4 529.3L155.6 475.0ZM155.6 466.0L155.9 470.9L154.7 471.0L154.4 466.0ZM156.2 474.9L159.1 515.8L157.1 516.0L154.9 475.0ZM159.3 519.8L160.3 533.8L158.0 533.9L157.3 519.9ZM162.8 569.2L163.1 574.2L160.1 574.4L159.9 569.4ZM155.5 475.0L157.7 515.9L155.6 516.0L154.2 475.0ZM157.9 519.9L158.6 533.9L156.3 534.0L155.8 520.0ZM160.5 569.3L160.7 574.3L157.7 574.5L157.5 569.5ZM154.5 466.0L156.4 520.5L154.3 520.5L153.3 466.0ZM156.5 524.5L156.9 534.0L154.5 534.0L154.4 524.5ZM153.5 443.5L153.6 448.5L152.8 448.5L152.8 443.5ZM153.8 457.0L153.9 462.0L152.8 462.0L152.8 457.0ZM154.0 470.5L154.9 520.5L152.8 520.5L152.8 470.5ZM155.0 524.5L155.1 534.0L152.8 534.0L152.8 524.5ZM153.4 443.5L153.4 462.0L152.3 462.0L152.7 443.5ZM153.4 466.0L153.4 516.0L151.4 516.0L152.3 466.0ZM153.4 520.0L153.4 534.0L151.1 534.0L151.3 520.0ZM153.2 448.0L153.1 453.0L152.2 453.0L152.3 448.0ZM153.0 457.0L152.9 462.0L151.8 462.0L152.0 457.0ZM152.9 466.0L152.0 516.0L150.0 516.0L151.7 466.0ZM151.9 520.0L151.6 538.5L149.2 538.5L149.8 520.0ZM152.9 448.0L152.8 453.0L151.8 453.0L152.1 448.0ZM152.6 457.0L152.5 462.0L151.4 462.0L151.6 457.0ZM151.8 479.5L149.8 538.5L147.4 538.4L150.5 479.5ZM152.9 443.5L152.0 462.0L150.9 462.0L152.2 443.5ZM151.8 466.0L148.0 538.4L145.6 538.3L150.6 466.0ZM152.8 443.5L151.8 457.5L150.8 457.4L152.0 443.5ZM151.5 461.5L149.9 484.4L148.5 484.3L150.5 461.4ZM149.3 492.9L147.4 520.4L145.3 520.2L147.7 492.8ZM147.1 524.4L146.8 529.3L144.5 529.2L145.0 524.2ZM152.6 443.5L151.4 457.5L150.4 457.4L151.9 443.5ZM151.1 461.5L149.5 479.9L148.1 479.8L150.0 461.4ZM148.3 492.9L145.9 520.2L143.8 520.0L146.7 492.7ZM145.6 524.2L145.1 529.2L142.9 529.0L143.4 524.0ZM152.5 443.5L150.6 461.9L149.5 461.8L151.7 443.4ZM150.1 465.9L147.7 488.8L146.2 488.6L149.0 465.8ZM147.3 492.8L143.0 533.5L140.7 533.3L145.7 492.6ZM152.3 443.5L150.1 461.9L149.0 461.7L151.6 443.4ZM149.6 465.9L148.4 475.3L147.1 475.1L148.5 465.7ZM145.7 497.1L141.3 533.3L139.0 533.0L144.1 496.9ZM152.2 443.5L147.7 475.2L146.4 475.0L151.4 443.4ZM144.0 501.4L143.3 506.4L141.5 506.1L142.3 501.2ZM142.8 510.3L139.6 533.1L137.3 532.8L140.9 510.1ZM134.0 572.7L133.3 577.7L130.2 577.2L131.0 572.3ZM152.0 443.5L145.6 484.0L144.2 483.7L151.3 443.4ZM142.9 501.3L142.1 506.2L140.3 505.9L141.1 501.0ZM141.5 510.2L137.9 532.9L135.6 532.5L139.6 509.8ZM133.7 559.0L132.9 564.0L130.1 563.5L131.0 558.6ZM151.9 443.5L145.5 479.4L144.2 479.2L151.1 443.3ZM144.8 483.4L144.0 488.3L142.5 488.0L143.4 483.1ZM141.7 501.1L136.2 532.6L133.9 532.2L140.0 500.8ZM132.3 554.3L130.7 563.6L127.9 563.1L129.7 553.8ZM151.7 443.4L145.6 474.9L144.3 474.6L151.0 443.3ZM140.6 500.9L135.3 527.9L133.1 527.4L138.8 500.5ZM130.3 553.9L128.4 563.2L125.6 562.6L127.6 553.3ZM126.0 576.0L125.0 580.9L121.9 580.2L122.9 575.3ZM151.6 443.4L145.9 470.3L144.7 470.1L150.8 443.3ZM145.0 474.2L144.0 479.1L142.6 478.8L143.8 474.0ZM142.2 487.4L141.2 492.3L139.6 492.0L140.7 487.1ZM140.3 496.2L130.9 540.7L128.5 540.2L138.7 495.9ZM128.2 553.5L126.2 562.8L123.4 562.1L125.5 552.9ZM151.4 443.4L148.3 457.0L147.3 456.8L150.7 443.2ZM147.4 460.9L146.3 465.8L145.1 465.5L146.3 460.7ZM144.3 474.1L143.2 479.0L141.9 478.6L143.1 473.8ZM141.3 487.2L140.2 492.1L138.6 491.7L139.8 486.9ZM139.3 496.0L137.1 505.3L135.3 504.8L137.6 495.6ZM136.2 509.2L129.0 540.3L126.6 539.8L134.4 508.7ZM126.1 553.0L124.0 562.3L121.2 561.6L123.5 552.4ZM151.3 443.4L146.8 461.3L145.8 461.0L150.6 443.2ZM145.8 465.2L142.4 478.8L141.1 478.4L144.7 464.9ZM137.1 500.1L134.8 509.3L132.9 508.9L135.4 499.7ZM133.9 513.2L132.6 518.1L130.6 517.5L131.9 512.7ZM131.7 522.0L130.5 526.8L128.3 526.2L129.6 521.4ZM124.1 552.5L121.8 561.7L119.0 561.0L121.4 551.8ZM150.0 447.7L148.7 452.5L147.8 452.3L149.2 447.5ZM143.0 473.8L141.7 478.6L140.3 478.2L141.7 473.4ZM136.0 499.8L133.5 509.0L131.7 508.5L134.3 499.4ZM132.5 512.9L131.2 517.7L129.2 517.1L130.6 512.3ZM130.2 521.6L128.9 526.4L126.7 525.8L128.1 521.0ZM151.0 443.3L147.1 456.8L146.2 456.5L150.3 443.1ZM134.9 499.5L129.8 517.3L127.7 516.7L133.2 499.0ZM124.9 534.1L123.6 538.9L121.2 538.2L122.6 533.5ZM150.8 443.2L149.4 448.0L148.6 447.8L150.1 443.0ZM137.7 486.3L136.2 491.1L134.7 490.6L136.2 485.8ZM133.7 499.2L127.0 521.2L124.9 520.5L132.0 498.7ZM125.8 525.0L120.4 542.7L118.0 541.9L123.7 524.3ZM146.5 456.1L145.0 460.8L143.9 460.5L145.6 455.7ZM136.8 486.0L135.2 490.8L133.7 490.3L135.3 485.5ZM129.8 507.4L128.3 512.2L126.4 511.5L128.0 506.8ZM124.3 524.5L121.3 533.6L119.0 532.8L122.1 523.8ZM135.9 485.7L134.3 490.4L132.7 489.9L134.4 485.2ZM128.6 507.0L126.9 511.7L125.0 511.0L126.7 506.3ZM122.7 524.0L119.6 533.0L117.3 532.2L120.6 523.3ZM133.5 489.6L131.8 494.3L130.2 493.7L131.9 489.1ZM130.4 498.1L128.7 502.8L126.9 502.1L128.7 497.5ZM119.6 527.7L117.9 532.4L115.6 531.6L117.4 526.9ZM139.0 472.5L137.2 477.2L135.9 476.6L137.7 472.0ZM132.5 489.3L130.7 494.0L129.1 493.3L131.0 488.7ZM150.1 443.0L146.5 451.8L145.7 451.5L149.4 442.7ZM138.3 472.2L129.7 493.6L128.1 492.9L137.1 471.7ZM126.5 501.4L117.9 522.8L115.8 521.9L124.8 500.7ZM116.4 526.5L114.5 531.1L112.3 530.2L114.2 525.6ZM150.0 443.0L148.0 447.6L147.2 447.2L149.3 442.7ZM137.6 472.0L128.7 493.1L127.1 492.5L136.5 471.4ZM121.8 509.2L116.4 522.1L114.3 521.2L120.0 508.4ZM135.2 475.8L113.0 525.6L110.9 524.6L133.9 475.2ZM138.3 467.3L136.2 471.9L135.0 471.3L137.2 466.8ZM134.5 475.5L119.0 508.6L117.2 507.7L133.2 474.9ZM117.3 512.2L111.4 524.9L109.3 523.9L115.5 511.3ZM133.8 475.2L131.6 479.6L130.2 479.0L132.5 474.5ZM129.8 483.2L121.7 499.9L120.0 499.0L128.4 482.6ZM119.9 503.5L117.8 508.0L115.9 507.1L118.2 502.6ZM116.0 511.6L113.8 516.0L111.9 515.1L114.1 510.6ZM112.1 519.6L109.9 524.1L107.8 523.1L110.0 518.6ZM137.1 466.8L128.7 483.3L127.4 482.6L136.1 466.2ZM126.9 486.8L108.3 523.4L106.2 522.3L125.5 486.1ZM147.1 446.6L144.8 451.1L144.0 450.6L146.4 446.2ZM138.7 462.5L136.3 466.9L135.3 466.4L137.7 462.0ZM132.4 474.5L104.7 526.5L102.5 525.4L131.1 473.8ZM133.8 470.1L105.2 521.8L103.2 520.6L132.7 469.5ZM133.2 469.8L103.7 520.9L101.7 519.7L132.1 469.1ZM137.3 461.7L102.2 520.0L100.3 518.8L136.3 461.1ZM136.8 461.5L112.7 500.0L111.0 499.0L135.8 460.8ZM110.6 503.4L107.9 507.7L106.1 506.6L108.9 502.4ZM133.9 464.9L111.6 499.3L109.9 498.3L132.9 464.3ZM109.4 502.7L104.2 510.7L102.4 509.5L107.7 501.6ZM102.0 514.0L99.3 518.2L97.4 516.9L100.1 512.8ZM133.4 464.6L130.6 468.8L129.5 468.0L132.4 463.9ZM125.8 475.8L112.9 494.9L111.4 493.8L124.6 475.0ZM110.7 498.2L107.9 502.3L106.3 501.2L109.1 497.1ZM100.6 513.1L97.8 517.2L95.9 515.9L98.8 511.8ZM95.6 520.6L92.8 524.7L90.8 523.3L93.6 519.2ZM148.3 442.1L145.5 446.2L144.8 445.7L147.7 441.7ZM140.6 453.2L137.7 457.3L136.8 456.7L139.8 452.6ZM132.8 464.3L130.0 468.4L128.9 467.6L131.8 463.5ZM125.1 475.3L111.9 494.2L110.4 493.1L123.9 474.5ZM101.9 508.5L91.3 523.6L89.2 522.2L100.1 507.2ZM127.0 471.2L116.2 486.1L114.8 485.1L125.9 470.4ZM113.8 489.4L110.9 493.4L109.4 492.3L112.4 488.3ZM145.4 445.6L139.7 453.1L138.9 452.5L144.7 445.1ZM131.8 463.5L115.3 485.5L113.9 484.5L130.9 462.8ZM112.9 488.7L109.9 492.7L108.4 491.5L111.5 487.6ZM88.5 521.0L85.5 525.0L83.4 523.5L86.5 519.5ZM147.9 441.9L144.9 445.8L144.2 445.3L147.4 441.4ZM125.8 470.2L106.1 495.5L104.6 494.3L124.7 469.4ZM89.8 516.3L86.7 520.3L84.7 518.7L87.9 514.9ZM147.8 441.8L136.2 456.2L135.4 455.5L147.3 441.3ZM133.7 459.3L127.7 466.7L126.7 465.8L132.8 458.5ZM125.2 469.8L105.0 494.6L103.5 493.4L124.1 468.9ZM88.4 515.2L85.2 519.1L83.3 517.5L86.5 513.7ZM147.7 441.7L144.5 445.5L143.9 445.0L147.1 441.2ZM141.9 448.6L138.7 452.4L137.9 451.8L141.2 448.0ZM127.5 465.8L121.4 473.1L120.2 472.1L126.5 465.0ZM118.8 476.2L109.8 486.9L108.4 485.7L117.6 475.2ZM92.7 507.2L89.5 511.0L87.8 509.5L91.0 505.7ZM147.6 441.6L135.5 455.6L134.6 454.8L147.0 441.1ZM124.0 468.8L114.8 479.3L113.6 478.3L122.9 467.9ZM112.2 482.4L108.9 486.1L107.5 484.9L110.9 481.2ZM147.5 441.5L108.0 485.3L106.7 484.1L146.9 441.0ZM93.3 501.7L86.9 508.8L85.2 507.2L91.7 500.2ZM147.3 441.4L110.2 481.3L108.9 480.1L146.8 440.9ZM89.0 503.9L85.6 507.6L83.9 506.0L87.4 502.4ZM147.2 441.3L128.1 461.1L127.3 460.2L146.7 440.8ZM125.4 464.0L121.9 467.6L120.9 466.6L124.4 463.0ZM119.1 470.4L109.4 480.5L108.2 479.3L118.1 469.4ZM147.1 441.2L108.6 479.7L107.4 478.5L146.6 440.7ZM147.0 441.1L114.3 472.7L113.2 471.6L146.5 440.6ZM111.4 475.5L107.8 479.0L106.6 477.7L110.3 474.3ZM98.5 488.0L94.9 491.5L93.5 490.0L97.1 486.6ZM146.9 441.0L113.6 472.0L112.6 470.9L146.4 440.4ZM110.7 474.7L107.0 478.2L105.9 476.9L109.6 473.6ZM104.1 480.9L100.5 484.3L99.2 482.9L102.9 479.6ZM97.5 487.0L93.9 490.4L92.5 488.9L96.2 485.6ZM146.8 440.9L113.0 471.3L112.0 470.2L146.3 440.3ZM146.7 440.8L112.4 470.6L111.3 469.4L146.2 440.2ZM109.3 473.2L105.6 476.5L104.5 475.2L108.3 472.0ZM95.8 485.0L92.0 488.3L90.7 486.8L94.5 483.6ZM146.6 440.6L111.7 469.9L110.8 468.7L146.1 440.1ZM105.2 475.4L101.4 478.6L100.3 477.2L104.1 474.1ZM98.3 481.1L94.5 484.4L93.3 482.9L97.2 479.7ZM91.4 486.9L87.6 490.1L86.3 488.5L90.2 485.4ZM146.5 440.5L114.6 466.3L113.7 465.2L146.0 440.0ZM142.8 443.2L117.6 462.9L116.8 461.8L142.3 442.5ZM146.3 440.3L113.6 465.0L112.7 463.8L145.9 439.7ZM106.8 470.1L102.8 473.1L101.8 471.7L105.8 468.8ZM146.2 440.2L102.1 472.2L101.1 470.8L145.8 439.6ZM95.2 477.2L91.2 480.2L90.1 478.6L94.2 475.7ZM146.1 440.1L101.5 471.3L100.5 469.9L145.7 439.4ZM94.5 476.2L90.4 479.1L89.3 477.5L93.4 474.7ZM142.3 442.5L100.8 470.4L99.9 469.0L141.8 441.8ZM142.2 442.3L138.0 445.0L137.5 444.2L141.7 441.6ZM134.6 447.2L92.7 474.4L91.7 472.8L134.1 446.3ZM145.8 439.7L95.8 471.0L94.9 469.4L145.5 439.1ZM145.8 439.6L141.5 442.1L141.0 441.4L145.4 438.9ZM138.0 444.2L95.2 470.0L94.3 468.4L137.6 443.4ZM145.7 439.4L90.7 471.2L89.8 469.6L145.3 438.8ZM145.6 439.3L90.1 470.1L89.2 468.5L145.2 438.6ZM141.5 441.3L137.1 443.6L136.7 442.8L141.2 440.6ZM133.6 445.5L85.5 471.1L84.6 469.4L133.1 444.6ZM141.4 441.1L84.9 469.9L84.0 468.2L141.1 440.3ZM133.2 444.8L128.7 447.0L128.3 446.0L132.8 443.9ZM125.1 448.8L88.3 466.7L87.5 465.1L124.7 447.7ZM133.1 444.5L128.5 446.6L128.1 445.6L132.7 443.6ZM124.9 448.3L83.7 467.5L82.9 465.7L124.4 447.2ZM132.9 444.1L120.1 449.8L119.6 448.7L132.5 443.2ZM116.5 451.4L83.1 466.3L82.3 464.5L115.9 450.3ZM116.2 450.8L99.1 458.0L98.5 456.5L115.7 449.6ZM95.5 459.6L86.7 463.3L86.0 461.6L94.8 458.0ZM111.7 451.8L102.9 455.4L102.3 454.0L111.2 450.6ZM99.2 456.9L94.6 458.8L93.9 457.2L98.6 455.4ZM115.6 449.5L102.6 454.5L102.0 453.1L115.2 448.3ZM98.8 456.0L90.0 459.4L89.3 457.7L98.3 454.4ZM98.5 455.0L93.8 456.7L93.2 455.1L97.9 453.5ZM90.0 458.1L85.3 459.8L84.7 458.0L89.4 456.4ZM115.1 448.2L106.2 451.3L105.7 449.9L114.7 447.0ZM98.1 454.0L93.4 455.7L92.9 454.1L97.6 452.5ZM89.6 457.0L84.9 458.6L84.3 456.8L89.0 455.3ZM123.5 444.7L114.4 447.7L114.0 446.4L123.1 443.7ZM110.6 448.9L105.9 450.5L105.4 449.1L110.2 447.6ZM97.8 453.1L93.0 454.6L92.5 453.0L97.3 451.5ZM127.6 442.9L101.3 450.9L100.9 449.5L127.3 441.9ZM97.5 452.1L88.4 454.9L87.9 453.2L97.0 450.6ZM114.5 446.2L109.7 447.6L109.3 446.2L114.1 444.9ZM105.8 448.7L101.0 450.0L100.6 448.5L105.5 447.3ZM92.9 452.4L83.7 455.0L83.2 453.2L92.4 450.8ZM105.6 447.8L96.4 450.3L96.0 448.7L105.2 446.4ZM92.6 451.3L83.4 453.8L82.9 452.0L92.1 449.7ZM144.7 437.2L135.5 439.5L135.3 438.6L144.5 436.5ZM131.6 440.5L126.7 441.7L126.5 440.6L131.4 439.5ZM122.9 442.6L118.0 443.9L117.7 442.7L122.6 441.5ZM114.1 444.8L109.3 446.0L108.9 444.7L113.8 443.6ZM105.4 447.0L87.4 451.5L87.0 449.7L105.0 445.6ZM144.6 437.1L135.4 439.2L135.2 438.3L144.5 436.3ZM131.5 440.1L126.6 441.2L126.4 440.2L131.3 439.1ZM122.7 442.1L117.8 443.2L117.6 442.0L122.5 441.0ZM105.2 446.2L87.2 450.3L86.8 448.6L104.9 444.7ZM144.6 436.9L135.3 438.9L135.1 438.0L144.5 436.2ZM131.4 439.7L126.5 440.8L126.3 439.7L131.2 438.8ZM122.6 441.6L113.3 443.6L113.0 442.3L122.4 440.5ZM105.0 445.3L95.7 447.3L95.4 445.7L104.7 443.9ZM144.6 436.8L135.2 438.6L135.1 437.7L144.4 436.0ZM131.3 439.3L126.4 440.3L126.2 439.2L131.1 438.4ZM122.5 441.1L108.7 443.7L108.5 442.4L122.3 439.9ZM104.8 444.5L99.9 445.4L99.6 443.9L104.5 443.1ZM144.5 436.6L121.9 440.6L121.7 439.5L144.4 435.9ZM117.9 441.3L95.3 445.3L95.0 443.7L117.7 440.1ZM91.4 446.0L86.4 446.9L86.1 445.1L91.1 444.3ZM144.5 436.5L126.2 439.4L126.1 438.3L144.4 435.7ZM117.8 440.7L95.1 444.3L94.9 442.7L117.7 439.5ZM135.6 437.6L130.6 438.3L130.5 437.3L135.4 436.7ZM126.7 438.8L121.7 439.5L121.6 438.4L126.5 437.8ZM108.8 441.3L99.4 442.6L99.2 441.1L108.6 440.0ZM95.5 443.2L90.5 443.9L90.3 442.2L95.2 441.6ZM144.4 436.0L126.0 437.9L125.9 436.9L144.4 435.3ZM108.6 439.8L99.2 440.8L99.0 439.2L108.5 438.4ZM90.7 441.7L85.8 442.2L85.6 440.4L90.6 440.0ZM144.4 435.9L130.5 437.1L130.4 436.1L144.4 435.1ZM126.5 437.4L121.5 437.9L121.4 436.7L126.4 436.4ZM117.5 438.2L108.0 439.0L107.9 437.7L117.4 437.0ZM104.1 439.4L99.1 439.8L99.0 438.3L104.0 437.9ZM90.6 440.6L85.6 441.0L85.5 439.2L90.5 438.9ZM144.4 435.7L139.4 436.1L139.4 435.2L144.4 435.0ZM121.9 437.3L112.5 437.9L112.4 436.6L121.9 436.1ZM90.5 439.5L85.5 439.8L85.4 438.0L90.4 437.8ZM117.4 437.0L112.4 437.2L112.4 435.9L117.4 435.7ZM144.4 435.4L134.9 435.7L134.9 434.8L144.4 434.7ZM121.9 436.2L116.9 436.4L116.9 435.1L121.9 435.0ZM103.9 436.8L98.9 437.0L98.9 435.4L103.9 435.4ZM94.9 437.1L85.4 437.5L85.4 435.7L94.9 435.5ZM144.4 435.2L139.4 435.3L139.4 434.5L144.4 434.5ZM126.4 435.6L116.9 435.7L116.9 434.5L126.4 434.5ZM103.9 436.0L98.9 436.0L98.9 434.5L103.9 434.5ZM94.9 436.1L85.4 436.3L85.4 434.5L94.9 434.5ZM90.4 435.1L85.4 435.1L85.4 433.3L90.4 433.4ZM135.4 434.8L130.4 434.7L130.4 433.7L135.4 433.9ZM126.4 434.6L121.4 434.5L121.4 433.4L126.4 433.6ZM94.9 434.1L85.4 433.9L85.4 432.1L94.9 432.5ZM126.4 434.2L121.4 434.0L121.4 432.8L126.4 433.1ZM117.4 433.9L112.4 433.7L112.4 432.4L117.4 432.6ZM108.4 433.5L103.4 433.4L103.4 431.9L108.4 432.2ZM130.9 433.9L107.9 432.7L108.0 431.3L130.9 433.0ZM126.4 433.2L116.9 432.6L117.0 431.3L126.5 432.2ZM112.9 432.3L107.9 431.9L108.0 430.6L113.0 431.0ZM126.4 432.8L117.0 431.9L117.1 430.7L126.5 431.7ZM139.9 433.7L134.9 433.2L135.0 432.3L140.0 432.9ZM126.5 432.3L117.0 431.3L117.2 430.1L126.6 431.2ZM126.5 431.8L117.1 430.7L117.2 429.5L126.7 430.8ZM144.4 433.9L139.4 433.2L139.6 432.3L144.5 433.1ZM135.5 432.6L112.7 429.4L112.9 428.1L135.6 431.7ZM108.7 428.9L103.8 428.2L104.0 426.7L108.9 427.5ZM126.6 430.9L117.3 429.4L117.5 428.2L126.8 429.9ZM113.3 428.8L108.4 428.0L108.6 426.6L113.5 427.5ZM140.0 432.8L135.1 431.9L135.2 431.0L140.2 432.0ZM131.1 431.2L108.5 427.2L108.7 425.9L131.3 430.3ZM131.2 430.8L108.6 426.5L108.9 425.1L131.4 429.9ZM135.7 431.4L108.8 425.7L109.1 424.3L135.9 430.5ZM135.7 431.1L108.9 424.9L109.3 423.6L136.0 430.2ZM140.2 431.9L104.8 423.1L105.1 421.6L140.4 431.1ZM140.2 431.7L109.3 423.4L109.7 422.0L140.4 430.9ZM131.6 429.0L100.9 420.1L101.3 418.7L131.9 428.0ZM88.4 416.6L83.6 415.2L84.1 413.4L88.9 414.9ZM131.7 428.6L92.5 416.6L93.0 415.0L132.0 427.6ZM88.7 415.4L83.9 414.0L84.5 412.2L89.2 413.7ZM140.4 431.0L84.3 412.8L84.9 411.0L140.7 430.2ZM140.5 430.8L84.7 411.6L85.3 409.8L140.8 430.0ZM144.8 432.1L85.1 410.4L85.8 408.6L145.0 431.4ZM128.0 425.5L85.5 409.2L86.2 407.5L128.4 424.5ZM128.2 425.1L86.0 408.0L86.7 406.3L128.6 424.1ZM128.4 424.6L115.5 419.2L116.0 418.0L128.8 423.6ZM103.5 414.1L94.8 410.4L95.4 408.8L104.1 412.7ZM91.1 408.8L86.5 406.8L87.2 405.1L91.8 407.2ZM112.1 416.9L107.5 414.8L108.1 413.5L112.7 415.6ZM103.9 413.2L99.3 411.2L100.0 409.7L104.5 411.8ZM91.5 407.7L82.9 403.9L83.7 402.1L92.3 406.1ZM116.5 418.1L112.0 416.0L112.6 414.7L117.1 416.9ZM104.3 412.4L99.7 410.2L100.4 408.8L104.9 411.0ZM92.0 406.7L83.4 402.6L84.3 400.9L92.8 405.1ZM108.7 413.5L84.0 401.4L84.9 399.7L109.4 412.2ZM109.1 412.7L104.6 410.4L105.3 409.1L109.8 411.4ZM101.1 408.6L96.6 406.4L97.4 404.8L101.8 407.2ZM89.0 402.5L84.6 400.2L85.5 398.5L89.9 400.9ZM101.5 407.7L97.1 405.4L97.9 403.9L102.3 406.3ZM93.6 403.5L85.2 399.0L86.1 397.3L94.4 401.9ZM102.0 406.8L93.7 402.2L94.6 400.7L102.8 405.4ZM90.2 400.3L85.8 397.9L86.8 396.2L91.1 398.7ZM94.7 401.4L90.4 398.9L91.3 397.3L95.6 399.9ZM92.8 396.0L88.6 393.3L89.6 391.6L93.8 394.4ZM145.7 430.2L141.5 427.4L142.0 426.7L146.1 429.5ZM145.8 430.0L141.7 427.2L142.2 426.5L146.2 429.4ZM145.9 429.9L134.5 421.7L135.1 420.9L146.3 429.3ZM145.9 429.8L134.8 421.4L135.4 420.6L146.4 429.2ZM131.6 418.9L127.6 415.9L128.3 415.0L132.2 418.1ZM142.5 426.9L135.0 421.0L135.6 420.2L143.0 426.2ZM128.3 415.8L113.7 404.4L114.6 403.3L129.0 414.9ZM146.1 429.5L114.2 403.7L115.2 402.6L146.6 429.0ZM142.8 426.5L118.2 405.9L119.1 404.9L143.3 425.9ZM142.9 426.3L128.9 414.2L129.7 413.3L143.5 425.7ZM143.1 426.2L139.3 422.8L140.0 422.1L143.6 425.6ZM133.0 417.1L129.3 413.8L130.1 412.9L133.7 416.3ZM143.2 426.0L136.3 419.5L136.9 418.8L143.8 425.4ZM133.7 416.4L130.1 413.0L130.9 412.1L134.4 415.7ZM146.7 428.8L143.2 425.3L143.8 424.7L147.2 428.3ZM134.0 416.1L130.4 412.6L131.3 411.8L134.7 415.4ZM140.6 422.2L137.1 418.6L137.8 418.0L141.2 421.6ZM134.3 415.8L130.8 412.2L131.7 411.4L135.1 415.0ZM98.8 375.0L95.5 371.3L97.1 369.9L100.3 373.7ZM99.9 374.1L96.6 370.3L98.2 368.9L101.4 372.8ZM101.0 373.1L97.8 369.3L99.4 368.0L102.5 371.9ZM95.2 366.2L92.0 362.4L93.7 361.0L96.9 364.9ZM89.4 359.3L86.2 355.5L88.0 354.0L91.2 357.9ZM107.7 379.2L104.6 375.3L106.1 374.1L109.2 378.1ZM102.1 372.2L98.9 368.3L100.5 367.0L103.6 371.0ZM90.7 358.2L87.6 354.4L89.5 352.9L92.5 356.8ZM114.2 385.5L111.2 381.6L112.6 380.5L115.6 384.5ZM108.7 378.4L105.6 374.5L107.2 373.3L110.2 377.3ZM100.4 367.8L94.5 360.3L96.3 358.9L102.0 366.5ZM92.1 357.2L89.0 353.2L90.9 351.8L93.9 355.8ZM115.1 384.9L112.1 380.9L113.5 379.8L116.5 383.9ZM109.7 377.7L106.7 373.7L108.2 372.5L111.2 376.6ZM101.6 366.9L95.8 359.3L97.7 358.0L103.2 365.7ZM93.4 356.1L90.4 352.1L92.4 350.7L95.3 354.7ZM121.3 391.5L118.3 387.4L119.6 386.5L122.5 390.6ZM113.3 380.6L105.1 369.2L106.7 368.1L114.8 379.5ZM102.7 366.0L91.9 351.0L93.8 349.6L104.4 364.8ZM124.6 394.6L116.6 383.2L118.0 382.2L125.8 393.8ZM114.3 379.9L106.3 368.4L107.9 367.3L115.7 378.9ZM104.0 365.1L93.3 350.0L95.3 348.6L105.7 364.0ZM85.9 339.3L83.0 335.2L85.3 333.7L88.1 337.8ZM122.8 390.4L120.0 386.3L121.4 385.4L124.1 389.6ZM117.8 382.9L115.0 378.8L116.5 377.8L119.2 382.0ZM105.2 364.3L102.4 360.1L104.2 358.9L106.9 363.1ZM123.6 389.9L115.9 378.1L117.5 377.2L124.9 389.1ZM106.4 363.5L98.8 351.7L100.8 350.5L108.2 362.3ZM96.6 348.4L93.9 344.2L96.0 342.8L98.6 347.1ZM91.7 340.8L89.0 336.6L91.2 335.2L93.9 339.4ZM131.5 400.8L116.9 377.5L118.5 376.6L132.6 400.1ZM112.4 370.3L109.8 366.1L111.5 365.0L114.1 369.3ZM105.3 358.8L102.6 354.6L104.6 353.4L107.1 357.7ZM98.1 347.4L95.5 343.2L97.6 341.9L100.2 346.1ZM132.1 400.5L117.9 376.9L119.5 376.0L133.2 399.8ZM113.6 369.6L111.0 365.3L112.7 364.3L115.2 368.6ZM106.6 358.0L104.0 353.7L106.0 352.6L108.5 356.9ZM99.7 346.5L97.1 342.2L99.2 340.9L101.7 345.2ZM135.0 404.0L119.0 376.3L120.5 375.4L136.0 403.4ZM117.0 372.8L114.5 368.5L116.2 367.5L118.6 371.9ZM110.2 361.1L103.2 349.0L105.2 347.8L112.0 360.1ZM135.5 403.7L120.0 375.7L121.6 374.8L136.6 403.1ZM118.1 372.2L115.6 367.8L117.3 366.9L119.7 371.3ZM111.5 360.4L98.2 336.3L100.4 335.1L113.3 359.4ZM140.3 411.3L137.9 406.9L139.0 406.4L141.2 410.8ZM131.8 395.4L114.7 363.2L116.5 362.3L133.1 394.8ZM112.8 359.7L106.2 347.3L108.3 346.2L114.7 358.7ZM140.7 411.1L138.4 406.6L139.5 406.1L141.6 410.6ZM136.6 403.1L134.3 398.6L135.5 398.0L137.7 402.5ZM132.5 395.1L126.2 382.6L127.6 381.9L133.8 394.4ZM122.3 375.0L115.9 362.5L117.8 361.6L123.9 374.2ZM114.1 359.0L109.8 350.5L111.8 349.5L116.0 358.0ZM145.1 419.0L142.9 414.5L143.8 414.1L145.9 418.6ZM141.1 410.9L138.9 406.4L140.0 405.9L142.1 410.4ZM137.2 402.8L133.0 394.3L134.3 393.7L138.3 402.3ZM131.2 390.7L123.1 374.0L124.7 373.3L132.6 390.0ZM119.4 366.4L111.3 349.8L113.3 348.8L121.1 365.6ZM149.1 427.0L135.6 398.0L136.8 397.5L149.8 426.7ZM132.0 390.3L129.9 385.8L131.3 385.1L133.3 389.7ZM128.2 382.1L124.2 373.5L125.8 372.8L129.7 381.5ZM120.6 365.8L118.5 361.3L120.3 360.5L122.4 365.0ZM114.9 353.6L112.8 349.1L114.8 348.1L116.9 352.7ZM111.1 345.4L109.0 340.9L111.2 339.9L113.2 344.5ZM97.8 316.9L95.7 312.3L98.4 311.1L100.4 315.7ZM143.8 414.6L139.9 405.9L141.0 405.5L144.7 414.2ZM138.3 402.3L136.3 397.7L137.5 397.2L139.4 401.8ZM149.4 426.9L147.4 422.3L148.2 421.9L150.1 426.6ZM145.9 418.6L133.4 389.1L134.7 388.6L146.7 418.2ZM131.8 385.4L128.1 376.7L129.7 376.0L133.2 384.9ZM149.6 426.8L135.9 393.0L137.2 392.4L150.2 426.5ZM149.7 426.7L136.6 392.7L137.9 392.2L150.4 426.5ZM107.8 317.5L106.0 312.8L108.7 311.8L110.4 316.5ZM148.3 422.5L138.9 396.6L140.1 396.2L149.1 422.2ZM150.0 426.6L136.6 387.9L138.0 387.4L150.7 426.4ZM150.1 426.6L148.6 421.8L149.4 421.6L150.8 426.4ZM147.3 418.0L137.4 387.6L138.8 387.1L148.2 417.7ZM150.3 426.5L138.3 387.3L139.7 386.9L151.0 426.3ZM150.4 426.5L141.6 395.7L142.8 395.4L151.1 426.3ZM150.6 426.4L142.3 395.5L143.5 395.2L151.3 426.2ZM140.1 387.3L138.8 382.5L140.3 382.1L141.5 386.9ZM124.9 330.8L122.5 321.6L125.0 321.0L127.3 330.2ZM150.7 426.4L141.9 391.0L143.2 390.6L151.4 426.2ZM127.8 334.7L126.6 329.8L129.0 329.3L130.2 334.1ZM150.8 426.3L140.6 382.0L142.1 381.7L151.6 426.2ZM139.7 378.1L138.6 373.2L140.2 372.9L141.3 377.8ZM130.6 338.6L124.4 311.9L127.1 311.2L132.9 338.1ZM150.1 421.9L141.5 381.8L143.0 381.5L150.9 421.7ZM132.3 338.3L127.5 315.8L130.2 315.2L134.6 337.8ZM151.1 426.3L142.5 381.6L144.0 381.3L151.9 426.1ZM134.8 342.3L129.6 315.3L132.3 314.8L137.0 341.9ZM150.5 421.8L143.4 381.4L144.9 381.2L151.3 421.7ZM142.7 377.5L141.0 368.1L142.8 367.8L144.3 377.2ZM134.9 333.2L131.7 315.0L134.4 314.5L137.2 332.8ZM151.4 426.2L144.3 381.3L145.8 381.0L152.2 426.1ZM143.7 377.3L142.9 372.4L144.6 372.1L145.3 377.1ZM136.7 332.9L133.8 314.6L136.5 314.2L139.0 332.5ZM151.6 426.2L143.4 367.8L145.1 367.5L152.3 426.1ZM138.4 332.6L135.9 314.3L138.6 313.9L140.8 332.3ZM134.7 305.9L134.0 300.9L136.9 300.5L137.5 305.5ZM151.7 426.2L144.5 367.6L146.3 367.4L152.5 426.1ZM140.2 332.4L138.0 314.0L140.7 313.7L142.6 332.1ZM136.9 305.6L136.3 300.6L139.3 300.3L139.8 305.2ZM151.0 417.2L148.1 389.8L149.5 389.7L151.8 417.1ZM147.7 385.9L145.7 367.5L147.5 367.3L149.1 385.7ZM142.0 332.1L140.1 313.7L142.8 313.5L144.4 331.9ZM137.3 287.4L136.8 282.4L140.0 282.1L140.5 287.1ZM152.0 426.1L151.6 421.1L152.4 421.1L152.8 426.1ZM151.3 417.1L146.5 362.9L148.4 362.7L152.2 417.1ZM143.4 327.5L142.2 313.5L144.9 313.3L145.9 327.3ZM141.4 305.1L140.6 295.6L143.7 295.4L144.3 304.8ZM151.9 421.6L148.4 371.7L150.1 371.6L152.7 421.6ZM148.1 367.7L147.8 362.7L149.6 362.6L149.9 367.6ZM145.3 327.3L144.3 313.4L147.0 313.2L147.8 327.2ZM143.7 304.9L143.4 299.9L146.3 299.7L146.6 304.7ZM152.1 421.6L151.6 412.1L152.6 412.1L152.9 421.6ZM151.4 408.1L151.1 403.1L152.3 403.1L152.5 408.1ZM150.0 381.1L149.3 367.2L151.0 367.1L151.5 381.1ZM147.2 327.2L146.4 313.2L149.2 313.1L149.6 327.1ZM152.3 421.6L152.2 416.6L153.1 416.6L153.2 421.6ZM151.6 399.1L151.2 389.6L152.6 389.6L152.8 399.1ZM150.9 381.1L150.1 358.1L152.1 358.1L152.5 381.1ZM149.2 331.6L148.7 317.6L151.4 317.6L151.6 331.6ZM152.6 421.6L152.5 416.6L153.4 416.6L153.4 421.6ZM151.9 381.1L151.5 358.1L153.4 358.1L153.4 381.1ZM151.0 331.6L150.8 317.6L153.4 317.6L153.4 331.6Z"/>
<path fill="#886A78" d="M491.6 482.1L509.9 484.6L508.9 491.5L490.6 488.6ZM486.2 487.3L509.0 490.9L507.8 497.7L485.2 493.7ZM467.6 489.9L507.9 497.1L506.7 503.8L466.4 496.0ZM484.2 498.9L489.1 499.8L487.8 506.3L482.9 505.2ZM496.2 507.4L505.5 509.4L504.0 516.1L494.8 514.0ZM486.2 511.4L491.0 512.5L489.5 519.0L484.6 517.8ZM499.3 514.4L504.2 515.5L502.6 522.2L497.7 521.0ZM469.7 537.3L474.4 538.9L472.4 545.0L467.6 543.4ZM470.1 549.9L479.0 553.1L476.7 559.3L467.8 555.9ZM447.1 547.3L451.7 549.1L449.5 554.9L444.8 553.0ZM455.5 550.5L460.1 552.3L457.8 558.2L453.2 556.4ZM463.9 553.8L485.3 562.0L482.8 568.3L461.5 559.7ZM440.9 550.7L462.2 559.4L459.7 565.3L438.6 556.3ZM465.9 560.9L483.1 567.8L480.5 574.1L463.4 566.8ZM438.8 555.7L480.7 573.5L478.0 579.8L436.4 561.3ZM428.4 557.1L478.2 579.2L475.4 585.4L426.0 562.4ZM426.3 561.8L479.7 586.8L476.8 593.0L423.7 567.1ZM424.0 566.6L477.0 592.5L473.9 598.6L421.4 571.8ZM413.6 567.2L418.1 569.5L415.4 574.6L411.0 572.3ZM421.7 571.3L474.2 598.1L471.0 604.2L418.9 576.5ZM431.1 582.3L471.3 603.7L468.0 609.7L428.2 587.7ZM432.5 589.3L476.2 613.6L472.7 619.7L429.4 594.7ZM437.5 598.7L473.0 619.2L469.5 625.2L434.3 604.1ZM438.5 605.9L473.6 627.0L469.9 633.1L435.1 611.4ZM435.4 610.9L470.2 632.6L466.4 638.6L432.0 616.3ZM428.6 613.3L432.8 616.0L429.2 621.4L425.1 618.6ZM436.1 618.2L459.2 633.2L455.3 639.0L432.5 623.6ZM462.5 635.4L466.7 638.1L462.8 644.0L458.6 641.3ZM425.4 618.1L463.1 643.5L459.1 649.4L421.8 623.3ZM425.8 625.4L452.1 643.8L448.0 649.4L422.1 630.6ZM426.1 632.8L455.6 654.2L451.4 660.0L422.3 638.0ZM415.4 632.1L455.4 662.2L451.0 667.9L411.6 637.1ZM415.5 639.4L454.9 670.2L450.4 675.9L411.5 644.4ZM458.0 672.7L462.0 675.7L457.4 681.6L453.5 678.4ZM411.9 644.0L461.2 683.9L456.5 689.7L407.8 648.9ZM411.6 651.4L453.4 686.4L448.6 692.0L407.4 656.3ZM411.2 658.8L449.0 691.6L444.0 697.2L406.9 663.7ZM407.3 663.3L447.8 699.7L442.7 705.3L402.8 668.1ZM403.2 667.7L433.2 695.6L428.2 700.9L398.7 672.4ZM405.6 678.2L435.1 706.7L429.9 712.0L400.9 683.0ZM398.1 679.4L430.3 711.6L425.0 716.8L393.4 684.1ZM393.8 683.7L419.2 709.9L413.9 714.9L389.0 688.2ZM422.0 712.8L425.4 716.4L420.1 721.5L416.6 717.9ZM389.5 687.8L420.5 721.1L415.0 726.1L384.6 692.3ZM385.0 691.9L415.5 725.7L409.9 730.7L380.0 696.3ZM377.5 692.5L407.4 726.9L401.8 731.6L372.5 696.8ZM410.0 729.9L413.3 733.7L407.6 738.5L404.4 734.7ZM375.9 699.9L402.2 731.3L396.6 735.9L370.8 704.1ZM376.9 710.7L402.7 742.6L396.8 747.2L371.6 714.9ZM366.5 707.5L369.6 711.4L364.2 715.5L361.2 711.5ZM372.0 714.6L402.8 754.0L396.7 758.6L366.7 718.7ZM369.8 721.9L399.9 761.9L393.7 766.5L364.3 726.0ZM367.4 729.3L399.5 773.4L393.0 778.0L361.8 733.3ZM367.4 740.4L393.5 777.6L387.0 782.1L361.6 744.4ZM362.1 744.1L392.5 789.3L385.8 793.7L356.1 748.0ZM359.1 751.4L388.8 797.2L381.9 801.5L353.0 755.3ZM358.3 762.6L384.8 805.0L377.8 809.3L352.0 766.5ZM386.9 808.4L389.6 812.7L382.4 817.0L379.8 812.8ZM352.5 766.2L378.3 809.0L371.2 813.2L346.2 769.9ZM346.7 769.6L367.2 805.1L360.2 809.1L340.3 773.2ZM345.2 780.8L360.7 808.8L353.7 812.6L338.6 784.4ZM339.2 784.1L347.8 800.4L340.9 804.0L332.5 787.6ZM349.7 804.0L354.2 812.3L347.0 816.1L342.7 807.6ZM335.1 791.3L339.4 799.8L332.5 803.2L328.3 794.7ZM343.2 807.3L345.5 811.8L338.4 815.3L336.2 810.9ZM194.5 1022.6L194.9 1027.6L183.9 1028.3L183.6 1023.3ZM184.5 1027.7L184.7 1032.7L173.7 1033.2L173.5 1028.2ZM174.0 1023.7L174.1 1028.7L163.2 1029.0L163.1 1024.0Z"/>
<path fill="#88586A" d="M518.3 485.8L545.5 489.7L544.4 497.1L517.3 492.8ZM508.5 490.8L517.9 492.3L516.7 499.2L507.3 497.6ZM521.8 492.9L540.1 495.8L538.8 503.1L520.6 499.9ZM507.4 497.0L530.1 501.0L528.8 508.1L506.2 503.7ZM534.0 501.7L539.0 502.5L537.6 509.8L532.7 508.9ZM515.1 504.9L533.3 508.4L531.8 515.6L513.7 511.8ZM505.1 509.3L509.9 510.3L508.4 517.1L503.6 516.0ZM489.1 518.3L494.0 519.5L492.3 526.0L487.5 524.7ZM511.0 523.7L515.8 524.9L514.0 531.8L509.2 530.5ZM483.3 523.0L488.1 524.3L486.3 530.7L481.5 529.3ZM500.7 527.6L509.8 530.1L508.0 536.9L498.8 534.2ZM513.7 531.1L518.5 532.4L516.6 539.3L511.8 538.0ZM506.1 556.0L515.1 559.1L512.7 566.0L503.7 562.7ZM491.3 557.6L504.4 562.3L501.9 569.0L488.8 564.0ZM512.4 565.3L517.1 567.0L514.5 573.9L509.9 572.1ZM489.1 563.4L523.1 576.5L520.4 583.5L486.5 569.8ZM482.6 567.6L503.9 576.2L501.2 582.9L480.0 573.9ZM507.6 577.7L524.8 584.6L521.9 591.7L504.8 584.4ZM480.2 573.3L518.0 589.4L515.0 596.2L477.5 579.6ZM477.8 579.0L519.3 597.5L516.2 604.4L474.9 585.2ZM479.3 586.6L516.4 603.9L513.2 610.7L476.3 592.8ZM476.6 592.2L513.4 610.2L510.0 617.0L473.5 598.4ZM473.8 597.9L514.3 618.5L510.8 625.3L470.6 604.0ZM470.9 603.4L511.1 624.8L507.4 631.5L467.6 609.5ZM475.8 613.3L523.4 639.7L519.5 646.7L472.3 619.4ZM472.6 618.9L512.0 641.7L508.0 648.4L469.0 625.0ZM473.2 626.8L512.2 650.2L508.1 657.0L469.5 632.8ZM515.6 652.3L523.8 657.2L519.5 664.1L511.5 659.1ZM558.1 677.8L562.3 680.3L557.7 688.0L553.4 685.3ZM469.8 632.3L512.2 658.8L507.9 665.6L466.0 638.3ZM458.7 632.9L462.9 635.7L459.1 641.5L454.9 638.7ZM466.3 637.8L512.0 667.5L507.6 674.2L462.4 643.8ZM462.7 643.3L504.2 671.2L499.6 677.8L458.7 649.1ZM451.6 643.5L496.3 674.7L491.7 681.2L447.6 649.1ZM455.2 653.9L492.1 680.7L487.3 687.0L451.0 659.7ZM455.0 661.9L498.5 694.7L493.5 701.2L450.6 667.6ZM501.7 697.1L505.7 700.1L500.6 706.7L496.7 703.6ZM508.9 702.5L512.9 705.5L507.7 712.2L503.8 709.2ZM454.5 669.9L458.4 673.0L453.9 678.7L450.0 675.6ZM461.6 675.4L501.0 706.2L495.8 712.7L457.0 681.3ZM460.8 683.6L499.7 715.1L494.4 721.6L456.1 689.4ZM453.0 686.1L491.3 718.2L485.9 724.5L448.2 691.7ZM448.6 691.3L482.9 721.1L477.5 727.3L443.7 696.8ZM447.4 699.4L474.5 723.8L469.0 729.8L442.3 704.9ZM432.9 695.3L469.4 729.4L463.8 735.3L427.9 700.5ZM434.7 706.4L464.2 734.9L458.5 740.7L429.5 711.7ZM430.0 711.2L462.1 743.4L456.3 749.2L424.7 716.4ZM418.8 709.6L422.3 713.2L417.0 718.2L413.6 714.6ZM425.1 716.0L456.7 748.8L450.7 754.4L419.7 721.1ZM420.2 720.7L448.1 750.7L442.1 756.2L414.7 725.8ZM415.1 725.4L445.6 759.2L439.4 764.6L409.6 730.3ZM407.1 726.5L410.3 730.3L404.7 735.1L401.5 731.3ZM413.0 733.3L451.7 777.8L445.2 783.4L407.3 738.2ZM401.9 730.9L445.6 783.0L439.1 788.4L396.3 735.5ZM402.4 742.2L439.5 788.0L432.8 793.3L396.5 746.8ZM442.0 791.1L445.2 795.0L438.4 800.4L435.3 796.5ZM402.5 753.6L441.6 803.6L434.7 808.9L396.4 758.2ZM399.6 761.5L432.4 805.0L425.4 810.2L393.4 766.1ZM399.2 773.0L425.9 809.8L418.9 814.9L392.8 777.6ZM393.2 777.2L419.3 814.5L412.2 819.4L386.7 781.7ZM394.8 792.6L407.6 811.6L400.5 816.3L388.0 797.1ZM388.5 796.7L393.7 804.7L386.7 809.2L381.6 801.1ZM403.2 819.4L405.9 823.6L398.6 828.2L395.9 824.0ZM384.5 804.6L387.2 808.8L380.1 813.2L377.5 808.9ZM389.3 812.2L392.0 816.5L384.7 820.9L382.2 816.6ZM394.1 819.9L396.7 824.1L389.4 828.6L386.8 824.3ZM163.3 1001.5L163.4 1006.5L152.8 1006.5L152.8 1001.5Z"/>
<path fill="#88444E" d="M277.6 417.0L282.5 416.3L282.9 419.2L277.9 419.8ZM517.5 589.2L526.3 592.9L523.2 599.9L514.5 596.0ZM518.9 597.3L523.4 599.4L520.3 606.3L515.7 604.2ZM516.0 603.7L536.8 613.4L533.4 620.6L512.7 610.5ZM517.0 612.0L525.6 616.1L522.1 623.1L513.6 618.8ZM513.9 618.3L534.4 628.7L530.6 635.9L510.3 625.1ZM510.6 624.6L519.0 629.0L515.3 635.9L507.0 631.3ZM522.5 630.9L530.9 635.4L527.1 642.4L518.8 637.8ZM523.0 639.5L527.4 641.9L523.4 648.9L519.1 646.4ZM515.5 643.7L543.2 659.7L538.9 667.0L511.5 650.5ZM511.8 650.0L516.1 652.5L511.9 659.3L507.6 656.7ZM523.3 656.9L546.9 671.1L542.4 678.4L519.1 663.8ZM511.8 658.6L546.5 680.3L541.9 687.6L507.5 665.3ZM511.6 667.2L534.6 682.2L529.9 689.3L507.1 674.0ZM503.7 671.0L537.7 693.9L532.8 701.0L499.2 677.5ZM495.9 674.5L529.5 698.0L524.5 705.0L491.3 680.9ZM532.7 700.3L536.8 703.1L531.7 710.3L527.7 707.3ZM491.6 680.4L535.7 712.4L530.5 719.5L486.9 686.7ZM498.1 694.4L502.1 697.4L497.1 703.9L493.1 700.8ZM505.3 699.8L509.3 702.8L504.2 709.5L500.2 706.4ZM512.5 705.2L527.2 716.4L521.9 723.3L507.3 711.9ZM500.6 705.9L518.7 720.1L513.3 726.9L495.4 712.4ZM521.9 722.5L529.4 728.4L523.8 735.4L516.4 729.4ZM499.3 714.8L538.2 746.2L532.3 753.4L494.0 721.2ZM490.9 717.9L529.2 750.0L523.3 757.0L485.5 724.2ZM532.3 752.6L543.0 761.6L536.9 768.8L526.3 759.6ZM482.5 720.8L523.7 756.5L517.6 763.4L477.1 726.9ZM526.7 759.2L533.9 765.4L527.6 772.4L520.6 766.1ZM474.2 723.5L524.7 769.0L518.4 775.8L468.7 729.5ZM469.1 729.0L508.9 766.2L502.7 772.8L463.5 734.9ZM463.9 734.5L499.9 769.2L493.5 775.7L458.2 740.3ZM461.8 743.1L494.0 775.2L487.5 781.6L455.9 748.8ZM456.4 748.4L488.0 781.1L481.4 787.3L450.4 754.1ZM447.8 750.4L481.9 786.9L475.2 793.0L441.8 755.9ZM445.2 758.8L472.7 789.3L466.0 795.2L439.1 764.2ZM451.3 777.4L463.5 791.4L456.7 797.1L444.9 783.0ZM466.1 794.4L469.4 798.2L462.5 804.0L459.3 800.2ZM445.3 782.6L460.1 800.2L453.2 805.9L438.7 788.0ZM444.9 794.6L453.7 805.5L446.7 811.1L438.1 800.0ZM441.3 803.2L444.4 807.1L437.4 812.5L434.4 808.5ZM253.4 1001.8L255.8 1015.5L245.1 1017.3L242.9 1003.5Z"/>
<path fill="#720000" d="M481.8 486.6L486.7 487.3L485.7 493.7L480.7 492.9ZM557.4 498.5L562.3 499.3L561.0 507.0L556.1 506.2ZM542.9 503.2L556.7 505.7L555.3 513.3L541.5 510.6ZM565.0 507.1L570.0 508.0L568.5 515.9L563.6 514.9ZM587.2 511.0L592.1 511.9L590.6 520.1L585.7 519.2ZM537.2 509.2L542.1 510.1L540.6 517.5L535.7 516.4ZM546.1 510.9L559.8 513.5L558.2 521.2L544.5 518.3ZM540.3 516.8L558.4 520.6L556.7 528.3L538.6 524.1ZM575.5 524.3L580.4 525.3L578.6 533.3L573.7 532.2ZM545.9 532.4L550.8 533.6L548.8 541.1L544.0 539.8ZM563.4 536.8L568.2 538.0L566.2 545.8L561.4 544.5ZM522.4 533.4L527.2 534.7L525.3 541.8L520.5 540.5ZM535.4 536.9L544.6 539.4L542.6 546.8L533.4 544.2ZM533.6 543.6L551.4 548.7L549.2 556.2L531.5 550.8ZM540.3 552.9L553.6 556.9L551.3 564.5L537.9 560.2ZM526.9 578.0L531.5 579.7L528.7 586.9L524.1 585.0ZM528.8 749.7L532.7 752.9L526.7 759.9L522.9 756.7ZM523.3 756.2L527.1 759.5L520.9 766.4L517.2 763.1ZM508.6 765.9L518.8 775.4L512.4 782.2L502.3 772.4ZM521.7 778.1L525.4 781.5L518.9 788.4L515.3 784.9ZM499.5 768.9L512.8 781.7L506.3 788.4L493.2 775.3ZM515.7 784.5L519.3 788.0L512.6 794.8L509.1 791.2ZM493.6 774.9L497.1 778.4L490.7 784.8L487.2 781.2ZM500.0 781.2L503.5 784.8L496.9 791.3L493.4 787.7ZM506.3 787.6L513.1 794.3L506.3 801.0L499.7 794.1ZM487.6 780.8L503.6 797.3L496.8 803.8L481.1 787.0ZM481.5 786.6L488.0 793.5L481.3 799.7L474.9 792.6ZM490.7 796.4L494.1 800.1L487.3 806.4L483.9 802.7ZM484.4 802.3L487.7 806.0L480.7 812.2L477.5 808.4ZM293.2 780.8L295.1 785.4L288.4 788.0L286.6 783.4ZM140.0 436.9L135.1 437.6L135.0 436.7L139.9 436.1Z"/>
<path fill="#960006" d="M196.6 123.1L197.3 118.1L203.4 119.0L202.6 124.0ZM325.9 284.2L333.1 277.9L336.2 281.6L328.9 287.7ZM254.7 360.6L258.7 357.7L260.4 360.1L256.3 362.9ZM230.2 398.5L234.8 396.4L235.7 398.4L231.1 400.4ZM371.2 465.2L376.2 465.9L375.5 470.3L370.6 469.6ZM93.5 454.5L88.8 456.0L88.2 454.3L93.0 452.9Z"/>
<path fill="#d0000c" d="M209.5 307.5L211.5 302.9L214.3 304.2L212.2 308.7ZM251.0 363.3L255.1 360.3L256.7 362.6L252.6 365.5ZM221.4 391.8L225.7 389.1L226.8 390.9L222.5 393.5ZM266.0 379.4L270.5 377.2L271.7 379.8L267.2 381.9ZM276.9 412.7L281.8 411.8L282.3 414.6L277.3 415.4ZM196.4 446.1L201.2 447.4L200.8 448.8L196.0 447.4ZM170.7 495.0L172.1 499.8L170.3 500.3L169.1 495.5ZM159.5 492.7L160.0 497.7L158.3 497.8L157.9 492.9Z"/>
<path fill="#b4000c" d="M635.2 375.3L640.2 374.7L641.2 383.8L636.2 384.3Z"/>
<path fill="#10d818" d="M478.6 503.7L483.5 504.7L482.1 511.1L477.3 509.9ZM274.1 469.2L278.9 470.6L278.0 473.3L273.3 471.9ZM277.1 474.8L281.8 476.3L280.9 479.1L276.2 477.5ZM298.0 496.0L302.6 497.9L301.2 501.1L296.6 499.0ZM296.9 498.5L305.6 502.3L304.1 505.5L295.5 501.5ZM291.7 499.1L296.2 501.2L294.8 504.2L290.3 502.0ZM169.4 490.7L170.8 495.5L169.2 496.0L167.9 491.1ZM159.9 488.1L160.6 493.1L158.9 493.3L158.4 488.3ZM99.6 457.8L95.0 459.8L94.3 458.2L99.0 456.3Z"/>
<path fill="#08a008" d="M477.4 509.4L482.3 510.5L480.7 516.8L475.9 515.6ZM316.8 785.2L318.9 789.7L312.2 792.8L310.1 788.2Z"/>
<path fill="#087808" d="M640.7 485.7L645.7 486.3L644.6 495.5L639.7 494.8Z"/>
<path fill="#fc6898" d="M531.1 579.6L535.7 581.4L532.9 588.6L528.3 586.7Z"/>
<path fill="#fcd48c" d="M194.9 287.9L197.5 278.8L200.8 279.7L198.0 288.8Z"/>
</g>
<g stroke="#808080" stroke-width="0.9" stroke-dasharray="2.9,0.78" stroke-opacity="0.34" fill="none">
<path d="M215.5 45.5V1046.5"/>
<path d="M345.5 45.5V1046.5"/>
<path d="M474.5 45.5V1046.5"/>
<path d="M604.5 45.5V1046.5"/>
<path d="M733.5 45.5V1046.5"/>
<path d="M863.5 45.5V1046.5"/>
<path d="M85.5 96.5H992.5"/>
<path d="M85.5 247.5H992.5"/>
<path d="M85.5 398.5H992.5"/>
<path d="M85.5 549.5H992.5"/>
<path d="M85.5 698.5H992.5"/>
<path d="M85.5 848.5H992.5"/>
<path d="M85.5 997.5H992.5"/>
</g>
<g clip-path="url(#blobclip)" fill="none" stroke-linejoin="round" stroke-linecap="round" stroke="#d8d8d8" stroke-opacity="0.33" stroke-width="1.6">
<path d="M372.4 356.1 L379.9 356.1 L386.2 352.4 L389.9 350.4 L393.7 352.9 L399.9 351.9 L407.4 349.9 L413.7 347.4 L418.7 341.1 L421.2 332.4 L422.4 326.2 L420.4 321.2 L423.7 316.9 L428.7 321.2 L432.4 322.4 L439.9 318.7 L444.9 313.7 L449.4 311.2 L453.6 312.4 L459.9 319.9 L462.4 324.9 L463.6 331.2 L469.9 334.9 L474.9 336.9 L482.4 339.9 L488.6 344.9 L493.6 346.1 L499.9 343.6 L506.1 342.4 L511.1 344.9 L512.3 351.1 L508.6 356.1 L501.1 359.9 L496.1 363.6 L493.1 369.9 L493.6 377.4 L497.4 384.9 L499.9 392.4 L501.1 399.9 L502.3 407.3 L501.1 414.8 L497.4 422.3 L493.6 428.6 L489.9 433.6 L486.1 439.8 L483.6 448.6 L483.6 454.8 L481.9 459.8"/>
<path d="M501.1 401.1 L506.1 398.6 L507.3 393.6 L514.8 391.9 L519.8 382.4 L524.8 372.4 L529.8 366.1 L534.8 361.1 L539.8 364.9 L546.1 363.6 L551.1 366.1 L554.8 372.4 L561.1 374.9 L568.5 372.4 L574.8 371.1 L576.0 384.9 L579.8 386.1 L579.8 393.6 L589.8 393.6"/>
<path d="M540.3 364.9 L539.8 374.9 L538.6 384.9 L536.1 394.9 L534.3 402.3 L536.1 411.1 L539.8 419.8 L544.8 427.3 L546.1 433.6 L551.1 437.3 L557.3 442.3 L561.1 447.3"/>
<path d="M376.2 459.8 L381.2 453.6 L388.7 459.8"/>
<path d="M560.0 445.4 L565.0 449.4 L572.5 452.4 L578.7 457.4 L585.0 464.9 L590.0 472.4 L594.5 476.1 L598.7 471.1 L603.7 464.9 L611.2 459.9 L620.0 457.9 L628.7 458.7 L627.9 452.4"/>
<path d="M560.0 523.6 L570.0 522.4 L578.7 524.9 L585.0 527.4 L588.7 524.9 L595.0 522.9 L597.5 526.1 L598.0 532.3 L602.5 539.8 L606.2 546.1 L610.0 549.8 L618.7 551.1 L625.5 553.6 L627.9 557.3 L628.7 563.6 L632.4 567.3 L639.9 569.8 L646.2 573.6 L649.9 579.8 L652.4 587.3 L654.4 594.8 L653.7 599.8"/>
<path d="M631.2 563.6 L634.9 554.8 L639.9 546.1 L646.2 538.6 L649.4 531.1 L646.2 523.6 L643.7 519.9 L647.4 513.6 L650.4 506.1 L653.7 502.4 L662.4 501.9 L671.2 502.9 L676.2 501.1 L677.9 496.9 L679.4 502.4 L675.4 506.1 L676.2 511.9 L683.7 511.9"/>
<path d="M721.9 599.8 L726.1 597.8 L732.4 598.5 L734.9 599.8"/>
<path d="M336.2 470.0 L345.0 475.0 L354.9 478.7 L362.4 477.5 L367.4 473.7 L372.4 465.0 L376.2 460.0"/>
<path d="M388.7 460.0 L393.7 468.7 L398.7 475.0 L403.7 476.2 L407.4 472.5 L409.4 463.7 L411.4 460.0 L412.4 461.2 L414.9 470.0 L418.6 478.7 L424.9 482.5 L429.9 477.5 L436.1 475.0 L442.4 480.0 L452.4 483.7 L459.9 490.0 L464.9 496.2 L459.9 498.7 L456.1 503.7 L454.9 517.5 L453.6 526.2 L458.6 529.9 L467.4 528.7 L477.4 523.7 L484.8 521.2 L492.3 518.7 L497.3 520.0 L502.3 522.5 L508.6 518.7 L514.8 518.0 L522.3 521.2 L529.8 525.5 L534.8 531.2 L539.8 534.9 L547.8 530.4 L556.0 524.2 L560.0 523.5"/>
<path d="M464.9 496.2 L467.4 487.5 L468.6 477.5 L471.1 471.2 L478.6 467.5 L482.8 460.0"/>
<path d="M488.6 520.0 L492.3 528.7 L492.8 534.9 L488.6 539.9 L482.8 546.2 L481.1 552.4 L478.6 558.7 L469.9 559.9 L467.4 567.4 L466.1 574.9 L462.4 582.4 L461.1 589.9 L466.1 597.4 L469.9 604.9 L472.4 614.9 L471.1 624.9 L472.4 634.9 L474.9 644.9 L477.4 652.4 L487.3 653.6 L497.3 656.1 L504.8 654.9 L512.3 651.1 L519.8 651.1 L529.8 654.9 L539.8 657.4 L549.8 656.1 L557.3 658.6 L564.8 662.3"/>
<path d="M417.4 636.1 L422.4 643.6 L429.9 647.4 L437.4 643.6 L444.9 637.4 L454.9 631.1 L464.9 628.6 L471.1 627.4"/>
<path d="M501.1 722.3 L503.6 712.3 L506.1 702.3 L509.8 694.8 L517.3 691.1 L526.1 692.3 L532.3 697.3 L534.8 702.3"/>
<path d="M534.8 657.4 L531.1 663.6 L532.3 672.3 L536.1 679.8 L537.3 684.8"/>
<path d="M653.7 599.9 L651.2 604.9"/>
<path d="M560.0 661.1 L570.0 662.8 L578.7 662.3 L583.7 659.9 L590.0 652.4 L592.0 639.9 L593.7 631.1 L602.5 628.6 L606.2 619.9 L613.7 612.4 L621.2 606.1 L625.5 601.9 L634.9 601.9 L644.9 602.9 L651.2 607.4 L659.9 609.4 L669.9 613.6 L677.4 619.9 L682.4 624.4 L688.7 619.9 L696.1 617.4 L701.1 614.9 L709.9 616.9 L718.6 616.1 L721.1 611.1 L721.9 603.6 L726.1 598.6 L732.4 598.6 L738.6 603.6 L746.1 611.1 L752.4 617.4 L757.4 617.4 L761.1 611.1 L766.1 606.1 L772.3 607.4 L779.8 609.9 L788.6 612.4 L797.3 616.1"/>
<path d="M583.7 659.9 L592.5 661.8 L602.5 661.1 L608.7 662.8 L612.5 666.1 L622.5 664.8 L634.9 665.3 L643.7 666.1 L648.7 672.3 L653.7 681.1 L657.4 689.8 L659.9 698.6 L663.7 706.1 L669.9 712.3 L673.7 717.3 L675.4 723.6 L684.9 724.8 L691.2 729.8"/>
<path d="M675.4 723.6 L669.9 727.3 L666.2 729.8"/>
<path d="M675.4 720.0 L677.4 724.5 L683.7 723.7 L689.9 730.0 L696.1 737.5 L709.9 737.5 L714.9 742.5 L718.6 748.7 L716.1 756.2 L711.9 757.5"/>
<path d="M675.4 723.7 L667.4 728.7 L658.7 736.2 L655.4 743.7 L657.4 748.7 L666.2 752.5 L667.9 757.5 L662.4 761.2 L652.4 760.0 L643.7 766.2 L639.9 772.5 L631.2 775.5 L622.5 778.7 L621.2 787.4 L618.7 794.9 L620.0 807.4 L624.5 819.9 L626.9 829.9 L626.9 837.4"/>
<path d="M620.0 808.7 L605.0 816.2 L590.0 818.7 L582.5 823.7 L577.5 828.7 L577.0 819.9 L581.2 811.2 L582.0 802.4 L577.5 794.9 L567.5 789.9 L560.0 785.5"/>
<path d="M499.9 720.0 L496.1 725.0 L487.4 730.0 L479.9 735.0 L473.6 740.0 L472.9 746.2 L477.4 752.5 L478.6 760.0 L477.9 766.2 L472.4 770.0 L464.9 773.7 L459.9 778.7 L453.6 776.2 L447.4 773.7 L439.9 778.7 L432.4 782.5 L422.4 786.2 L413.7 791.2 L408.7 794.9 L403.7 797.4 L399.9 791.2 L398.7 782.5"/>
<path d="M478.6 766.2 L489.9 762.5 L502.3 758.7 L514.8 756.2 L522.3 755.0 L523.6 762.5 L526.1 767.5 L532.3 768.7 L534.8 773.7 L537.3 778.7 L541.1 780.0 L546.1 783.7 L552.3 784.5 L561.1 786.0"/>
</g>
<g clip-path="url(#axclip)" fill="none" stroke-linejoin="round" stroke-linecap="round">
<g stroke="#000" stroke-width="2.78">
<path d="M666.1 45.5 L661.1 48.7 L659.8 55.0 L661.1 61.2 L663.6 65.0 L661.1 70.0 L656.1 75.0 L653.6 78.7 L648.6 77.5 L642.3 79.5 L641.1 77.5 L634.8 82.5 L627.3 83.0 L619.9 86.2 L613.6 88.7 L610.4 92.0 L607.4 93.0 L605.4 100.0 L603.6 105.5 L598.6 107.9 L592.4 107.9 L587.4 111.2 L586.9 114.9 L588.6 118.7 L583.6 120.4 L581.1 124.9 L586.1 126.9 L589.9 131.2 L592.4 136.2 L594.4 141.2 L594.9 146.2 L593.6 152.4 L595.6 157.4 L597.9 162.4 L598.6 164.9 L594.9 167.4 L589.9 167.9 L583.6 166.2 L578.6 168.7 L577.4 173.6 L572.9 172.4"/>
<path d="M443.7 211.9 L452.5 175.4 L465.0 171.2 L476.2 168.7 L489.9 164.2 L493.7 179.9 L504.9 186.1 L514.9 189.4 L519.9 189.9 L523.7 188.6 L526.2 173.6"/>
<path d="M561.9 223.6 L557.9 224.9 L557.4 229.9 L561.1 232.4 L561.9 237.4 L559.9 242.3 L556.1 244.8 L556.9 251.1 L559.9 253.6 L556.1 254.8 L552.4 253.6 L551.9 259.8 L551.2 266.1 L549.9 271.1 L553.6 274.8 L556.9 273.6 L554.9 269.8 L551.2 272.3 L552.4 277.3 L549.9 281.1 L546.9 282.3 L546.2 287.3 L548.7 289.8 L552.4 291.1 L553.6 287.3 L551.9 289.8 L554.9 294.8 L558.6 299.8 L561.1 304.8 L559.9 309.8"/>
<path d="M575.0 174.1 L572.0 168.7 L569.1 167.9 L567.5 170.4 L567.9 174.1 L569.5 175.4 L566.6 177.1 L564.1 177.5 L565.4 181.2 L568.7 184.1 L569.5 186.6 L567.5 189.1 L564.1 190.8 L559.1 191.2 L559.6 193.7 L562.5 195.8 L564.5 196.6 L565.4 198.7 L570.0 194.5 L573.3 196.2 L574.1 201.6 L574.5 204.5 L572.5 207.5 L570.4 210.8 L567.5 212.0 L563.3 212.3 L558.3 212.6 L553.3 210.8 L549.1 208.7 L555.4 195.0 L552.5 183.3 L539.6 175.4 L526.2 173.7 L524.6 187.9 L520.0 190.0"/>
<path d="M563.3 212.3 L562.9 216.6 L562.6 222.4 L559.1 224.1 L557.5 225.8 L557.5 229.1 L556.6 231.2 L559.6 232.8 L561.6 233.7 L560.0 237.4 L558.7 239.9"/>
<path d="M444.9 211.2 L427.4 225.0 L411.2 237.5 L407.4 251.2 L404.4 262.5 L402.4 268.7 L393.7 271.9 L386.2 277.4 L381.9 286.2 L382.9 299.9 L380.4 312.4 L374.9 323.7 L365.5 329.9 L361.2 336.1 L362.0 347.4 L369.9 357.4 L372.4 362.4 L371.9 368.6 L367.9 371.9 L356.2 374.4 L353.7 379.4 L352.0 386.1 L341.2 383.6 L338.7 386.9 L332.0 387.9 L331.2 397.4 L330.0 407.3 L323.7 424.8 L318.0 436.1 L312.5 437.3 L308.7 446.1 L311.2 453.6 L323.7 459.8 L335.0 466.1 L337.5 469.8"/>
<path d="M559.8 309.9 L559.8 314.9 L563.6 318.7 L568.5 322.4 L567.3 327.4 L559.8 328.7 L558.6 331.2 L564.8 334.9 L569.8 337.4 L571.0 343.6 L568.5 348.6 L563.6 349.9 L566.1 352.4 L572.3 351.1 L574.8 356.1 L581.0 361.1 L584.8 362.4 L583.5 369.9 L584.8 377.4 L587.3 383.6 L589.8 389.9 L591.0 393.6 L596.0 391.1 L593.5 386.1 L594.8 381.1 L599.8 378.6"/>
<path d="M597.5 379.5 L598.7 386.2 L600.0 392.5 L602.5 397.4 L605.0 395.0 L608.7 392.5 L612.5 396.2 L618.7 397.9 L617.0 403.7 L620.0 409.9 L618.7 416.2 L616.2 421.2 L618.0 426.2 L622.5 427.4 L625.0 432.4 L623.7 436.9 L621.2 437.4 L625.0 442.4 L627.4 448.7 L631.2 451.9 L634.9 453.7 L637.4 457.4 L642.4 463.6 L646.2 467.4 L651.2 469.9 L654.9 468.6 L658.7 472.4 L662.4 472.9 L664.9 477.4 L667.4 481.1 L672.4 478.6 L676.2 479.4 L677.4 484.9 L679.4 489.9 L681.9 494.9 L682.4 502.4 L681.9 508.6 L686.2 511.1 L691.2 509.4 L693.6 504.9 L694.9 499.9 L698.6 497.4 L709.9 496.9 L714.9 503.6 L722.4 513.6 L729.9 523.6 L734.9 528.6 L742.4 530.3 L749.9 531.8 L751.9 536.8 L754.9 536.1 L759.4 533.6 L761.1 536.1 L768.6 536.1 L772.3 531.1 L776.1 526.9 L779.8 525.4 L783.6 528.6 L788.6 533.6 L793.6 536.1 L796.1 535.3 L801.1 537.8 L803.6 541.1 L806.1 546.1 L809.8 541.1 L809.8 536.1 L813.6 534.8 L817.3 538.6 L817.8 543.6 L813.6 548.6 L808.6 552.3 L803.6 556.1 L801.8 561.1 L806.1 563.6 L808.6 566.1 L806.1 571.1 L804.8 576.1 L808.6 578.6 L809.8 584.8 L807.3 589.8 L801.1 592.3 L798.6 596.1 L798.6 599.8"/>
<path d="M337.5 469.7 L335.5 470.0 L332.5 472.0 L331.2 476.2 L317.5 478.7 L317.0 491.2 L312.5 493.7 L312.0 501.2 L309.5 510.0 L311.2 518.7 L310.0 527.4 L313.7 532.4 L317.0 539.9 L317.5 550.4 L332.5 551.2 L340.0 559.9 L347.4 573.7 L354.9 587.4 L361.2 599.9 L363.7 614.9 L366.2 621.1 L377.4 621.1 L387.4 619.9 L393.7 626.1 L398.7 632.4 L402.4 637.9 L395.4 646.1 L391.9 656.1 L392.9 666.1 L402.4 672.3 L411.2 677.3 L416.9 682.3 L414.9 694.8 L414.4 707.3 L399.9 709.3 L397.4 717.3 L393.7 724.8 L391.2 729.8"/>
<path d="M798.6 599.9 L797.8 604.9 L799.3 612.4 L800.3 618.6 L806.1 621.1 L808.6 623.6 L806.1 626.9 L801.1 624.9 L796.1 622.4 L794.3 624.9 L798.6 628.6 L802.8 632.4 L801.1 634.9 L796.1 637.4 L791.1 643.6 L784.8 649.9 L777.3 653.6 L772.3 657.4 L768.6 663.6 L763.6 669.8 L757.4 674.8 L752.4 679.8 L749.9 684.8 L753.6 687.3 L758.6 688.6 L759.4 693.6 L756.1 701.1 L752.4 711.1 L748.6 721.1 L745.4 729.8"/>
<path d="M745.4 729.7 L741.1 735.0 L734.9 742.5 L729.9 746.2 L723.6 747.5 L718.6 751.2 L716.1 757.5 L717.4 763.7 L721.1 766.2 L719.9 770.0 L714.9 770.0 L709.9 768.7 L706.1 772.5 L706.1 777.5 L711.1 782.5 L717.4 786.2 L721.1 789.9 L721.1 794.9 L717.4 799.9 L711.1 806.2 L707.4 811.2 L705.6 816.2 L706.9 824.9 L709.4 833.7 L711.1 842.4 L711.9 852.4 L712.4 864.9 L711.9 877.4 L711.9 887.4"/>
<path d="M560.0 856.9 L567.5 859.4 L575.5 854.9 L576.2 843.7 L587.5 838.7 L590.0 840.4 L613.7 840.4 L614.5 837.4 L626.2 839.4 L631.2 835.4 L642.4 839.4 L652.4 842.9 L656.2 852.4 L662.4 859.9 L667.4 859.4 L664.9 864.9 L672.4 867.4 L681.2 869.9 L689.9 879.4 L697.4 877.9 L702.4 879.9 L711.1 887.4"/>
<path d="M711.9 878.6 L716.1 882.4 L722.4 881.1 L729.9 882.9 L737.4 880.4 L742.4 876.1 L746.1 871.1 L751.1 870.6 L754.9 874.9 L757.4 878.6 L763.6 879.9 L769.8 884.4 L774.8 881.1 L781.1 887.4 L788.6 894.9 L796.1 896.9 L803.6 902.4 L812.3 911.1 L821.1 912.4 L828.5 919.9 L834.8 927.3 L828.5 929.8 L822.3 936.1 L822.8 942.3 L828.5 947.3 L832.3 946.1 L832.3 951.1 L838.5 957.3 L846.0 956.1 L853.5 961.1 L854.8 968.6 L852.3 977.3"/>
<path d="M852.4 977.4 L858.6 974.9 L863.6 979.4 L861.1 986.1 L857.4 992.4 L854.9 996.1 L851.1 989.9 L844.9 987.4 L839.9 991.1 L839.9 997.4 L843.6 1002.3 L846.1 1007.3 L849.9 1011.1 L856.1 1009.8 L858.6 1014.8 L856.1 1022.3 L859.9 1027.3 L864.9 1032.3 L868.6 1037.3 L872.4 1042.8 L877.4 1042.3 L880.4 1046.1"/>
<path d="M391.2 729.7 L389.4 738.7 L384.9 745.0 L379.9 750.0 L380.4 756.2 L386.2 759.5 L392.4 760.0 L391.9 770.0 L386.2 778.7 L379.9 783.7 L371.2 789.9 L366.2 794.4 L358.7 796.2 L353.7 801.2 L351.2 806.2 L353.7 810.4 L360.0 807.9 L366.9 806.2 L369.9 812.4 L372.4 817.9 L366.9 821.9 L367.4 827.4 L374.9 834.9 L381.2 841.2 L386.9 846.2 L396.2 847.9 L404.9 849.9 L412.4 846.9 L417.4 845.4 L424.9 847.4 L436.1 846.9 L444.9 853.6 L454.9 856.9 L456.1 867.4 L457.9 881.1 L463.6 886.9 L461.1 893.6 L463.6 896.1 L473.6 891.9 L482.4 892.9 L491.1 894.4 L492.4 897.4 L501.1 899.4 L506.1 889.9 L511.1 881.9 L519.8 881.9 L526.1 886.1 L531.1 891.9 L539.8 894.4 L540.3 879.9 L544.3 874.9 L553.6 871.9 L557.3 857.4 L561.1 856.9"/>
<path d="M300.0 806.2 L307.5 808.7 L316.2 805.4 L317.5 787.4 L325.0 785.5 L330.0 788.7 L337.5 793.7 L345.0 797.4 L353.7 801.2"/>
<path d="M83.7 733.0 L95.0 745.0 L105.0 754.9 L106.2 763.7 L110.0 776.2 L119.5 781.2 L117.5 788.7 L113.7 795.4 L121.2 803.7 L127.5 811.2 L126.2 821.1 L116.2 829.4 L126.2 838.6 L128.0 846.9 L131.2 850.4 L140.0 841.1 L151.2 839.9 L159.9 837.9 L169.9 834.9 L177.4 829.9 L182.4 822.4 L186.2 818.6 L194.9 820.4 L203.7 823.6 L209.9 826.9 L216.1 836.1 L221.1 841.9 L224.9 836.1 L227.9 827.4 L227.4 817.9 L231.1 813.6 L236.1 807.4 L237.9 802.4 L244.9 797.4 L253.6 795.4 L259.9 799.4 L272.4 801.9 L281.1 807.4 L292.3 806.2 L299.8 806.2"/>
</g></g>
<g clip-path="url(#axclip)">
<g stroke="#000" fill="none">
<path stroke-width="1.9" d="M425.5 378.5h8"/><path stroke-width="1.3" d="M429.5 374.1v8.8"/>
<path stroke-width="1.9" d="M535.4 498.4h8"/><path stroke-width="1.3" d="M539.4 494.0v8.8"/>
<path stroke-width="1.9" d="M606.7 721.8h8"/><path stroke-width="1.3" d="M610.7 717.4v8.8"/>
<path stroke-width="1.9" d="M463.4 848.9h8"/><path stroke-width="1.3" d="M467.4 844.5v8.8"/>
</g>
<g font-size="19.44px" font-weight="bold" fill="#000" text-anchor="middle">
<text x="424.5" y="367.5">Wiltz</text>
<text x="564.3" y="487.3">Ettelbruck</text>
<text x="611.6" y="710.6">Findel</text>
<text x="503.6" y="837.4">Esch/Alzette</text>
</g>
<circle cx="154.9" cy="430.6" r="5.2" fill="#ff0000" stroke="#000" stroke-width="1.1"/>
</g>
<rect x="85.5" y="45.5" width="907.0" height="1001.0" fill="none" stroke="#000" stroke-width="1.07"/>
<g font-size="16.67px" fill="#000">
<text x="215.1" y="1067.3" text-anchor="middle">5.6°E</text>
<text x="344.6" y="1067.3" text-anchor="middle">5.8°E</text>
<text x="474.2" y="1067.3" text-anchor="middle">6°E</text>
<text x="603.8" y="1067.3" text-anchor="middle">6.2°E</text>
<text x="733.4" y="1067.3" text-anchor="middle">6.4°E</text>
<text x="862.9" y="1067.3" text-anchor="middle">6.6°E</text>
<text x="78" y="102.0" text-anchor="end">50.25°N</text>
<text x="78" y="253.4" text-anchor="end">50.1°N</text>
<text x="78" y="404.2" text-anchor="end">49.95°N</text>
<text x="78" y="554.6" text-anchor="end">49.8°N</text>
<text x="78" y="704.5" text-anchor="end">49.65°N</text>
<text x="78" y="853.9" text-anchor="end">49.5°N</text>
<text x="78" y="1002.9" text-anchor="end">49.35°N</text>
</g>
<text x="539" y="37.6" font-size="34.72px" text-anchor="middle" fill="#000">18.02.2026 09:41 UTC</text>
<rect x="94.4" y="50.4" width="247" height="50.3" fill="#fff" stroke="#000" stroke-width="1.07"/>
<g font-size="16.67px" fill="#000"><text x="100" y="69.6">Product: 3.4° Radial Velocity</text><text x="100" y="90.6">Data: RMIB</text></g>
<g shape-rendering="crispEdges">
<rect x="1050.5" y="95.20" width="45.1" height="15.52" fill="#FC9C5C"/>
<rect x="1050.5" y="110.22" width="45.1" height="15.52" fill="#FDA464"/>
<rect x="1050.5" y="125.24" width="45.1" height="15.52" fill="#FDB070"/>
<rect x="1050.5" y="140.26" width="45.1" height="15.52" fill="#FDBC7C"/>
<rect x="1050.5" y="155.28" width="45.1" height="15.52" fill="#FEC484"/>
<rect x="1050.5" y="170.30" width="45.1" height="15.52" fill="#FED48C"/>
<rect x="1050.5" y="185.32" width="45.1" height="15.52" fill="#FEE49C"/>
<rect x="1050.5" y="200.34" width="45.1" height="15.52" fill="#FCD4B0"/>
<rect x="1050.5" y="215.36" width="45.1" height="15.52" fill="#FCB8B8"/>
<rect x="1050.5" y="230.38" width="45.1" height="15.52" fill="#FCA0C8"/>
<rect x="1050.5" y="245.40" width="45.1" height="15.52" fill="#FC88CC"/>
<rect x="1050.5" y="260.42" width="45.1" height="15.52" fill="#FC78B4"/>
<rect x="1050.5" y="275.44" width="45.1" height="15.52" fill="#F86896"/>
<rect x="1050.5" y="290.46" width="45.1" height="15.52" fill="#FC5C84"/>
<rect x="1050.5" y="305.48" width="45.1" height="15.52" fill="#FC5070"/>
<rect x="1050.5" y="320.50" width="45.1" height="15.52" fill="#FC4058"/>
<rect x="1050.5" y="335.52" width="45.1" height="15.52" fill="#F80008"/>
<rect x="1050.5" y="350.54" width="45.1" height="15.52" fill="#E8000C"/>
<rect x="1050.5" y="365.56" width="45.1" height="15.52" fill="#DC0010"/>
<rect x="1050.5" y="380.58" width="45.1" height="15.52" fill="#CC000C"/>
<rect x="1050.5" y="395.60" width="45.1" height="15.52" fill="#BC0008"/>
<rect x="1050.5" y="410.62" width="45.1" height="15.52" fill="#B00008"/>
<rect x="1050.5" y="425.64" width="45.1" height="15.52" fill="#A00008"/>
<rect x="1050.5" y="440.66" width="45.1" height="15.52" fill="#900006"/>
<rect x="1050.5" y="455.68" width="45.1" height="15.52" fill="#800004"/>
<rect x="1050.5" y="470.70" width="45.1" height="15.52" fill="#700000"/>
<rect x="1050.5" y="485.72" width="45.1" height="15.52" fill="#88444E"/>
<rect x="1050.5" y="500.74" width="45.1" height="15.52" fill="#88586A"/>
<rect x="1050.5" y="515.76" width="45.1" height="15.52" fill="#886A78"/>
<rect x="1050.5" y="530.78" width="45.1" height="15.52" fill="#887A7A"/>
<rect x="1050.5" y="545.80" width="45.1" height="15.52" fill="#6C806C"/>
<rect x="1050.5" y="560.82" width="45.1" height="15.52" fill="#647E64"/>
<rect x="1050.5" y="575.84" width="45.1" height="15.52" fill="#587C58"/>
<rect x="1050.5" y="590.86" width="45.1" height="15.52" fill="#066806"/>
<rect x="1050.5" y="605.88" width="45.1" height="15.52" fill="#087408"/>
<rect x="1050.5" y="620.90" width="45.1" height="15.52" fill="#087C08"/>
<rect x="1050.5" y="635.92" width="45.1" height="15.52" fill="#088808"/>
<rect x="1050.5" y="650.94" width="45.1" height="15.52" fill="#089408"/>
<rect x="1050.5" y="665.96" width="45.1" height="15.52" fill="#08A008"/>
<rect x="1050.5" y="680.98" width="45.1" height="15.52" fill="#08AC08"/>
<rect x="1050.5" y="696.00" width="45.1" height="15.52" fill="#08B808"/>
<rect x="1050.5" y="711.02" width="45.1" height="15.52" fill="#08C808"/>
<rect x="1050.5" y="726.04" width="45.1" height="15.52" fill="#08D808"/>
<rect x="1050.5" y="741.06" width="45.1" height="15.52" fill="#08E808"/>
<rect x="1050.5" y="756.08" width="45.1" height="15.52" fill="#20F828"/>
<rect x="1050.5" y="771.10" width="45.1" height="15.52" fill="#48F458"/>
<rect x="1050.5" y="786.12" width="45.1" height="15.52" fill="#68F07C"/>
<rect x="1050.5" y="801.14" width="45.1" height="15.52" fill="#90F0B0"/>
<rect x="1050.5" y="816.16" width="45.1" height="15.52" fill="#B0ECF0"/>
<rect x="1050.5" y="831.18" width="45.1" height="15.52" fill="#A4E8F0"/>
<rect x="1050.5" y="846.20" width="45.1" height="15.52" fill="#94E6EC"/>
<rect x="1050.5" y="861.22" width="45.1" height="15.52" fill="#80E4E8"/>
<rect x="1050.5" y="876.24" width="45.1" height="15.52" fill="#70E2E6"/>
<rect x="1050.5" y="891.26" width="45.1" height="15.52" fill="#60E0E4"/>
<rect x="1050.5" y="906.28" width="45.1" height="15.52" fill="#50DEE2"/>
<rect x="1050.5" y="921.30" width="45.1" height="15.52" fill="#40DEE0"/>
<rect x="1050.5" y="936.32" width="45.1" height="15.52" fill="#30DEDE"/>
<rect x="1050.5" y="951.34" width="45.1" height="15.52" fill="#28B0CC"/>
<rect x="1050.5" y="966.36" width="45.1" height="15.52" fill="#2898C8"/>
<rect x="1050.5" y="981.38" width="45.1" height="15.52" fill="#2880C4"/>
</g>
<rect x="1050.5" y="95.2" width="45.1" height="901.2" fill="none" stroke="#000" stroke-width="1.07"/>
<g stroke="#000" stroke-width="1.07">
<path d="M1095.6 996.4h4.9"/>
<path d="M1095.6 921.3h4.9"/>
<path d="M1095.6 846.2h4.9"/>
<path d="M1095.6 771.1h4.9"/>
<path d="M1095.6 696.0h4.9"/>
<path d="M1095.6 620.9h4.9"/>
<path d="M1095.6 545.8h4.9"/>
<path d="M1095.6 470.7h4.9"/>
<path d="M1095.6 395.6h4.9"/>
<path d="M1095.6 320.5h4.9"/>
<path d="M1095.6 245.4h4.9"/>
<path d="M1095.6 170.3h4.9"/>
<path d="M1095.6 95.2h4.9"/>
</g>
<g font-size="27.78px" fill="#000">
<text x="1105.3" y="1007.0">−60</text>
<text x="1105.3" y="931.9">−50</text>
<text x="1105.3" y="856.8">−40</text>
<text x="1105.3" y="781.7">−30</text>
<text x="1105.3" y="706.6">−20</text>
<text x="1105.3" y="631.5">−10</text>
<text x="1105.3" y="556.4">0</text>
<text x="1105.3" y="481.3">10</text>
<text x="1105.3" y="406.2">20</text>
<text x="1105.3" y="331.1">30</text>
<text x="1105.3" y="256.0">40</text>
<text x="1105.3" y="180.9">50</text>
<text x="1105.3" y="105.8">60</text>
</g>
<text transform="translate(1193.6 549.3) rotate(-90)" font-size="27.78px" text-anchor="middle" fill="#000">m/s</text>
</svg></body></html>
